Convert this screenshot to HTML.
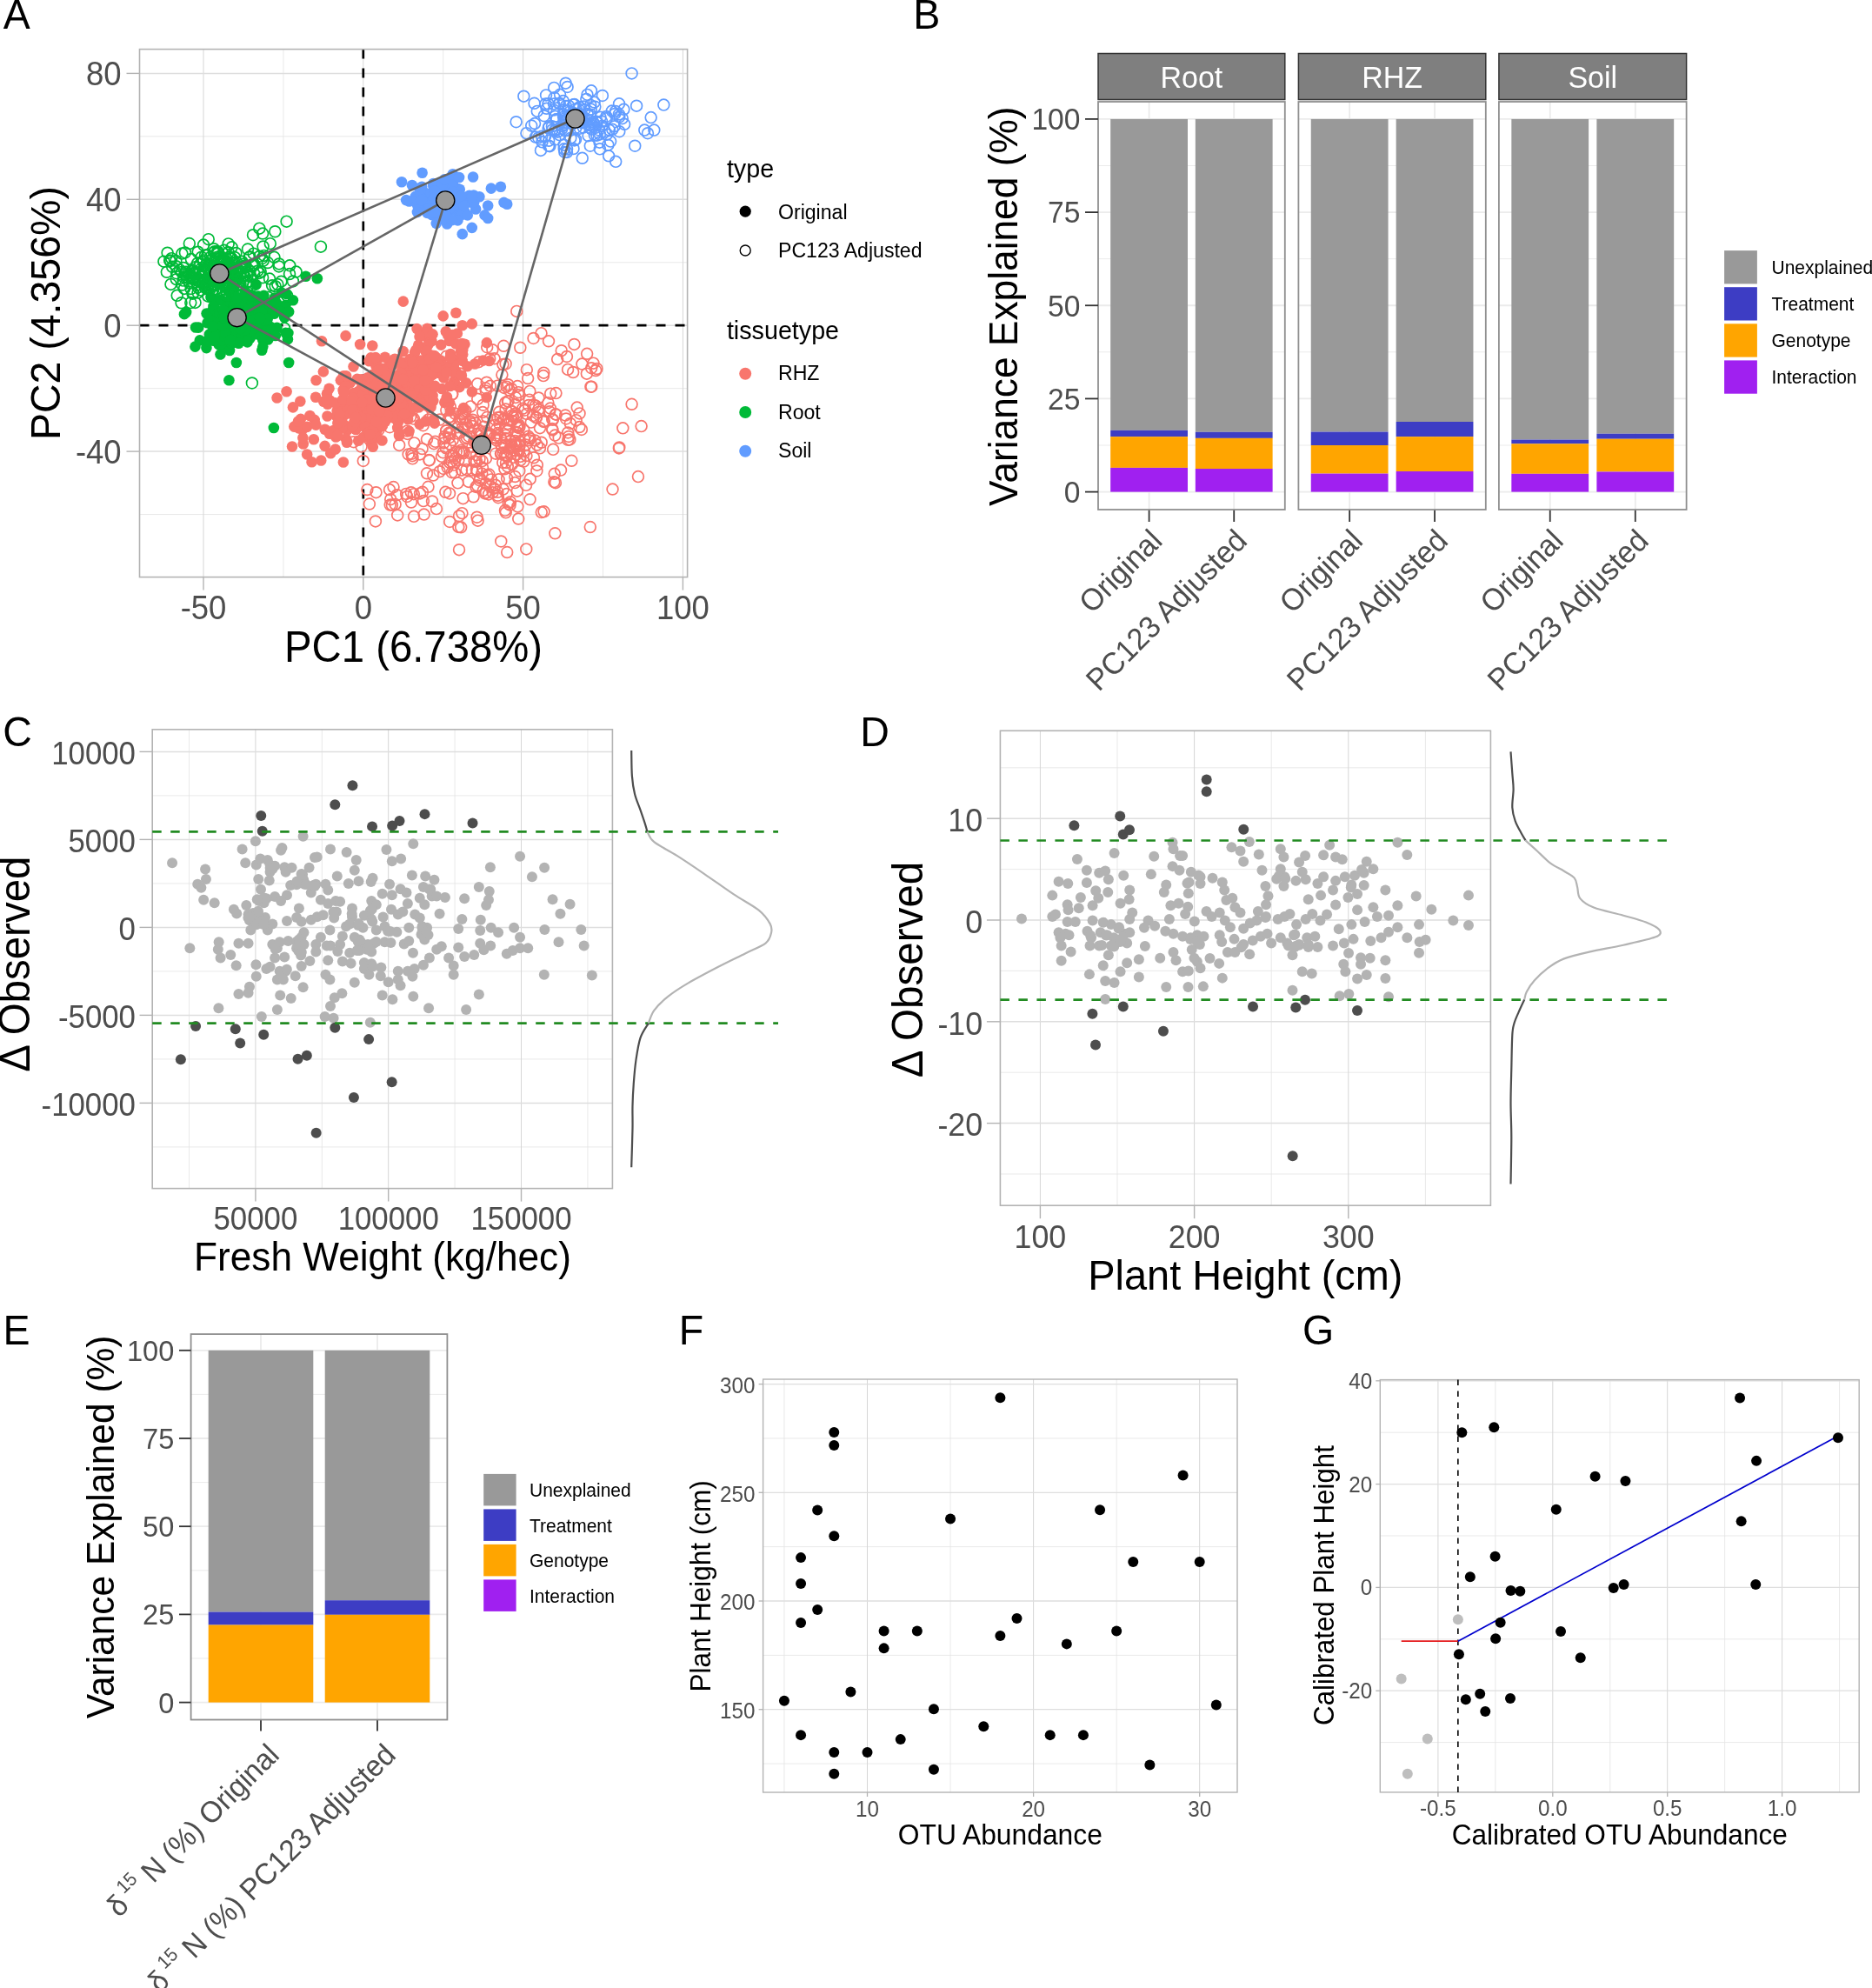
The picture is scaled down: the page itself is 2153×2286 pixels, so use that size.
<!DOCTYPE html>
<html><head><meta charset="utf-8"><style>
html,body{margin:0;padding:0;background:#fff;}
svg{display:block;will-change:transform;}
text{font-family:"Liberation Sans", sans-serif;-webkit-font-smoothing:antialiased;}
</style></head><body>
<svg width="2153" height="2286" viewBox="0 0 2153 2286">
<rect width="2153" height="2286" fill="#fff"/>
<text transform="translate(3.8 32.9) scale(1 1.03)" font-size="46.5" fill="#000" text-anchor="start">A</text>
<text transform="translate(1050.2 32.9) scale(1 1.03)" font-size="46.5" fill="#000" text-anchor="start">B</text>
<text transform="translate(3.3 857.8) scale(1 1.03)" font-size="46.5" fill="#000" text-anchor="start">C</text>
<text transform="translate(989.2 858) scale(1 1.03)" font-size="46.5" fill="#000" text-anchor="start">D</text>
<text transform="translate(3.5 1545.7) scale(1 1.03)" font-size="46.5" fill="#000" text-anchor="start">E</text>
<text transform="translate(780.8 1545.8) scale(1 1.03)" font-size="46.5" fill="#000" text-anchor="start">F</text>
<text transform="translate(1498.1 1545.7) scale(1 1.03)" font-size="46.5" fill="#000" text-anchor="start">G</text>
<clipPath id="clipA"><rect x="160.5" y="56.6" width="630.1" height="607"/></clipPath>
<line x1="325.9" y1="56.6" x2="325.9" y2="663.6" stroke="#E3E3E3" stroke-width="0.8"/>
<line x1="509.7" y1="56.6" x2="509.7" y2="663.6" stroke="#E3E3E3" stroke-width="0.8"/>
<line x1="693.5" y1="56.6" x2="693.5" y2="663.6" stroke="#E3E3E3" stroke-width="0.8"/>
<line x1="160.5" y1="591.55" x2="790.6" y2="591.55" stroke="#E3E3E3" stroke-width="0.8"/>
<line x1="160.5" y1="446.65" x2="790.6" y2="446.65" stroke="#E3E3E3" stroke-width="0.8"/>
<line x1="160.5" y1="301.75" x2="790.6" y2="301.75" stroke="#E3E3E3" stroke-width="0.8"/>
<line x1="160.5" y1="156.85" x2="790.6" y2="156.85" stroke="#E3E3E3" stroke-width="0.8"/>
<line x1="234" y1="56.6" x2="234" y2="663.6" stroke="#D6D6D6" stroke-width="1.0"/>
<line x1="417.8" y1="56.6" x2="417.8" y2="663.6" stroke="#D6D6D6" stroke-width="1.0"/>
<line x1="601.6" y1="56.6" x2="601.6" y2="663.6" stroke="#D6D6D6" stroke-width="1.0"/>
<line x1="785.4" y1="56.6" x2="785.4" y2="663.6" stroke="#D6D6D6" stroke-width="1.0"/>
<line x1="160.5" y1="519.1" x2="790.6" y2="519.1" stroke="#DEDEDE" stroke-width="1.5"/>
<line x1="160.5" y1="374.2" x2="790.6" y2="374.2" stroke="#DEDEDE" stroke-width="1.5"/>
<line x1="160.5" y1="229.3" x2="790.6" y2="229.3" stroke="#DEDEDE" stroke-width="1.5"/>
<line x1="160.5" y1="84.4" x2="790.6" y2="84.4" stroke="#DEDEDE" stroke-width="1.5"/>
<line x1="417.8" y1="56.6" x2="417.8" y2="663.6" stroke="#000" stroke-width="2.7" stroke-dasharray="11 11"/>
<line x1="160.5" y1="374.2" x2="790.6" y2="374.2" stroke="#000" stroke-width="2.7" stroke-dasharray="11 11"/>
<g clip-path="url(#clipA)">
<circle cx="267.85" cy="363.62" r="6.3" fill="#00BA38"/><circle cx="268.57" cy="314.25" r="6.4" fill="none" stroke="#00BA38" stroke-width="1.7"/><circle cx="548.76" cy="541.79" r="6.4" fill="none" stroke="#F8766D" stroke-width="1.7"/><circle cx="503.97" cy="414.18" r="6.3" fill="#F8766D"/><circle cx="467.08" cy="567.9" r="6.4" fill="none" stroke="#F8766D" stroke-width="1.7"/><circle cx="653.3" cy="505.85" r="6.4" fill="none" stroke="#F8766D" stroke-width="1.7"/><circle cx="505.47" cy="418.41" r="6.3" fill="#F8766D"/><circle cx="402.47" cy="470.11" r="6.3" fill="#F8766D"/><circle cx="587.51" cy="506.55" r="6.4" fill="none" stroke="#F8766D" stroke-width="1.7"/><circle cx="461.86" cy="453.52" r="6.3" fill="#F8766D"/><circle cx="262.12" cy="331.8" r="6.4" fill="none" stroke="#00BA38" stroke-width="1.7"/><circle cx="580.44" cy="539.34" r="6.4" fill="none" stroke="#F8766D" stroke-width="1.7"/><circle cx="658.21" cy="142.55" r="6.4" fill="none" stroke="#619CFF" stroke-width="1.7"/><circle cx="700.85" cy="149.6" r="6.4" fill="none" stroke="#619CFF" stroke-width="1.7"/><circle cx="290.33" cy="364.33" r="6.3" fill="#00BA38"/><circle cx="679.42" cy="444.74" r="6.4" fill="none" stroke="#F8766D" stroke-width="1.7"/><circle cx="557.49" cy="247.41" r="6.3" fill="#619CFF"/><circle cx="301.29" cy="368.25" r="6.3" fill="#00BA38"/><circle cx="265.77" cy="348.46" r="6.3" fill="#00BA38"/><circle cx="635.26" cy="482.41" r="6.4" fill="none" stroke="#F8766D" stroke-width="1.7"/><circle cx="276.52" cy="360.13" r="6.3" fill="#00BA38"/><circle cx="546.44" cy="486.33" r="6.4" fill="none" stroke="#F8766D" stroke-width="1.7"/><circle cx="257.78" cy="312.65" r="6.4" fill="none" stroke="#00BA38" stroke-width="1.7"/><circle cx="707.96" cy="127.89" r="6.4" fill="none" stroke="#619CFF" stroke-width="1.7"/><circle cx="274.03" cy="370.88" r="6.3" fill="#00BA38"/><circle cx="619.23" cy="471.05" r="6.4" fill="none" stroke="#F8766D" stroke-width="1.7"/><circle cx="315.78" cy="342.49" r="6.3" fill="#00BA38"/><circle cx="316.62" cy="329.2" r="6.4" fill="none" stroke="#00BA38" stroke-width="1.7"/><circle cx="402.6" cy="440.38" r="6.3" fill="#F8766D"/><circle cx="455.84" cy="459.89" r="6.3" fill="#F8766D"/><circle cx="251.74" cy="396.27" r="6.3" fill="#00BA38"/><circle cx="707.13" cy="130.97" r="6.4" fill="none" stroke="#619CFF" stroke-width="1.7"/><circle cx="441.8" cy="455.15" r="6.3" fill="#F8766D"/><circle cx="280.53" cy="355.51" r="6.3" fill="#00BA38"/><circle cx="498.05" cy="446.47" r="6.3" fill="#F8766D"/><circle cx="581.03" cy="523.17" r="6.4" fill="none" stroke="#F8766D" stroke-width="1.7"/><circle cx="415.85" cy="477.93" r="6.3" fill="#F8766D"/><circle cx="483.91" cy="414.52" r="6.3" fill="#F8766D"/><circle cx="460.31" cy="474.52" r="6.3" fill="#F8766D"/><circle cx="571.43" cy="500.81" r="6.4" fill="none" stroke="#F8766D" stroke-width="1.7"/><circle cx="498.19" cy="213.6" r="6.3" fill="#619CFF"/><circle cx="260" cy="353.13" r="6.3" fill="#00BA38"/><circle cx="266.83" cy="356.34" r="6.3" fill="#00BA38"/><circle cx="527.39" cy="529.01" r="6.4" fill="none" stroke="#F8766D" stroke-width="1.7"/><circle cx="453.91" cy="413.63" r="6.3" fill="#F8766D"/><circle cx="588.52" cy="483.85" r="6.4" fill="none" stroke="#F8766D" stroke-width="1.7"/><circle cx="419.71" cy="491.24" r="6.3" fill="#F8766D"/><circle cx="539.34" cy="501.73" r="6.4" fill="none" stroke="#F8766D" stroke-width="1.7"/><circle cx="246.98" cy="289.19" r="6.4" fill="none" stroke="#00BA38" stroke-width="1.7"/><circle cx="508.16" cy="235.08" r="6.3" fill="#619CFF"/><circle cx="214.73" cy="318.58" r="6.4" fill="none" stroke="#00BA38" stroke-width="1.7"/><circle cx="267.44" cy="327.39" r="6.4" fill="none" stroke="#00BA38" stroke-width="1.7"/><circle cx="622.68" cy="508.75" r="6.4" fill="none" stroke="#F8766D" stroke-width="1.7"/><circle cx="227.51" cy="336.59" r="6.4" fill="none" stroke="#00BA38" stroke-width="1.7"/><circle cx="547.11" cy="240.53" r="6.3" fill="#619CFF"/><circle cx="266.05" cy="360.88" r="6.3" fill="#00BA38"/><circle cx="472.09" cy="431.06" r="6.4" fill="none" stroke="#F8766D" stroke-width="1.7"/><circle cx="447.73" cy="421.3" r="6.3" fill="#F8766D"/><circle cx="598.55" cy="524.94" r="6.4" fill="none" stroke="#F8766D" stroke-width="1.7"/><circle cx="467.33" cy="421.85" r="6.3" fill="#F8766D"/><circle cx="550.97" cy="494.73" r="6.4" fill="none" stroke="#F8766D" stroke-width="1.7"/><circle cx="282.34" cy="364.79" r="6.3" fill="#00BA38"/><circle cx="559.68" cy="439.74" r="6.4" fill="none" stroke="#F8766D" stroke-width="1.7"/><circle cx="231.16" cy="333.68" r="6.4" fill="none" stroke="#00BA38" stroke-width="1.7"/><circle cx="345.81" cy="481.89" r="6.3" fill="#F8766D"/><circle cx="524.91" cy="239.53" r="6.3" fill="#619CFF"/><circle cx="269.77" cy="377.09" r="6.3" fill="#00BA38"/><circle cx="631.01" cy="392.31" r="6.4" fill="none" stroke="#F8766D" stroke-width="1.7"/><circle cx="617.77" cy="127.88" r="6.4" fill="none" stroke="#619CFF" stroke-width="1.7"/><circle cx="256.56" cy="298.7" r="6.4" fill="none" stroke="#00BA38" stroke-width="1.7"/><circle cx="505.21" cy="415.08" r="6.3" fill="#F8766D"/><circle cx="480.97" cy="238.74" r="6.3" fill="#619CFF"/><circle cx="549.55" cy="598.64" r="6.4" fill="none" stroke="#F8766D" stroke-width="1.7"/><circle cx="264.59" cy="315.87" r="6.4" fill="none" stroke="#00BA38" stroke-width="1.7"/><circle cx="329.58" cy="254.66" r="6.4" fill="none" stroke="#00BA38" stroke-width="1.7"/><circle cx="436.69" cy="425.26" r="6.3" fill="#F8766D"/><circle cx="274.91" cy="327.04" r="6.4" fill="none" stroke="#00BA38" stroke-width="1.7"/><circle cx="276.88" cy="343.84" r="6.3" fill="#00BA38"/><circle cx="266.62" cy="307.48" r="6.4" fill="none" stroke="#00BA38" stroke-width="1.7"/><circle cx="486.99" cy="241.31" r="6.3" fill="#619CFF"/><circle cx="270.87" cy="369.69" r="6.3" fill="#00BA38"/><circle cx="563.32" cy="499" r="6.4" fill="none" stroke="#F8766D" stroke-width="1.7"/><circle cx="211.02" cy="308.08" r="6.4" fill="none" stroke="#00BA38" stroke-width="1.7"/><circle cx="333.25" cy="305.37" r="6.4" fill="none" stroke="#00BA38" stroke-width="1.7"/><circle cx="299.65" cy="312.24" r="6.4" fill="none" stroke="#00BA38" stroke-width="1.7"/><circle cx="448.12" cy="417.96" r="6.3" fill="#F8766D"/><circle cx="472.02" cy="430.93" r="6.3" fill="#F8766D"/><circle cx="302.57" cy="283.5" r="6.4" fill="none" stroke="#00BA38" stroke-width="1.7"/><circle cx="651.92" cy="409.97" r="6.4" fill="none" stroke="#F8766D" stroke-width="1.7"/><circle cx="212.92" cy="290.44" r="6.4" fill="none" stroke="#00BA38" stroke-width="1.7"/><circle cx="583.22" cy="635.02" r="6.4" fill="none" stroke="#F8766D" stroke-width="1.7"/><circle cx="262.67" cy="280.38" r="6.4" fill="none" stroke="#00BA38" stroke-width="1.7"/><circle cx="501.86" cy="219.37" r="6.3" fill="#619CFF"/><circle cx="239.41" cy="327.73" r="6.4" fill="none" stroke="#00BA38" stroke-width="1.7"/><circle cx="689.49" cy="163.68" r="6.4" fill="none" stroke="#619CFF" stroke-width="1.7"/><circle cx="241.8" cy="295.88" r="6.4" fill="none" stroke="#00BA38" stroke-width="1.7"/><circle cx="406.77" cy="508.23" r="6.4" fill="none" stroke="#F8766D" stroke-width="1.7"/><circle cx="203.7" cy="339.83" r="6.4" fill="none" stroke="#00BA38" stroke-width="1.7"/><circle cx="678.8" cy="606.04" r="6.4" fill="none" stroke="#F8766D" stroke-width="1.7"/><circle cx="513.72" cy="457.55" r="6.3" fill="#F8766D"/><circle cx="531.15" cy="519.86" r="6.4" fill="none" stroke="#F8766D" stroke-width="1.7"/><circle cx="650.23" cy="477.53" r="6.4" fill="none" stroke="#F8766D" stroke-width="1.7"/><circle cx="507.8" cy="227.03" r="6.3" fill="#619CFF"/><circle cx="620.97" cy="515.34" r="6.4" fill="none" stroke="#F8766D" stroke-width="1.7"/><circle cx="706.81" cy="145.18" r="6.4" fill="none" stroke="#619CFF" stroke-width="1.7"/><circle cx="284.4" cy="379.54" r="6.3" fill="#00BA38"/><circle cx="266.43" cy="364.03" r="6.3" fill="#00BA38"/><circle cx="288.65" cy="356.71" r="6.3" fill="#00BA38"/><circle cx="188.42" cy="300.66" r="6.4" fill="none" stroke="#00BA38" stroke-width="1.7"/><circle cx="524.51" cy="242.37" r="6.3" fill="#619CFF"/><circle cx="579.8" cy="445.94" r="6.4" fill="none" stroke="#F8766D" stroke-width="1.7"/><circle cx="560.09" cy="497.86" r="6.4" fill="none" stroke="#F8766D" stroke-width="1.7"/><circle cx="253.75" cy="371.81" r="6.3" fill="#00BA38"/><circle cx="256" cy="303.96" r="6.4" fill="none" stroke="#00BA38" stroke-width="1.7"/><circle cx="497.02" cy="576.5" r="6.4" fill="none" stroke="#F8766D" stroke-width="1.7"/><circle cx="609.66" cy="504.2" r="6.4" fill="none" stroke="#F8766D" stroke-width="1.7"/><circle cx="257.49" cy="388.58" r="6.3" fill="#00BA38"/><circle cx="588.11" cy="446.95" r="6.4" fill="none" stroke="#F8766D" stroke-width="1.7"/><circle cx="496.47" cy="392.28" r="6.3" fill="#F8766D"/><circle cx="213.51" cy="312.9" r="6.4" fill="none" stroke="#00BA38" stroke-width="1.7"/><circle cx="291.47" cy="377.28" r="6.3" fill="#00BA38"/><circle cx="197.21" cy="297.13" r="6.4" fill="none" stroke="#00BA38" stroke-width="1.7"/><circle cx="520.73" cy="385.07" r="6.3" fill="#F8766D"/><circle cx="480.27" cy="435.84" r="6.3" fill="#F8766D"/><circle cx="704.53" cy="562.57" r="6.4" fill="none" stroke="#F8766D" stroke-width="1.7"/><circle cx="263.11" cy="304.89" r="6.4" fill="none" stroke="#00BA38" stroke-width="1.7"/><circle cx="575.52" cy="479.6" r="6.4" fill="none" stroke="#F8766D" stroke-width="1.7"/><circle cx="462.75" cy="440.13" r="6.3" fill="#F8766D"/><circle cx="548" cy="523.17" r="6.4" fill="none" stroke="#F8766D" stroke-width="1.7"/><circle cx="257.48" cy="370.01" r="6.3" fill="#00BA38"/><circle cx="528.97" cy="482.29" r="6.4" fill="none" stroke="#F8766D" stroke-width="1.7"/><circle cx="741.29" cy="149.6" r="6.4" fill="none" stroke="#619CFF" stroke-width="1.7"/><circle cx="368.91" cy="283.64" r="6.4" fill="none" stroke="#00BA38" stroke-width="1.7"/><circle cx="531.44" cy="238.12" r="6.3" fill="#619CFF"/><circle cx="489.86" cy="404.75" r="6.3" fill="#F8766D"/><circle cx="560.19" cy="399.21" r="6.4" fill="none" stroke="#F8766D" stroke-width="1.7"/><circle cx="234.03" cy="314.21" r="6.4" fill="none" stroke="#00BA38" stroke-width="1.7"/><circle cx="522.21" cy="413.09" r="6.3" fill="#F8766D"/><circle cx="670.85" cy="146.58" r="6.4" fill="none" stroke="#619CFF" stroke-width="1.7"/><circle cx="261.92" cy="312.57" r="6.4" fill="none" stroke="#00BA38" stroke-width="1.7"/><circle cx="241.15" cy="330.87" r="6.4" fill="none" stroke="#00BA38" stroke-width="1.7"/><circle cx="267.43" cy="366.02" r="6.3" fill="#00BA38"/><circle cx="510.53" cy="423.8" r="6.3" fill="#F8766D"/><circle cx="583.22" cy="234.73" r="6.3" fill="#619CFF"/><circle cx="653.19" cy="497.46" r="6.4" fill="none" stroke="#F8766D" stroke-width="1.7"/><circle cx="292.17" cy="384.37" r="6.3" fill="#00BA38"/><circle cx="669.4" cy="418.59" r="6.4" fill="none" stroke="#F8766D" stroke-width="1.7"/><circle cx="262.53" cy="378.35" r="6.3" fill="#00BA38"/><circle cx="462.28" cy="436.26" r="6.3" fill="#F8766D"/><circle cx="637.2" cy="100.9" r="6.4" fill="none" stroke="#619CFF" stroke-width="1.7"/><circle cx="267.3" cy="386.39" r="6.3" fill="#00BA38"/><circle cx="429.45" cy="494.55" r="6.3" fill="#F8766D"/><circle cx="264.52" cy="387.59" r="6.3" fill="#00BA38"/><circle cx="310.79" cy="280.16" r="6.4" fill="none" stroke="#00BA38" stroke-width="1.7"/><circle cx="470.62" cy="231.48" r="6.3" fill="#619CFF"/><circle cx="254.35" cy="344.87" r="6.3" fill="#00BA38"/><circle cx="257.46" cy="396.81" r="6.3" fill="#00BA38"/><circle cx="516.14" cy="480.2" r="6.4" fill="none" stroke="#F8766D" stroke-width="1.7"/><circle cx="269.98" cy="295.95" r="6.4" fill="none" stroke="#00BA38" stroke-width="1.7"/><circle cx="438.6" cy="460.76" r="6.3" fill="#F8766D"/><circle cx="395.23" cy="432.21" r="6.3" fill="#F8766D"/><circle cx="398.21" cy="490.03" r="6.3" fill="#F8766D"/><circle cx="316.73" cy="359.05" r="6.3" fill="#00BA38"/><circle cx="483.14" cy="240.23" r="6.3" fill="#619CFF"/><circle cx="528.91" cy="226.75" r="6.3" fill="#619CFF"/><circle cx="266.03" cy="371.67" r="6.3" fill="#00BA38"/><circle cx="291.57" cy="354.4" r="6.3" fill="#00BA38"/><circle cx="271.33" cy="313.32" r="6.4" fill="none" stroke="#00BA38" stroke-width="1.7"/><circle cx="277.84" cy="368.11" r="6.3" fill="#00BA38"/><circle cx="297.02" cy="374.6" r="6.3" fill="#00BA38"/><circle cx="276.29" cy="353.28" r="6.3" fill="#00BA38"/><circle cx="475.88" cy="481.62" r="6.4" fill="none" stroke="#F8766D" stroke-width="1.7"/><circle cx="533.24" cy="468.94" r="6.3" fill="#F8766D"/><circle cx="428.86" cy="513.76" r="6.3" fill="#F8766D"/><circle cx="320.84" cy="357.07" r="6.3" fill="#00BA38"/><circle cx="625.74" cy="133.24" r="6.4" fill="none" stroke="#619CFF" stroke-width="1.7"/><circle cx="289.58" cy="341.49" r="6.4" fill="none" stroke="#00BA38" stroke-width="1.7"/><circle cx="492.84" cy="482.46" r="6.4" fill="none" stroke="#F8766D" stroke-width="1.7"/><circle cx="320.95" cy="303.44" r="6.4" fill="none" stroke="#00BA38" stroke-width="1.7"/><circle cx="486.65" cy="489.24" r="6.4" fill="none" stroke="#F8766D" stroke-width="1.7"/><circle cx="251.68" cy="368.13" r="6.3" fill="#00BA38"/><circle cx="447.35" cy="470.03" r="6.3" fill="#F8766D"/><circle cx="292.18" cy="314.73" r="6.4" fill="none" stroke="#00BA38" stroke-width="1.7"/><circle cx="211.94" cy="361.16" r="6.3" fill="#00BA38"/><circle cx="530.47" cy="517.83" r="6.4" fill="none" stroke="#F8766D" stroke-width="1.7"/><circle cx="494.34" cy="433.02" r="6.3" fill="#F8766D"/><circle cx="286.28" cy="353.02" r="6.3" fill="#00BA38"/><circle cx="509.29" cy="210.11" r="6.3" fill="#619CFF"/><circle cx="531.73" cy="414.92" r="6.3" fill="#F8766D"/><circle cx="234.73" cy="312.59" r="6.4" fill="none" stroke="#00BA38" stroke-width="1.7"/><circle cx="265.78" cy="357.15" r="6.3" fill="#00BA38"/><circle cx="524.4" cy="359.71" r="6.3" fill="#F8766D"/><circle cx="482.82" cy="522.39" r="6.4" fill="none" stroke="#F8766D" stroke-width="1.7"/><circle cx="733.94" cy="548.08" r="6.4" fill="none" stroke="#F8766D" stroke-width="1.7"/><circle cx="512.84" cy="381.26" r="6.3" fill="#F8766D"/><circle cx="554.6" cy="530.08" r="6.4" fill="none" stroke="#F8766D" stroke-width="1.7"/><circle cx="540.51" cy="485.92" r="6.4" fill="none" stroke="#F8766D" stroke-width="1.7"/><circle cx="517.11" cy="531.91" r="6.4" fill="none" stroke="#F8766D" stroke-width="1.7"/><circle cx="630.64" cy="147.25" r="6.4" fill="none" stroke="#619CFF" stroke-width="1.7"/><circle cx="656.34" cy="158.63" r="6.4" fill="none" stroke="#619CFF" stroke-width="1.7"/><circle cx="518.42" cy="228.87" r="6.3" fill="#619CFF"/><circle cx="263.34" cy="326.14" r="6.4" fill="none" stroke="#00BA38" stroke-width="1.7"/><circle cx="264.89" cy="382.1" r="6.3" fill="#00BA38"/><circle cx="574.42" cy="487.6" r="6.4" fill="none" stroke="#F8766D" stroke-width="1.7"/><circle cx="244.61" cy="320.51" r="6.4" fill="none" stroke="#00BA38" stroke-width="1.7"/><circle cx="467.08" cy="230.11" r="6.3" fill="#619CFF"/><circle cx="635.11" cy="493.05" r="6.4" fill="none" stroke="#F8766D" stroke-width="1.7"/><circle cx="447.52" cy="464.18" r="6.3" fill="#F8766D"/><circle cx="695.59" cy="151.22" r="6.4" fill="none" stroke="#619CFF" stroke-width="1.7"/><circle cx="485.2" cy="214.72" r="6.3" fill="#619CFF"/><circle cx="258.45" cy="308.08" r="6.4" fill="none" stroke="#00BA38" stroke-width="1.7"/><circle cx="417.68" cy="454.39" r="6.3" fill="#F8766D"/><circle cx="643.4" cy="155.13" r="6.4" fill="none" stroke="#619CFF" stroke-width="1.7"/><circle cx="665.15" cy="125.29" r="6.4" fill="none" stroke="#619CFF" stroke-width="1.7"/><circle cx="432.37" cy="468.65" r="6.3" fill="#F8766D"/><circle cx="711.88" cy="131.49" r="6.4" fill="none" stroke="#619CFF" stroke-width="1.7"/><circle cx="488.59" cy="444.88" r="6.3" fill="#F8766D"/><circle cx="448.1" cy="464.56" r="6.3" fill="#F8766D"/><circle cx="534.03" cy="473.89" r="6.4" fill="none" stroke="#F8766D" stroke-width="1.7"/><circle cx="649.54" cy="136.17" r="6.4" fill="none" stroke="#619CFF" stroke-width="1.7"/><circle cx="499.61" cy="409.36" r="6.3" fill="#F8766D"/><circle cx="485.42" cy="449.02" r="6.3" fill="#F8766D"/><circle cx="230.29" cy="303.62" r="6.4" fill="none" stroke="#00BA38" stroke-width="1.7"/><circle cx="302.49" cy="377.28" r="6.3" fill="#00BA38"/><circle cx="538.87" cy="553.93" r="6.4" fill="none" stroke="#F8766D" stroke-width="1.7"/><circle cx="270.52" cy="379.81" r="6.3" fill="#00BA38"/><circle cx="678.8" cy="167.72" r="6.4" fill="none" stroke="#619CFF" stroke-width="1.7"/><circle cx="483.1" cy="220.18" r="6.3" fill="#619CFF"/><circle cx="588.4" cy="473.35" r="6.4" fill="none" stroke="#F8766D" stroke-width="1.7"/><circle cx="234.75" cy="310.19" r="6.4" fill="none" stroke="#00BA38" stroke-width="1.7"/><circle cx="399.4" cy="494.61" r="6.3" fill="#F8766D"/><circle cx="448.11" cy="429.75" r="6.3" fill="#F8766D"/><circle cx="267.82" cy="337.48" r="6.3" fill="#00BA38"/><circle cx="683.37" cy="142.73" r="6.4" fill="none" stroke="#619CFF" stroke-width="1.7"/><circle cx="464.73" cy="419.97" r="6.3" fill="#F8766D"/><circle cx="468.61" cy="498.9" r="6.4" fill="none" stroke="#F8766D" stroke-width="1.7"/><circle cx="298.34" cy="384.95" r="6.3" fill="#00BA38"/><circle cx="286.69" cy="356.91" r="6.3" fill="#00BA38"/><circle cx="666.59" cy="123.01" r="6.4" fill="none" stroke="#619CFF" stroke-width="1.7"/><circle cx="294.92" cy="356.1" r="6.3" fill="#00BA38"/><circle cx="203.05" cy="314.24" r="6.4" fill="none" stroke="#00BA38" stroke-width="1.7"/><circle cx="437.07" cy="452.17" r="6.3" fill="#F8766D"/><circle cx="257.82" cy="287.85" r="6.4" fill="none" stroke="#00BA38" stroke-width="1.7"/><circle cx="485.96" cy="565.85" r="6.4" fill="none" stroke="#F8766D" stroke-width="1.7"/><circle cx="428.58" cy="430.86" r="6.3" fill="#F8766D"/><circle cx="274.29" cy="371.69" r="6.3" fill="#00BA38"/><circle cx="481.21" cy="458.2" r="6.3" fill="#F8766D"/><circle cx="263.49" cy="360.06" r="6.3" fill="#00BA38"/><circle cx="268.49" cy="328.12" r="6.4" fill="none" stroke="#00BA38" stroke-width="1.7"/><circle cx="442.48" cy="470.07" r="6.3" fill="#F8766D"/><circle cx="497.58" cy="454.94" r="6.3" fill="#F8766D"/><circle cx="457.16" cy="455.37" r="6.3" fill="#F8766D"/><circle cx="271.48" cy="323.24" r="6.4" fill="none" stroke="#00BA38" stroke-width="1.7"/><circle cx="466.92" cy="435" r="6.3" fill="#F8766D"/><circle cx="478.88" cy="447.82" r="6.3" fill="#F8766D"/><circle cx="480" cy="235.28" r="6.3" fill="#619CFF"/><circle cx="222.54" cy="313.95" r="6.4" fill="none" stroke="#00BA38" stroke-width="1.7"/><circle cx="250.94" cy="311.38" r="6.4" fill="none" stroke="#00BA38" stroke-width="1.7"/><circle cx="239.75" cy="275.13" r="6.4" fill="none" stroke="#00BA38" stroke-width="1.7"/><circle cx="278.22" cy="372.61" r="6.3" fill="#00BA38"/><circle cx="555.7" cy="505.15" r="6.4" fill="none" stroke="#F8766D" stroke-width="1.7"/><circle cx="266" cy="310.88" r="6.4" fill="none" stroke="#00BA38" stroke-width="1.7"/><circle cx="530.84" cy="475.99" r="6.4" fill="none" stroke="#F8766D" stroke-width="1.7"/><circle cx="573.6" cy="551.33" r="6.4" fill="none" stroke="#F8766D" stroke-width="1.7"/><circle cx="554.27" cy="544.54" r="6.4" fill="none" stroke="#F8766D" stroke-width="1.7"/><circle cx="505.8" cy="482.46" r="6.4" fill="none" stroke="#F8766D" stroke-width="1.7"/><circle cx="509.63" cy="520.35" r="6.4" fill="none" stroke="#F8766D" stroke-width="1.7"/><circle cx="470.59" cy="495.84" r="6.3" fill="#F8766D"/><circle cx="452.81" cy="439.86" r="6.3" fill="#F8766D"/><circle cx="515.84" cy="216.44" r="6.3" fill="#619CFF"/><circle cx="453.09" cy="432.46" r="6.3" fill="#F8766D"/><circle cx="252.22" cy="303.2" r="6.4" fill="none" stroke="#00BA38" stroke-width="1.7"/><circle cx="504.9" cy="220.28" r="6.3" fill="#619CFF"/><circle cx="501.06" cy="242.28" r="6.3" fill="#619CFF"/><circle cx="238.52" cy="308.13" r="6.4" fill="none" stroke="#00BA38" stroke-width="1.7"/><circle cx="466.78" cy="442.07" r="6.3" fill="#F8766D"/><circle cx="250.09" cy="289.19" r="6.4" fill="none" stroke="#00BA38" stroke-width="1.7"/><circle cx="507.09" cy="225.36" r="6.3" fill="#619CFF"/><circle cx="263.34" cy="331.92" r="6.4" fill="none" stroke="#00BA38" stroke-width="1.7"/><circle cx="279.56" cy="324.3" r="6.4" fill="none" stroke="#00BA38" stroke-width="1.7"/><circle cx="594.48" cy="477.93" r="6.4" fill="none" stroke="#F8766D" stroke-width="1.7"/><circle cx="325.9" cy="359.71" r="6.3" fill="#00BA38"/><circle cx="490.67" cy="229.35" r="6.3" fill="#619CFF"/><circle cx="431.12" cy="489.79" r="6.3" fill="#F8766D"/><circle cx="488.46" cy="221.96" r="6.3" fill="#619CFF"/><circle cx="542.84" cy="450.48" r="6.3" fill="#F8766D"/><circle cx="219.3" cy="348.12" r="6.4" fill="none" stroke="#00BA38" stroke-width="1.7"/><circle cx="258.48" cy="312.02" r="6.4" fill="none" stroke="#00BA38" stroke-width="1.7"/><circle cx="311.43" cy="376.15" r="6.3" fill="#00BA38"/><circle cx="669.44" cy="141.14" r="6.4" fill="none" stroke="#619CFF" stroke-width="1.7"/><circle cx="523.52" cy="224.08" r="6.3" fill="#619CFF"/><circle cx="283.32" cy="382.53" r="6.3" fill="#00BA38"/><circle cx="530.15" cy="606.36" r="6.4" fill="none" stroke="#F8766D" stroke-width="1.7"/><circle cx="242.51" cy="342.05" r="6.3" fill="#00BA38"/><circle cx="295.94" cy="383.9" r="6.3" fill="#00BA38"/><circle cx="647.78" cy="116.1" r="6.4" fill="none" stroke="#619CFF" stroke-width="1.7"/><circle cx="292.03" cy="305.09" r="6.4" fill="none" stroke="#00BA38" stroke-width="1.7"/><circle cx="491.8" cy="444.24" r="6.3" fill="#F8766D"/><circle cx="391.85" cy="437.35" r="6.3" fill="#F8766D"/><circle cx="631.18" cy="161.77" r="6.4" fill="none" stroke="#619CFF" stroke-width="1.7"/><circle cx="495.58" cy="237.42" r="6.3" fill="#619CFF"/><circle cx="267.46" cy="336.12" r="6.3" fill="#00BA38"/><circle cx="511.34" cy="462.82" r="6.3" fill="#F8766D"/><circle cx="614.53" cy="118.78" r="6.4" fill="none" stroke="#619CFF" stroke-width="1.7"/><circle cx="542.62" cy="232.91" r="6.3" fill="#619CFF"/><circle cx="683.58" cy="117.51" r="6.4" fill="none" stroke="#619CFF" stroke-width="1.7"/><circle cx="498.26" cy="546.5" r="6.4" fill="none" stroke="#F8766D" stroke-width="1.7"/><circle cx="253.76" cy="369.61" r="6.3" fill="#00BA38"/><circle cx="548.99" cy="499.18" r="6.4" fill="none" stroke="#F8766D" stroke-width="1.7"/><circle cx="425.2" cy="450.83" r="6.3" fill="#F8766D"/><circle cx="648.36" cy="143.35" r="6.4" fill="none" stroke="#619CFF" stroke-width="1.7"/><circle cx="517.43" cy="510.56" r="6.4" fill="none" stroke="#F8766D" stroke-width="1.7"/><circle cx="638.21" cy="150.65" r="6.4" fill="none" stroke="#619CFF" stroke-width="1.7"/><circle cx="298.32" cy="313.94" r="6.4" fill="none" stroke="#00BA38" stroke-width="1.7"/><circle cx="594.25" cy="357.9" r="6.4" fill="none" stroke="#F8766D" stroke-width="1.7"/><circle cx="636.95" cy="126.54" r="6.4" fill="none" stroke="#619CFF" stroke-width="1.7"/><circle cx="276.22" cy="376.8" r="6.3" fill="#00BA38"/><circle cx="290.21" cy="361.99" r="6.3" fill="#00BA38"/><circle cx="499" cy="221.77" r="6.3" fill="#619CFF"/><circle cx="495.86" cy="411.64" r="6.3" fill="#F8766D"/><circle cx="396.39" cy="466.67" r="6.3" fill="#F8766D"/><circle cx="272.82" cy="367.43" r="6.3" fill="#00BA38"/><circle cx="309.4" cy="355.09" r="6.3" fill="#00BA38"/><circle cx="327" cy="377.46" r="6.4" fill="none" stroke="#00BA38" stroke-width="1.7"/><circle cx="242.49" cy="299.28" r="6.4" fill="none" stroke="#00BA38" stroke-width="1.7"/><circle cx="607.73" cy="501.76" r="6.4" fill="none" stroke="#F8766D" stroke-width="1.7"/><circle cx="472.15" cy="428.21" r="6.3" fill="#F8766D"/><circle cx="431.15" cy="483.31" r="6.3" fill="#F8766D"/><circle cx="474.24" cy="419.39" r="6.3" fill="#F8766D"/><circle cx="263.06" cy="349.8" r="6.3" fill="#00BA38"/><circle cx="287.63" cy="388.82" r="6.3" fill="#00BA38"/><circle cx="283.23" cy="356.75" r="6.3" fill="#00BA38"/><circle cx="432.42" cy="421.01" r="6.3" fill="#F8766D"/><circle cx="459.67" cy="450.69" r="6.3" fill="#F8766D"/><circle cx="271.98" cy="319.75" r="6.4" fill="none" stroke="#00BA38" stroke-width="1.7"/><circle cx="469.39" cy="449.77" r="6.3" fill="#F8766D"/><circle cx="669.71" cy="181.8" r="6.4" fill="none" stroke="#619CFF" stroke-width="1.7"/><circle cx="586.92" cy="577.14" r="6.4" fill="none" stroke="#F8766D" stroke-width="1.7"/><circle cx="271.68" cy="391.83" r="6.3" fill="#00BA38"/><circle cx="437.42" cy="472.3" r="6.3" fill="#F8766D"/><circle cx="260.29" cy="366.47" r="6.3" fill="#00BA38"/><circle cx="433.31" cy="437.37" r="6.3" fill="#F8766D"/><circle cx="272.68" cy="342.79" r="6.3" fill="#00BA38"/><circle cx="485.69" cy="426.17" r="6.3" fill="#F8766D"/><circle cx="677.21" cy="144.05" r="6.4" fill="none" stroke="#619CFF" stroke-width="1.7"/><circle cx="630.53" cy="119.31" r="6.4" fill="none" stroke="#619CFF" stroke-width="1.7"/><circle cx="265.64" cy="380.78" r="6.3" fill="#00BA38"/><circle cx="542.89" cy="540.58" r="6.4" fill="none" stroke="#F8766D" stroke-width="1.7"/><circle cx="595.35" cy="582.45" r="6.4" fill="none" stroke="#F8766D" stroke-width="1.7"/><circle cx="260.59" cy="373.99" r="6.3" fill="#00BA38"/><circle cx="445.61" cy="462.56" r="6.3" fill="#F8766D"/><circle cx="301.42" cy="366.87" r="6.3" fill="#00BA38"/><circle cx="471.96" cy="431.31" r="6.3" fill="#F8766D"/><circle cx="574.09" cy="473.8" r="6.4" fill="none" stroke="#F8766D" stroke-width="1.7"/><circle cx="266.34" cy="366.64" r="6.3" fill="#00BA38"/><circle cx="268.62" cy="369.99" r="6.3" fill="#00BA38"/><circle cx="433.07" cy="460.7" r="6.3" fill="#F8766D"/><circle cx="270.01" cy="319.76" r="6.4" fill="none" stroke="#00BA38" stroke-width="1.7"/><circle cx="242.79" cy="312.06" r="6.4" fill="none" stroke="#00BA38" stroke-width="1.7"/><circle cx="579.54" cy="232.92" r="6.3" fill="#619CFF"/><circle cx="281.62" cy="374.09" r="6.3" fill="#00BA38"/><circle cx="592.35" cy="548.04" r="6.4" fill="none" stroke="#F8766D" stroke-width="1.7"/><circle cx="434.2" cy="447.18" r="6.3" fill="#F8766D"/><circle cx="283.37" cy="357.64" r="6.3" fill="#00BA38"/><circle cx="596.91" cy="492.07" r="6.4" fill="none" stroke="#F8766D" stroke-width="1.7"/><circle cx="514.17" cy="257.56" r="6.3" fill="#619CFF"/><circle cx="498.36" cy="211.06" r="6.3" fill="#619CFF"/><circle cx="412.2" cy="506.8" r="6.3" fill="#F8766D"/><circle cx="278.07" cy="308.08" r="6.4" fill="none" stroke="#00BA38" stroke-width="1.7"/><circle cx="251.02" cy="301.34" r="6.4" fill="none" stroke="#00BA38" stroke-width="1.7"/><circle cx="544.82" cy="224.53" r="6.3" fill="#619CFF"/><circle cx="331.39" cy="383.01" r="6.3" fill="#00BA38"/><circle cx="596.23" cy="596.56" r="6.4" fill="none" stroke="#F8766D" stroke-width="1.7"/><circle cx="305.25" cy="346.62" r="6.3" fill="#00BA38"/><circle cx="491.94" cy="230.52" r="6.3" fill="#619CFF"/><circle cx="649.39" cy="174.96" r="6.4" fill="none" stroke="#619CFF" stroke-width="1.7"/><circle cx="227.63" cy="330.38" r="6.4" fill="none" stroke="#00BA38" stroke-width="1.7"/><circle cx="363.1" cy="456.81" r="6.3" fill="#F8766D"/><circle cx="540.42" cy="521.08" r="6.4" fill="none" stroke="#F8766D" stroke-width="1.7"/><circle cx="464.26" cy="463.67" r="6.3" fill="#F8766D"/><circle cx="685.78" cy="139.65" r="6.4" fill="none" stroke="#619CFF" stroke-width="1.7"/><circle cx="441.27" cy="469.19" r="6.3" fill="#F8766D"/><circle cx="329.58" cy="450.27" r="6.3" fill="#F8766D"/><circle cx="392.9" cy="468.02" r="6.3" fill="#F8766D"/><circle cx="572.46" cy="480.34" r="6.4" fill="none" stroke="#F8766D" stroke-width="1.7"/><circle cx="360.82" cy="505.29" r="6.3" fill="#F8766D"/><circle cx="468.16" cy="570.97" r="6.4" fill="none" stroke="#F8766D" stroke-width="1.7"/><circle cx="285.78" cy="351.45" r="6.3" fill="#00BA38"/><circle cx="473.8" cy="440.35" r="6.3" fill="#F8766D"/><circle cx="268.35" cy="379.39" r="6.3" fill="#00BA38"/><circle cx="277.58" cy="391.67" r="6.3" fill="#00BA38"/><circle cx="631.01" cy="167.72" r="6.4" fill="none" stroke="#619CFF" stroke-width="1.7"/><circle cx="261.29" cy="350.88" r="6.3" fill="#00BA38"/><circle cx="288.53" cy="343.66" r="6.3" fill="#00BA38"/><circle cx="412.8" cy="485.91" r="6.3" fill="#F8766D"/><circle cx="593.06" cy="509.91" r="6.4" fill="none" stroke="#F8766D" stroke-width="1.7"/><circle cx="573.05" cy="572.23" r="6.4" fill="none" stroke="#F8766D" stroke-width="1.7"/><circle cx="291.54" cy="342.83" r="6.3" fill="#00BA38"/><circle cx="249.75" cy="295.86" r="6.4" fill="none" stroke="#00BA38" stroke-width="1.7"/><circle cx="372.26" cy="461.68" r="6.3" fill="#F8766D"/><circle cx="259.58" cy="316.81" r="6.4" fill="none" stroke="#00BA38" stroke-width="1.7"/><circle cx="526.77" cy="228.69" r="6.3" fill="#619CFF"/><circle cx="491.45" cy="244.84" r="6.3" fill="#619CFF"/><circle cx="644.05" cy="108.83" r="6.4" fill="none" stroke="#619CFF" stroke-width="1.7"/><circle cx="633.2" cy="452.67" r="6.4" fill="none" stroke="#F8766D" stroke-width="1.7"/><circle cx="320.77" cy="306.39" r="6.4" fill="none" stroke="#00BA38" stroke-width="1.7"/><circle cx="469" cy="481.98" r="6.3" fill="#F8766D"/><circle cx="210.57" cy="322.58" r="6.4" fill="none" stroke="#00BA38" stroke-width="1.7"/><circle cx="253.14" cy="320.87" r="6.4" fill="none" stroke="#00BA38" stroke-width="1.7"/><circle cx="273.93" cy="311.51" r="6.4" fill="none" stroke="#00BA38" stroke-width="1.7"/><circle cx="252.6" cy="371.48" r="6.3" fill="#00BA38"/><circle cx="636.97" cy="119.51" r="6.4" fill="none" stroke="#619CFF" stroke-width="1.7"/><circle cx="570.9" cy="493.76" r="6.4" fill="none" stroke="#F8766D" stroke-width="1.7"/><circle cx="457.56" cy="450.25" r="6.3" fill="#F8766D"/><circle cx="499.81" cy="486.58" r="6.3" fill="#F8766D"/><circle cx="237.43" cy="400.12" r="6.3" fill="#00BA38"/><circle cx="510.99" cy="431.38" r="6.3" fill="#F8766D"/><circle cx="499.04" cy="231.03" r="6.3" fill="#619CFF"/><circle cx="583.82" cy="536.43" r="6.4" fill="none" stroke="#F8766D" stroke-width="1.7"/><circle cx="592.97" cy="457.04" r="6.4" fill="none" stroke="#F8766D" stroke-width="1.7"/><circle cx="474.72" cy="426.29" r="6.3" fill="#F8766D"/><circle cx="429.68" cy="496.08" r="6.3" fill="#F8766D"/><circle cx="478.96" cy="442.29" r="6.3" fill="#F8766D"/><circle cx="274" cy="377.14" r="6.3" fill="#00BA38"/><circle cx="196.14" cy="299.94" r="6.4" fill="none" stroke="#00BA38" stroke-width="1.7"/><circle cx="242.13" cy="320.22" r="6.4" fill="none" stroke="#00BA38" stroke-width="1.7"/><circle cx="485.55" cy="444.69" r="6.3" fill="#F8766D"/><circle cx="534.28" cy="243.49" r="6.3" fill="#619CFF"/><circle cx="407.36" cy="491.75" r="6.3" fill="#F8766D"/><circle cx="236.07" cy="293.55" r="6.4" fill="none" stroke="#00BA38" stroke-width="1.7"/><circle cx="505.4" cy="227.23" r="6.3" fill="#619CFF"/><circle cx="255.23" cy="391.13" r="6.3" fill="#00BA38"/><circle cx="535" cy="529.78" r="6.4" fill="none" stroke="#F8766D" stroke-width="1.7"/><circle cx="686.5" cy="155.68" r="6.4" fill="none" stroke="#619CFF" stroke-width="1.7"/><circle cx="258.37" cy="316.51" r="6.4" fill="none" stroke="#00BA38" stroke-width="1.7"/><circle cx="480.2" cy="439.01" r="6.3" fill="#F8766D"/><circle cx="268.69" cy="351.42" r="6.3" fill="#00BA38"/><circle cx="531.44" cy="590.15" r="6.4" fill="none" stroke="#F8766D" stroke-width="1.7"/><circle cx="595.27" cy="497.65" r="6.4" fill="none" stroke="#F8766D" stroke-width="1.7"/><circle cx="262.74" cy="290.3" r="6.4" fill="none" stroke="#00BA38" stroke-width="1.7"/><circle cx="471.97" cy="479.41" r="6.4" fill="none" stroke="#F8766D" stroke-width="1.7"/><circle cx="481.22" cy="396.62" r="6.3" fill="#F8766D"/><circle cx="525.85" cy="383.49" r="6.3" fill="#F8766D"/><circle cx="514.62" cy="537.58" r="6.4" fill="none" stroke="#F8766D" stroke-width="1.7"/><circle cx="517.97" cy="479.18" r="6.4" fill="none" stroke="#F8766D" stroke-width="1.7"/><circle cx="282.96" cy="340.79" r="6.3" fill="#00BA38"/><circle cx="660.61" cy="120.1" r="6.4" fill="none" stroke="#619CFF" stroke-width="1.7"/><circle cx="726.58" cy="84.4" r="6.4" fill="none" stroke="#619CFF" stroke-width="1.7"/><circle cx="590.67" cy="525.94" r="6.4" fill="none" stroke="#F8766D" stroke-width="1.7"/><circle cx="422.85" cy="464.44" r="6.3" fill="#F8766D"/><circle cx="478.19" cy="447.66" r="6.3" fill="#F8766D"/><circle cx="378.52" cy="446.78" r="6.3" fill="#F8766D"/><circle cx="473.54" cy="413.38" r="6.3" fill="#F8766D"/><circle cx="289.88" cy="440.49" r="6.4" fill="none" stroke="#00BA38" stroke-width="1.7"/><circle cx="594.72" cy="522.27" r="6.4" fill="none" stroke="#F8766D" stroke-width="1.7"/><circle cx="491.65" cy="239.66" r="6.3" fill="#619CFF"/><circle cx="393.47" cy="435.33" r="6.3" fill="#F8766D"/><circle cx="267.46" cy="342.89" r="6.3" fill="#00BA38"/><circle cx="504.38" cy="428.85" r="6.3" fill="#F8766D"/><circle cx="536.47" cy="540.07" r="6.4" fill="none" stroke="#F8766D" stroke-width="1.7"/><circle cx="648.58" cy="166.68" r="6.4" fill="none" stroke="#619CFF" stroke-width="1.7"/><circle cx="255.01" cy="371.86" r="6.3" fill="#00BA38"/><circle cx="662.66" cy="483.14" r="6.4" fill="none" stroke="#F8766D" stroke-width="1.7"/><circle cx="500.19" cy="246.46" r="6.3" fill="#619CFF"/><circle cx="532.84" cy="521.36" r="6.4" fill="none" stroke="#F8766D" stroke-width="1.7"/><circle cx="557.87" cy="567.45" r="6.4" fill="none" stroke="#F8766D" stroke-width="1.7"/><circle cx="468.84" cy="425.93" r="6.3" fill="#F8766D"/><circle cx="209.37" cy="291.61" r="6.4" fill="none" stroke="#00BA38" stroke-width="1.7"/><circle cx="295.71" cy="366.74" r="6.3" fill="#00BA38"/><circle cx="613.94" cy="526.25" r="6.4" fill="none" stroke="#F8766D" stroke-width="1.7"/><circle cx="493.41" cy="420.16" r="6.3" fill="#F8766D"/><circle cx="427.19" cy="473.98" r="6.3" fill="#F8766D"/><circle cx="308.2" cy="357.5" r="6.3" fill="#00BA38"/><circle cx="243.16" cy="368.5" r="6.3" fill="#00BA38"/><circle cx="267.01" cy="324.35" r="6.4" fill="none" stroke="#00BA38" stroke-width="1.7"/><circle cx="476.19" cy="468.43" r="6.3" fill="#F8766D"/><circle cx="513.7" cy="241.29" r="6.3" fill="#619CFF"/><circle cx="712.03" cy="119.36" r="6.4" fill="none" stroke="#619CFF" stroke-width="1.7"/><circle cx="253.48" cy="407.53" r="6.3" fill="#00BA38"/><circle cx="244.47" cy="356.87" r="6.3" fill="#00BA38"/><circle cx="655.42" cy="128.41" r="6.4" fill="none" stroke="#619CFF" stroke-width="1.7"/><circle cx="521.72" cy="524.34" r="6.4" fill="none" stroke="#F8766D" stroke-width="1.7"/><circle cx="394.88" cy="531.46" r="6.3" fill="#F8766D"/><circle cx="456.58" cy="569.23" r="6.4" fill="none" stroke="#F8766D" stroke-width="1.7"/><circle cx="474.45" cy="527.37" r="6.4" fill="none" stroke="#F8766D" stroke-width="1.7"/><circle cx="395.88" cy="477.41" r="6.3" fill="#F8766D"/><circle cx="263.52" cy="361.48" r="6.3" fill="#00BA38"/><circle cx="686.75" cy="140.84" r="6.4" fill="none" stroke="#619CFF" stroke-width="1.7"/><circle cx="457.19" cy="592.44" r="6.4" fill="none" stroke="#F8766D" stroke-width="1.7"/><circle cx="393.44" cy="492.37" r="6.3" fill="#F8766D"/><circle cx="650.87" cy="121.95" r="6.4" fill="none" stroke="#619CFF" stroke-width="1.7"/><circle cx="475.93" cy="440.09" r="6.3" fill="#F8766D"/><circle cx="448.3" cy="472.43" r="6.3" fill="#F8766D"/><circle cx="667.94" cy="137.65" r="6.4" fill="none" stroke="#619CFF" stroke-width="1.7"/><circle cx="292.49" cy="304.24" r="6.4" fill="none" stroke="#00BA38" stroke-width="1.7"/><circle cx="268.11" cy="302.89" r="6.4" fill="none" stroke="#00BA38" stroke-width="1.7"/><circle cx="253.19" cy="367.6" r="6.3" fill="#00BA38"/><circle cx="328.55" cy="350.91" r="6.3" fill="#00BA38"/><circle cx="613.38" cy="465.48" r="6.4" fill="none" stroke="#F8766D" stroke-width="1.7"/><circle cx="278.13" cy="306.47" r="6.4" fill="none" stroke="#00BA38" stroke-width="1.7"/><circle cx="259.44" cy="310.81" r="6.4" fill="none" stroke="#00BA38" stroke-width="1.7"/><circle cx="666.51" cy="475.38" r="6.4" fill="none" stroke="#F8766D" stroke-width="1.7"/><circle cx="257.61" cy="344.7" r="6.4" fill="none" stroke="#00BA38" stroke-width="1.7"/><circle cx="409.28" cy="494" r="6.3" fill="#F8766D"/><circle cx="424.65" cy="415.26" r="6.3" fill="#F8766D"/><circle cx="457.16" cy="491.9" r="6.3" fill="#F8766D"/><circle cx="456.12" cy="432.59" r="6.3" fill="#F8766D"/><circle cx="460.53" cy="464.51" r="6.3" fill="#F8766D"/><circle cx="473.04" cy="420.24" r="6.3" fill="#F8766D"/><circle cx="678.74" cy="143.26" r="6.4" fill="none" stroke="#619CFF" stroke-width="1.7"/><circle cx="588.18" cy="511.23" r="6.4" fill="none" stroke="#F8766D" stroke-width="1.7"/><circle cx="262.87" cy="311.6" r="6.4" fill="none" stroke="#00BA38" stroke-width="1.7"/><circle cx="518.26" cy="406.94" r="6.3" fill="#F8766D"/><circle cx="202.39" cy="299.94" r="6.4" fill="none" stroke="#00BA38" stroke-width="1.7"/><circle cx="538.27" cy="491.44" r="6.4" fill="none" stroke="#F8766D" stroke-width="1.7"/><circle cx="520.65" cy="506.06" r="6.4" fill="none" stroke="#F8766D" stroke-width="1.7"/><circle cx="356.42" cy="477.99" r="6.3" fill="#F8766D"/><circle cx="622.77" cy="589.11" r="6.4" fill="none" stroke="#F8766D" stroke-width="1.7"/><circle cx="206.84" cy="310.34" r="6.4" fill="none" stroke="#00BA38" stroke-width="1.7"/><circle cx="463.32" cy="424.81" r="6.3" fill="#F8766D"/><circle cx="718.12" cy="142.82" r="6.4" fill="none" stroke="#619CFF" stroke-width="1.7"/><circle cx="493.47" cy="529.1" r="6.4" fill="none" stroke="#F8766D" stroke-width="1.7"/><circle cx="662.33" cy="146.72" r="6.4" fill="none" stroke="#619CFF" stroke-width="1.7"/><circle cx="576.26" cy="622.47" r="6.4" fill="none" stroke="#F8766D" stroke-width="1.7"/><circle cx="428.99" cy="488.58" r="6.3" fill="#F8766D"/><circle cx="262.64" cy="335.08" r="6.3" fill="#00BA38"/><circle cx="625.38" cy="428.66" r="6.4" fill="none" stroke="#F8766D" stroke-width="1.7"/><circle cx="451.01" cy="460.74" r="6.3" fill="#F8766D"/><circle cx="279.58" cy="373.16" r="6.3" fill="#00BA38"/><circle cx="682.1" cy="140.52" r="6.4" fill="none" stroke="#619CFF" stroke-width="1.7"/><circle cx="458.89" cy="416.55" r="6.3" fill="#F8766D"/><circle cx="513.03" cy="245.05" r="6.3" fill="#619CFF"/><circle cx="219.9" cy="298.02" r="6.4" fill="none" stroke="#00BA38" stroke-width="1.7"/><circle cx="302.15" cy="319.16" r="6.4" fill="none" stroke="#00BA38" stroke-width="1.7"/><circle cx="520.09" cy="453.31" r="6.4" fill="none" stroke="#F8766D" stroke-width="1.7"/><circle cx="517.28" cy="422.3" r="6.4" fill="none" stroke="#F8766D" stroke-width="1.7"/><circle cx="500.24" cy="220.95" r="6.3" fill="#619CFF"/><circle cx="702.12" cy="162.59" r="6.4" fill="none" stroke="#619CFF" stroke-width="1.7"/><circle cx="343.57" cy="492.36" r="6.3" fill="#F8766D"/><circle cx="648.75" cy="141.4" r="6.4" fill="none" stroke="#619CFF" stroke-width="1.7"/><circle cx="394.62" cy="448.45" r="6.3" fill="#F8766D"/><circle cx="294.36" cy="368.89" r="6.3" fill="#00BA38"/><circle cx="615.94" cy="466.5" r="6.4" fill="none" stroke="#F8766D" stroke-width="1.7"/><circle cx="287.41" cy="363.42" r="6.3" fill="#00BA38"/><circle cx="379.48" cy="460.52" r="6.3" fill="#F8766D"/><circle cx="613.53" cy="388.97" r="6.4" fill="none" stroke="#F8766D" stroke-width="1.7"/><circle cx="453.88" cy="446.95" r="6.3" fill="#F8766D"/><circle cx="253.83" cy="299.16" r="6.4" fill="none" stroke="#00BA38" stroke-width="1.7"/><circle cx="301.38" cy="297.23" r="6.4" fill="none" stroke="#00BA38" stroke-width="1.7"/><circle cx="519.45" cy="530.7" r="6.4" fill="none" stroke="#F8766D" stroke-width="1.7"/><circle cx="528.43" cy="445.14" r="6.3" fill="#F8766D"/><circle cx="405.25" cy="475.8" r="6.3" fill="#F8766D"/><circle cx="442.29" cy="428.16" r="6.3" fill="#F8766D"/><circle cx="516.66" cy="503.4" r="6.4" fill="none" stroke="#F8766D" stroke-width="1.7"/><circle cx="697.35" cy="133.96" r="6.4" fill="none" stroke="#619CFF" stroke-width="1.7"/><circle cx="376.44" cy="478.44" r="6.3" fill="#F8766D"/><circle cx="269.93" cy="352.43" r="6.3" fill="#00BA38"/><circle cx="292.54" cy="350.85" r="6.3" fill="#00BA38"/><circle cx="262.57" cy="301.89" r="6.4" fill="none" stroke="#00BA38" stroke-width="1.7"/><circle cx="446.35" cy="463.81" r="6.3" fill="#F8766D"/><circle cx="493.42" cy="237.51" r="6.3" fill="#619CFF"/><circle cx="496.75" cy="247.13" r="6.3" fill="#619CFF"/><circle cx="676.55" cy="156.13" r="6.4" fill="none" stroke="#619CFF" stroke-width="1.7"/><circle cx="246.72" cy="328.01" r="6.4" fill="none" stroke="#00BA38" stroke-width="1.7"/><circle cx="521.24" cy="238.19" r="6.3" fill="#619CFF"/><circle cx="669.92" cy="140.15" r="6.4" fill="none" stroke="#619CFF" stroke-width="1.7"/><circle cx="619.81" cy="473.84" r="6.4" fill="none" stroke="#F8766D" stroke-width="1.7"/><circle cx="511.42" cy="501.98" r="6.4" fill="none" stroke="#F8766D" stroke-width="1.7"/><circle cx="236.82" cy="304.31" r="6.4" fill="none" stroke="#00BA38" stroke-width="1.7"/><circle cx="302.23" cy="390.94" r="6.3" fill="#00BA38"/><circle cx="487.23" cy="444.88" r="6.3" fill="#F8766D"/><circle cx="277.47" cy="365.43" r="6.3" fill="#00BA38"/><circle cx="264.75" cy="306.34" r="6.4" fill="none" stroke="#00BA38" stroke-width="1.7"/><circle cx="262.54" cy="346.26" r="6.3" fill="#00BA38"/><circle cx="297.09" cy="357.62" r="6.3" fill="#00BA38"/><circle cx="496.14" cy="408.64" r="6.3" fill="#F8766D"/><circle cx="427.3" cy="509.21" r="6.3" fill="#F8766D"/><circle cx="257.76" cy="382.92" r="6.3" fill="#00BA38"/><circle cx="482.59" cy="440.74" r="6.3" fill="#F8766D"/><circle cx="607.13" cy="435.05" r="6.4" fill="none" stroke="#F8766D" stroke-width="1.7"/><circle cx="284.13" cy="384.62" r="6.3" fill="#00BA38"/><circle cx="268.26" cy="356.62" r="6.3" fill="#00BA38"/><circle cx="272.39" cy="369.06" r="6.3" fill="#00BA38"/><circle cx="668.98" cy="137.85" r="6.4" fill="none" stroke="#619CFF" stroke-width="1.7"/><circle cx="597.54" cy="490.32" r="6.4" fill="none" stroke="#F8766D" stroke-width="1.7"/><circle cx="537.42" cy="230.24" r="6.3" fill="#619CFF"/><circle cx="510.35" cy="424.12" r="6.3" fill="#F8766D"/><circle cx="430.17" cy="447.21" r="6.3" fill="#F8766D"/><circle cx="647.96" cy="131.48" r="6.4" fill="none" stroke="#619CFF" stroke-width="1.7"/><circle cx="607.98" cy="466.02" r="6.4" fill="none" stroke="#F8766D" stroke-width="1.7"/><circle cx="489.26" cy="427.7" r="6.3" fill="#F8766D"/><circle cx="386.88" cy="478.51" r="6.3" fill="#F8766D"/><circle cx="549.96" cy="514.59" r="6.4" fill="none" stroke="#F8766D" stroke-width="1.7"/><circle cx="662" cy="160.4" r="6.4" fill="none" stroke="#619CFF" stroke-width="1.7"/><circle cx="376.8" cy="464.7" r="6.3" fill="#F8766D"/><circle cx="586.65" cy="519.53" r="6.4" fill="none" stroke="#F8766D" stroke-width="1.7"/><circle cx="432.4" cy="484.42" r="6.3" fill="#F8766D"/><circle cx="312.11" cy="347.99" r="6.3" fill="#00BA38"/><circle cx="708.2" cy="185.83" r="6.4" fill="none" stroke="#619CFF" stroke-width="1.7"/><circle cx="671.29" cy="122.61" r="6.4" fill="none" stroke="#619CFF" stroke-width="1.7"/><circle cx="250.69" cy="345.47" r="6.3" fill="#00BA38"/><circle cx="353.16" cy="522.54" r="6.3" fill="#F8766D"/><circle cx="517.98" cy="498.5" r="6.4" fill="none" stroke="#F8766D" stroke-width="1.7"/><circle cx="493.17" cy="456.08" r="6.3" fill="#F8766D"/><circle cx="262.22" cy="368.01" r="6.3" fill="#00BA38"/><circle cx="512.33" cy="565.85" r="6.4" fill="none" stroke="#F8766D" stroke-width="1.7"/><circle cx="431.28" cy="479.02" r="6.3" fill="#F8766D"/><circle cx="415.67" cy="436.25" r="6.3" fill="#F8766D"/><circle cx="602.54" cy="518.27" r="6.4" fill="none" stroke="#F8766D" stroke-width="1.7"/><circle cx="688.83" cy="149.46" r="6.4" fill="none" stroke="#619CFF" stroke-width="1.7"/><circle cx="496.73" cy="455.57" r="6.3" fill="#F8766D"/><circle cx="528.98" cy="429.45" r="6.4" fill="none" stroke="#F8766D" stroke-width="1.7"/><circle cx="645.03" cy="540.59" r="6.4" fill="none" stroke="#F8766D" stroke-width="1.7"/><circle cx="527.71" cy="222.21" r="6.3" fill="#619CFF"/><circle cx="666.42" cy="491.04" r="6.4" fill="none" stroke="#F8766D" stroke-width="1.7"/><circle cx="233.72" cy="324.92" r="6.4" fill="none" stroke="#00BA38" stroke-width="1.7"/><circle cx="579.27" cy="397.77" r="6.4" fill="none" stroke="#F8766D" stroke-width="1.7"/><circle cx="444.86" cy="456.13" r="6.3" fill="#F8766D"/><circle cx="255.25" cy="319.46" r="6.4" fill="none" stroke="#00BA38" stroke-width="1.7"/><circle cx="510.2" cy="252.27" r="6.3" fill="#619CFF"/><circle cx="551.44" cy="552.24" r="6.4" fill="none" stroke="#F8766D" stroke-width="1.7"/><circle cx="535.34" cy="472.43" r="6.4" fill="none" stroke="#F8766D" stroke-width="1.7"/><circle cx="615.94" cy="157.62" r="6.4" fill="none" stroke="#619CFF" stroke-width="1.7"/><circle cx="675.47" cy="108.88" r="6.4" fill="none" stroke="#619CFF" stroke-width="1.7"/><circle cx="249.72" cy="370.42" r="6.3" fill="#00BA38"/><circle cx="466.9" cy="440.57" r="6.3" fill="#F8766D"/><circle cx="404.31" cy="464.88" r="6.3" fill="#F8766D"/><circle cx="248.54" cy="321.14" r="6.4" fill="none" stroke="#00BA38" stroke-width="1.7"/><circle cx="225.66" cy="321.9" r="6.4" fill="none" stroke="#00BA38" stroke-width="1.7"/><circle cx="441.37" cy="482.97" r="6.3" fill="#F8766D"/><circle cx="497.26" cy="443.77" r="6.3" fill="#F8766D"/><circle cx="336.93" cy="323.49" r="6.4" fill="none" stroke="#00BA38" stroke-width="1.7"/><circle cx="472.79" cy="566.2" r="6.4" fill="none" stroke="#F8766D" stroke-width="1.7"/><circle cx="277.11" cy="366.61" r="6.3" fill="#00BA38"/><circle cx="260.81" cy="363.27" r="6.3" fill="#00BA38"/><circle cx="491.4" cy="438.98" r="6.3" fill="#F8766D"/><circle cx="697.82" cy="154.64" r="6.4" fill="none" stroke="#619CFF" stroke-width="1.7"/><circle cx="391.2" cy="484.74" r="6.3" fill="#F8766D"/><circle cx="436.11" cy="425.93" r="6.3" fill="#F8766D"/><circle cx="432.73" cy="466.36" r="6.3" fill="#F8766D"/><circle cx="418.19" cy="481.18" r="6.3" fill="#F8766D"/><circle cx="484.16" cy="461.28" r="6.4" fill="none" stroke="#F8766D" stroke-width="1.7"/><circle cx="238.58" cy="371.32" r="6.3" fill="#00BA38"/><circle cx="442.6" cy="479.26" r="6.3" fill="#F8766D"/><circle cx="231.76" cy="295.75" r="6.4" fill="none" stroke="#00BA38" stroke-width="1.7"/><circle cx="697.9" cy="135.95" r="6.4" fill="none" stroke="#619CFF" stroke-width="1.7"/><circle cx="233.23" cy="317.41" r="6.4" fill="none" stroke="#00BA38" stroke-width="1.7"/><circle cx="449.18" cy="439.95" r="6.3" fill="#F8766D"/><circle cx="414.12" cy="395.94" r="6.3" fill="#F8766D"/><circle cx="248.18" cy="324.09" r="6.4" fill="none" stroke="#00BA38" stroke-width="1.7"/><circle cx="530.02" cy="404.18" r="6.3" fill="#F8766D"/><circle cx="553.87" cy="515.39" r="6.4" fill="none" stroke="#F8766D" stroke-width="1.7"/><circle cx="265.3" cy="373.57" r="6.3" fill="#00BA38"/><circle cx="414.02" cy="436.79" r="6.3" fill="#F8766D"/><circle cx="536.66" cy="503.07" r="6.4" fill="none" stroke="#F8766D" stroke-width="1.7"/><circle cx="235.95" cy="327.58" r="6.4" fill="none" stroke="#00BA38" stroke-width="1.7"/><circle cx="522" cy="534.59" r="6.4" fill="none" stroke="#F8766D" stroke-width="1.7"/><circle cx="250.83" cy="392.06" r="6.3" fill="#00BA38"/><circle cx="471.31" cy="449.38" r="6.3" fill="#F8766D"/><circle cx="261.63" cy="389.99" r="6.3" fill="#00BA38"/><circle cx="371.87" cy="427.41" r="6.3" fill="#F8766D"/><circle cx="446.66" cy="434.03" r="6.3" fill="#F8766D"/><circle cx="568.6" cy="502.82" r="6.4" fill="none" stroke="#F8766D" stroke-width="1.7"/><circle cx="278.97" cy="314.55" r="6.4" fill="none" stroke="#00BA38" stroke-width="1.7"/><circle cx="590.77" cy="517.51" r="6.4" fill="none" stroke="#F8766D" stroke-width="1.7"/><circle cx="609.51" cy="574.28" r="6.4" fill="none" stroke="#F8766D" stroke-width="1.7"/><circle cx="221.52" cy="337.64" r="6.4" fill="none" stroke="#00BA38" stroke-width="1.7"/><circle cx="579.76" cy="481.7" r="6.4" fill="none" stroke="#F8766D" stroke-width="1.7"/><circle cx="452.34" cy="419.41" r="6.3" fill="#F8766D"/><circle cx="605.67" cy="475.9" r="6.4" fill="none" stroke="#F8766D" stroke-width="1.7"/><circle cx="274.92" cy="310.86" r="6.4" fill="none" stroke="#00BA38" stroke-width="1.7"/><circle cx="269.71" cy="302.04" r="6.4" fill="none" stroke="#00BA38" stroke-width="1.7"/><circle cx="216.43" cy="314.45" r="6.4" fill="none" stroke="#00BA38" stroke-width="1.7"/><circle cx="471.5" cy="425.9" r="6.4" fill="none" stroke="#F8766D" stroke-width="1.7"/><circle cx="533.66" cy="493.3" r="6.4" fill="none" stroke="#F8766D" stroke-width="1.7"/><circle cx="448.02" cy="563.06" r="6.4" fill="none" stroke="#F8766D" stroke-width="1.7"/><circle cx="572.45" cy="569.8" r="6.4" fill="none" stroke="#F8766D" stroke-width="1.7"/><circle cx="726.58" cy="464.76" r="6.4" fill="none" stroke="#F8766D" stroke-width="1.7"/><circle cx="650.06" cy="150.36" r="6.4" fill="none" stroke="#619CFF" stroke-width="1.7"/><circle cx="304.49" cy="359.81" r="6.3" fill="#00BA38"/><circle cx="508.63" cy="242.99" r="6.3" fill="#619CFF"/><circle cx="512.88" cy="515.02" r="6.4" fill="none" stroke="#F8766D" stroke-width="1.7"/><circle cx="273.2" cy="385.3" r="6.3" fill="#00BA38"/><circle cx="547.46" cy="509.92" r="6.4" fill="none" stroke="#F8766D" stroke-width="1.7"/><circle cx="433.72" cy="414.19" r="6.3" fill="#F8766D"/><circle cx="451.68" cy="439.65" r="6.3" fill="#F8766D"/><circle cx="483.74" cy="430.86" r="6.3" fill="#F8766D"/><circle cx="461.2" cy="437.51" r="6.3" fill="#F8766D"/><circle cx="489.64" cy="460.25" r="6.3" fill="#F8766D"/><circle cx="672.26" cy="126.46" r="6.4" fill="none" stroke="#619CFF" stroke-width="1.7"/><circle cx="639.03" cy="476.33" r="6.4" fill="none" stroke="#F8766D" stroke-width="1.7"/><circle cx="375.96" cy="452.81" r="6.3" fill="#F8766D"/><circle cx="515.19" cy="225.36" r="6.3" fill="#619CFF"/><circle cx="472.94" cy="577.55" r="6.4" fill="none" stroke="#F8766D" stroke-width="1.7"/><circle cx="424.87" cy="579.53" r="6.4" fill="none" stroke="#F8766D" stroke-width="1.7"/><circle cx="330.29" cy="340.13" r="6.4" fill="none" stroke="#00BA38" stroke-width="1.7"/><circle cx="411.82" cy="453.24" r="6.3" fill="#F8766D"/><circle cx="296.24" cy="356.01" r="6.3" fill="#00BA38"/><circle cx="209.75" cy="327.55" r="6.4" fill="none" stroke="#00BA38" stroke-width="1.7"/><circle cx="486.95" cy="576.08" r="6.4" fill="none" stroke="#F8766D" stroke-width="1.7"/><circle cx="516.37" cy="225.63" r="6.3" fill="#619CFF"/><circle cx="592.59" cy="465.05" r="6.4" fill="none" stroke="#F8766D" stroke-width="1.7"/><circle cx="463.7" cy="403.99" r="6.3" fill="#F8766D"/><circle cx="543.52" cy="489.97" r="6.4" fill="none" stroke="#F8766D" stroke-width="1.7"/><circle cx="434.1" cy="444.53" r="6.3" fill="#F8766D"/><circle cx="594.51" cy="491.09" r="6.4" fill="none" stroke="#F8766D" stroke-width="1.7"/><circle cx="515.24" cy="385.23" r="6.3" fill="#F8766D"/><circle cx="191.8" cy="312.82" r="6.4" fill="none" stroke="#00BA38" stroke-width="1.7"/><circle cx="605.48" cy="524.06" r="6.4" fill="none" stroke="#F8766D" stroke-width="1.7"/><circle cx="625.05" cy="484.96" r="6.4" fill="none" stroke="#F8766D" stroke-width="1.7"/><circle cx="270.56" cy="384.43" r="6.3" fill="#00BA38"/><circle cx="496.38" cy="243.68" r="6.3" fill="#619CFF"/><circle cx="517.06" cy="463.11" r="6.3" fill="#F8766D"/><circle cx="551.36" cy="226.21" r="6.3" fill="#619CFF"/><circle cx="280.26" cy="376.7" r="6.3" fill="#00BA38"/><circle cx="240.51" cy="314.54" r="6.4" fill="none" stroke="#00BA38" stroke-width="1.7"/><circle cx="548.56" cy="594.73" r="6.4" fill="none" stroke="#F8766D" stroke-width="1.7"/><circle cx="524.4" cy="427.11" r="6.3" fill="#F8766D"/><circle cx="263.41" cy="437.23" r="6.3" fill="#00BA38"/><circle cx="333.03" cy="315" r="6.4" fill="none" stroke="#00BA38" stroke-width="1.7"/><circle cx="452.72" cy="450.81" r="6.3" fill="#F8766D"/><circle cx="569.91" cy="482.7" r="6.4" fill="none" stroke="#F8766D" stroke-width="1.7"/><circle cx="563.82" cy="443.79" r="6.4" fill="none" stroke="#F8766D" stroke-width="1.7"/><circle cx="748.64" cy="135.11" r="6.4" fill="none" stroke="#619CFF" stroke-width="1.7"/><circle cx="433.85" cy="495.09" r="6.3" fill="#F8766D"/><circle cx="602.27" cy="530.61" r="6.4" fill="none" stroke="#F8766D" stroke-width="1.7"/><circle cx="276.85" cy="355.22" r="6.3" fill="#00BA38"/><circle cx="268.38" cy="332.18" r="6.4" fill="none" stroke="#00BA38" stroke-width="1.7"/><circle cx="302.62" cy="299.95" r="6.4" fill="none" stroke="#00BA38" stroke-width="1.7"/><circle cx="448.08" cy="478.96" r="6.3" fill="#F8766D"/><circle cx="383.47" cy="495.06" r="6.3" fill="#F8766D"/><circle cx="266.15" cy="356.27" r="6.3" fill="#00BA38"/><circle cx="254.07" cy="296.32" r="6.4" fill="none" stroke="#00BA38" stroke-width="1.7"/><circle cx="269.18" cy="393.63" r="6.3" fill="#00BA38"/><circle cx="468.37" cy="495.57" r="6.4" fill="none" stroke="#F8766D" stroke-width="1.7"/><circle cx="485.61" cy="477" r="6.4" fill="none" stroke="#F8766D" stroke-width="1.7"/><circle cx="490.98" cy="544.26" r="6.4" fill="none" stroke="#F8766D" stroke-width="1.7"/><circle cx="532.57" cy="573.16" r="6.4" fill="none" stroke="#F8766D" stroke-width="1.7"/><circle cx="412.14" cy="464.49" r="6.3" fill="#F8766D"/><circle cx="393.45" cy="484.54" r="6.3" fill="#F8766D"/><circle cx="217.83" cy="280.01" r="6.4" fill="none" stroke="#00BA38" stroke-width="1.7"/><circle cx="246.13" cy="323.8" r="6.4" fill="none" stroke="#00BA38" stroke-width="1.7"/><circle cx="680.44" cy="148.73" r="6.4" fill="none" stroke="#619CFF" stroke-width="1.7"/><circle cx="413.17" cy="453.6" r="6.3" fill="#F8766D"/><circle cx="287.46" cy="295.21" r="6.4" fill="none" stroke="#00BA38" stroke-width="1.7"/><circle cx="347.96" cy="493.74" r="6.3" fill="#F8766D"/><circle cx="439.57" cy="465.79" r="6.3" fill="#F8766D"/><circle cx="263.96" cy="390.42" r="6.3" fill="#00BA38"/><circle cx="301.27" cy="402.82" r="6.3" fill="#00BA38"/><circle cx="763.34" cy="120.62" r="6.4" fill="none" stroke="#619CFF" stroke-width="1.7"/><circle cx="285.03" cy="324.07" r="6.4" fill="none" stroke="#00BA38" stroke-width="1.7"/><circle cx="336.93" cy="345.22" r="6.3" fill="#00BA38"/><circle cx="485.65" cy="198.73" r="6.3" fill="#619CFF"/><circle cx="632.3" cy="168.15" r="6.4" fill="none" stroke="#619CFF" stroke-width="1.7"/><circle cx="459.04" cy="500.99" r="6.3" fill="#F8766D"/><circle cx="248.11" cy="319.58" r="6.4" fill="none" stroke="#00BA38" stroke-width="1.7"/><circle cx="247.32" cy="317.71" r="6.4" fill="none" stroke="#00BA38" stroke-width="1.7"/><circle cx="473.94" cy="213.04" r="6.3" fill="#619CFF"/><circle cx="712.29" cy="514.46" r="6.4" fill="none" stroke="#F8766D" stroke-width="1.7"/><circle cx="684.33" cy="122.78" r="6.4" fill="none" stroke="#619CFF" stroke-width="1.7"/><circle cx="419.61" cy="478.95" r="6.3" fill="#F8766D"/><circle cx="253.28" cy="294.47" r="6.4" fill="none" stroke="#00BA38" stroke-width="1.7"/><circle cx="284.55" cy="377.16" r="6.3" fill="#00BA38"/><circle cx="505.51" cy="218.52" r="6.3" fill="#619CFF"/><circle cx="274.65" cy="382.52" r="6.3" fill="#00BA38"/><circle cx="583.98" cy="495.5" r="6.4" fill="none" stroke="#F8766D" stroke-width="1.7"/><circle cx="399.44" cy="508.07" r="6.3" fill="#F8766D"/><circle cx="433.84" cy="470.95" r="6.3" fill="#F8766D"/><circle cx="294.71" cy="341.36" r="6.3" fill="#00BA38"/><circle cx="412.91" cy="488.09" r="6.3" fill="#F8766D"/><circle cx="630.39" cy="463.14" r="6.4" fill="none" stroke="#F8766D" stroke-width="1.7"/><circle cx="280.77" cy="376.71" r="6.3" fill="#00BA38"/><circle cx="261.88" cy="306.88" r="6.4" fill="none" stroke="#00BA38" stroke-width="1.7"/><circle cx="588.2" cy="472.66" r="6.4" fill="none" stroke="#F8766D" stroke-width="1.7"/><circle cx="296.67" cy="377.66" r="6.3" fill="#00BA38"/><circle cx="459.3" cy="498.41" r="6.3" fill="#F8766D"/><circle cx="421.42" cy="447.95" r="6.3" fill="#F8766D"/><circle cx="234.17" cy="299.41" r="6.4" fill="none" stroke="#00BA38" stroke-width="1.7"/><circle cx="564.84" cy="551.4" r="6.4" fill="none" stroke="#F8766D" stroke-width="1.7"/><circle cx="582.87" cy="523.65" r="6.4" fill="none" stroke="#F8766D" stroke-width="1.7"/><circle cx="502.03" cy="411.39" r="6.3" fill="#F8766D"/><circle cx="412.03" cy="450.16" r="6.3" fill="#F8766D"/><circle cx="559.1" cy="566.38" r="6.4" fill="none" stroke="#F8766D" stroke-width="1.7"/><circle cx="597.76" cy="511.77" r="6.4" fill="none" stroke="#F8766D" stroke-width="1.7"/><circle cx="293.74" cy="349.45" r="6.3" fill="#00BA38"/><circle cx="332.15" cy="416.95" r="6.3" fill="#00BA38"/><circle cx="482.35" cy="416.81" r="6.3" fill="#F8766D"/><circle cx="426.51" cy="441.4" r="6.3" fill="#F8766D"/><circle cx="316.34" cy="266.25" r="6.4" fill="none" stroke="#00BA38" stroke-width="1.7"/><circle cx="477.82" cy="225.89" r="6.3" fill="#619CFF"/><circle cx="293.47" cy="366.9" r="6.3" fill="#00BA38"/><circle cx="264.42" cy="317.35" r="6.4" fill="none" stroke="#00BA38" stroke-width="1.7"/><circle cx="439.91" cy="472.74" r="6.3" fill="#F8766D"/><circle cx="542.78" cy="261.9" r="6.3" fill="#619CFF"/><circle cx="582.65" cy="444.65" r="6.4" fill="none" stroke="#F8766D" stroke-width="1.7"/><circle cx="272.36" cy="314.56" r="6.4" fill="none" stroke="#00BA38" stroke-width="1.7"/><circle cx="704.27" cy="148.87" r="6.4" fill="none" stroke="#619CFF" stroke-width="1.7"/><circle cx="319.33" cy="327.02" r="6.4" fill="none" stroke="#00BA38" stroke-width="1.7"/><circle cx="252.36" cy="368.29" r="6.3" fill="#00BA38"/><circle cx="534.51" cy="395.7" r="6.3" fill="#F8766D"/><circle cx="466.66" cy="439.1" r="6.3" fill="#F8766D"/><circle cx="446.11" cy="435.85" r="6.3" fill="#F8766D"/><circle cx="419.67" cy="471.43" r="6.3" fill="#F8766D"/><circle cx="665.52" cy="136.18" r="6.4" fill="none" stroke="#619CFF" stroke-width="1.7"/><circle cx="581.75" cy="589.34" r="6.4" fill="none" stroke="#F8766D" stroke-width="1.7"/><circle cx="498.48" cy="482.41" r="6.3" fill="#F8766D"/><circle cx="246" cy="290.27" r="6.4" fill="none" stroke="#00BA38" stroke-width="1.7"/><circle cx="566.63" cy="566.33" r="6.4" fill="none" stroke="#F8766D" stroke-width="1.7"/><circle cx="418.49" cy="466.37" r="6.3" fill="#F8766D"/><circle cx="420.27" cy="453.58" r="6.3" fill="#F8766D"/><circle cx="563.18" cy="412.61" r="6.4" fill="none" stroke="#F8766D" stroke-width="1.7"/><circle cx="281.75" cy="366.87" r="6.3" fill="#00BA38"/><circle cx="436.42" cy="442.43" r="6.3" fill="#F8766D"/><circle cx="532.22" cy="407.59" r="6.3" fill="#F8766D"/><circle cx="648.08" cy="134.55" r="6.4" fill="none" stroke="#619CFF" stroke-width="1.7"/><circle cx="578.45" cy="419.07" r="6.4" fill="none" stroke="#F8766D" stroke-width="1.7"/><circle cx="444.23" cy="453.94" r="6.3" fill="#F8766D"/><circle cx="679.97" cy="104.34" r="6.4" fill="none" stroke="#619CFF" stroke-width="1.7"/><circle cx="268.43" cy="334.63" r="6.3" fill="#00BA38"/><circle cx="550.69" cy="416.19" r="6.4" fill="none" stroke="#F8766D" stroke-width="1.7"/><circle cx="657.5" cy="132.63" r="6.4" fill="none" stroke="#619CFF" stroke-width="1.7"/><circle cx="212.57" cy="315.26" r="6.4" fill="none" stroke="#00BA38" stroke-width="1.7"/><circle cx="544.07" cy="203.56" r="6.3" fill="#619CFF"/><circle cx="240.89" cy="384.38" r="6.3" fill="#00BA38"/><circle cx="450.68" cy="479.75" r="6.3" fill="#F8766D"/><circle cx="564.84" cy="216.62" r="6.3" fill="#619CFF"/><circle cx="651.31" cy="137.65" r="6.4" fill="none" stroke="#619CFF" stroke-width="1.7"/><circle cx="256.09" cy="296.41" r="6.4" fill="none" stroke="#00BA38" stroke-width="1.7"/><circle cx="313.08" cy="328.3" r="6.4" fill="none" stroke="#00BA38" stroke-width="1.7"/><circle cx="638.64" cy="133.75" r="6.4" fill="none" stroke="#619CFF" stroke-width="1.7"/><circle cx="255.45" cy="375.04" r="6.3" fill="#00BA38"/><circle cx="534.45" cy="480.28" r="6.4" fill="none" stroke="#F8766D" stroke-width="1.7"/><circle cx="448.71" cy="580.52" r="6.4" fill="none" stroke="#F8766D" stroke-width="1.7"/><circle cx="475.88" cy="568.17" r="6.4" fill="none" stroke="#F8766D" stroke-width="1.7"/><circle cx="488.57" cy="427.75" r="6.3" fill="#F8766D"/><circle cx="635.36" cy="149.2" r="6.4" fill="none" stroke="#619CFF" stroke-width="1.7"/><circle cx="518.01" cy="221.78" r="6.3" fill="#619CFF"/><circle cx="539.56" cy="230.67" r="6.3" fill="#619CFF"/><circle cx="653.96" cy="121.67" r="6.4" fill="none" stroke="#619CFF" stroke-width="1.7"/><circle cx="269.13" cy="387.42" r="6.3" fill="#00BA38"/><circle cx="520.84" cy="211.49" r="6.3" fill="#619CFF"/><circle cx="523.31" cy="475.5" r="6.4" fill="none" stroke="#F8766D" stroke-width="1.7"/><circle cx="545.24" cy="232.45" r="6.3" fill="#619CFF"/><circle cx="579.32" cy="509.63" r="6.4" fill="none" stroke="#F8766D" stroke-width="1.7"/><circle cx="415.61" cy="513.58" r="6.4" fill="none" stroke="#F8766D" stroke-width="1.7"/><circle cx="243.15" cy="318.23" r="6.4" fill="none" stroke="#00BA38" stroke-width="1.7"/><circle cx="470.05" cy="420.94" r="6.3" fill="#F8766D"/><circle cx="263.57" cy="295.62" r="6.4" fill="none" stroke="#00BA38" stroke-width="1.7"/><circle cx="217.15" cy="323.56" r="6.4" fill="none" stroke="#00BA38" stroke-width="1.7"/><circle cx="594.08" cy="512.51" r="6.4" fill="none" stroke="#F8766D" stroke-width="1.7"/><circle cx="558.9" cy="507.41" r="6.4" fill="none" stroke="#F8766D" stroke-width="1.7"/><circle cx="594.67" cy="489.66" r="6.4" fill="none" stroke="#F8766D" stroke-width="1.7"/><circle cx="387.9" cy="476.88" r="6.3" fill="#F8766D"/><circle cx="422.41" cy="440.84" r="6.3" fill="#F8766D"/><circle cx="227.46" cy="322.65" r="6.4" fill="none" stroke="#00BA38" stroke-width="1.7"/><circle cx="497.51" cy="430.79" r="6.3" fill="#F8766D"/><circle cx="239.62" cy="309.53" r="6.4" fill="none" stroke="#00BA38" stroke-width="1.7"/><circle cx="262.41" cy="359.51" r="6.3" fill="#00BA38"/><circle cx="296.33" cy="345.6" r="6.4" fill="none" stroke="#00BA38" stroke-width="1.7"/><circle cx="692.04" cy="139.52" r="6.4" fill="none" stroke="#619CFF" stroke-width="1.7"/><circle cx="571.41" cy="506.57" r="6.4" fill="none" stroke="#F8766D" stroke-width="1.7"/><circle cx="262.62" cy="352.21" r="6.3" fill="#00BA38"/><circle cx="323.42" cy="323.69" r="6.4" fill="none" stroke="#00BA38" stroke-width="1.7"/><circle cx="540.59" cy="484.17" r="6.4" fill="none" stroke="#F8766D" stroke-width="1.7"/><circle cx="471.96" cy="473.96" r="6.3" fill="#F8766D"/><circle cx="680.18" cy="423.24" r="6.4" fill="none" stroke="#F8766D" stroke-width="1.7"/><circle cx="239.4" cy="340.63" r="6.4" fill="none" stroke="#00BA38" stroke-width="1.7"/><circle cx="498.83" cy="238.43" r="6.3" fill="#619CFF"/><circle cx="303.06" cy="348.09" r="6.3" fill="#00BA38"/><circle cx="259.24" cy="357.99" r="6.3" fill="#00BA38"/><circle cx="501.96" cy="585.1" r="6.4" fill="none" stroke="#F8766D" stroke-width="1.7"/><circle cx="569.98" cy="557.8" r="6.4" fill="none" stroke="#F8766D" stroke-width="1.7"/><circle cx="289.21" cy="361.85" r="6.3" fill="#00BA38"/><circle cx="289.12" cy="369.81" r="6.3" fill="#00BA38"/><circle cx="229.23" cy="314.63" r="6.4" fill="none" stroke="#00BA38" stroke-width="1.7"/><circle cx="463.75" cy="346.67" r="6.3" fill="#F8766D"/><circle cx="583.94" cy="487.11" r="6.4" fill="none" stroke="#F8766D" stroke-width="1.7"/><circle cx="653.06" cy="424.91" r="6.4" fill="none" stroke="#F8766D" stroke-width="1.7"/><circle cx="234.07" cy="281.61" r="6.4" fill="none" stroke="#00BA38" stroke-width="1.7"/><circle cx="397.95" cy="504.5" r="6.3" fill="#F8766D"/><circle cx="648.75" cy="171.35" r="6.4" fill="none" stroke="#619CFF" stroke-width="1.7"/><circle cx="294.57" cy="327.29" r="6.3" fill="#00BA38"/><circle cx="532.01" cy="491.48" r="6.4" fill="none" stroke="#F8766D" stroke-width="1.7"/><circle cx="518.65" cy="234.73" r="6.3" fill="#619CFF"/><circle cx="443.64" cy="464.71" r="6.3" fill="#F8766D"/><circle cx="441.07" cy="463.37" r="6.3" fill="#F8766D"/><circle cx="208.92" cy="312.91" r="6.4" fill="none" stroke="#00BA38" stroke-width="1.7"/><circle cx="373.69" cy="493.74" r="6.3" fill="#F8766D"/><circle cx="419.22" cy="460.62" r="6.3" fill="#F8766D"/><circle cx="570.13" cy="521.65" r="6.4" fill="none" stroke="#F8766D" stroke-width="1.7"/><circle cx="457.87" cy="485.45" r="6.3" fill="#F8766D"/><circle cx="477.04" cy="447.88" r="6.3" fill="#F8766D"/><circle cx="242.25" cy="315.89" r="6.4" fill="none" stroke="#00BA38" stroke-width="1.7"/><circle cx="717.4" cy="125.82" r="6.4" fill="none" stroke="#619CFF" stroke-width="1.7"/><circle cx="541.23" cy="467.42" r="6.4" fill="none" stroke="#F8766D" stroke-width="1.7"/><circle cx="439.14" cy="428.69" r="6.3" fill="#F8766D"/><circle cx="583.81" cy="461.41" r="6.4" fill="none" stroke="#F8766D" stroke-width="1.7"/><circle cx="516.98" cy="392.04" r="6.3" fill="#F8766D"/><circle cx="239.36" cy="332.69" r="6.4" fill="none" stroke="#00BA38" stroke-width="1.7"/><circle cx="250.82" cy="289.69" r="6.4" fill="none" stroke="#00BA38" stroke-width="1.7"/><circle cx="302.12" cy="268.55" r="6.4" fill="none" stroke="#00BA38" stroke-width="1.7"/><circle cx="235.7" cy="328.12" r="6.4" fill="none" stroke="#00BA38" stroke-width="1.7"/><circle cx="660.42" cy="395.94" r="6.4" fill="none" stroke="#F8766D" stroke-width="1.7"/><circle cx="407.12" cy="471.88" r="6.3" fill="#F8766D"/><circle cx="481.64" cy="443.91" r="6.3" fill="#F8766D"/><circle cx="269.89" cy="317.58" r="6.4" fill="none" stroke="#00BA38" stroke-width="1.7"/><circle cx="615.04" cy="142.05" r="6.4" fill="none" stroke="#619CFF" stroke-width="1.7"/><circle cx="256.68" cy="337.49" r="6.4" fill="none" stroke="#00BA38" stroke-width="1.7"/><circle cx="259.48" cy="329.56" r="6.4" fill="none" stroke="#00BA38" stroke-width="1.7"/><circle cx="424.52" cy="490.86" r="6.3" fill="#F8766D"/><circle cx="300.77" cy="361.48" r="6.3" fill="#00BA38"/><circle cx="500.61" cy="507.85" r="6.4" fill="none" stroke="#F8766D" stroke-width="1.7"/><circle cx="637.73" cy="544.82" r="6.4" fill="none" stroke="#F8766D" stroke-width="1.7"/><circle cx="455.75" cy="474.8" r="6.3" fill="#F8766D"/><circle cx="463.97" cy="477.95" r="6.3" fill="#F8766D"/><circle cx="467.65" cy="439.51" r="6.3" fill="#F8766D"/><circle cx="351.63" cy="317.69" r="6.3" fill="#00BA38"/><circle cx="379.01" cy="498.75" r="6.3" fill="#F8766D"/><circle cx="418.65" cy="487.74" r="6.3" fill="#F8766D"/><circle cx="291.56" cy="345.3" r="6.3" fill="#00BA38"/><circle cx="496.18" cy="423.98" r="6.3" fill="#F8766D"/><circle cx="682.47" cy="417.67" r="6.4" fill="none" stroke="#F8766D" stroke-width="1.7"/><circle cx="520.21" cy="241.4" r="6.3" fill="#619CFF"/><circle cx="407.39" cy="485.29" r="6.3" fill="#F8766D"/><circle cx="314.87" cy="491.93" r="6.3" fill="#00BA38"/><circle cx="336.01" cy="513.55" r="6.3" fill="#F8766D"/><circle cx="358.56" cy="531.18" r="6.3" fill="#F8766D"/><circle cx="716.36" cy="492.36" r="6.4" fill="none" stroke="#F8766D" stroke-width="1.7"/><circle cx="659.62" cy="120.34" r="6.4" fill="none" stroke="#619CFF" stroke-width="1.7"/><circle cx="487.35" cy="220.99" r="6.3" fill="#619CFF"/><circle cx="482.17" cy="227.75" r="6.3" fill="#619CFF"/><circle cx="609.34" cy="449.92" r="6.4" fill="none" stroke="#F8766D" stroke-width="1.7"/><circle cx="310.83" cy="350.04" r="6.3" fill="#00BA38"/><circle cx="536.05" cy="440.19" r="6.3" fill="#F8766D"/><circle cx="437.56" cy="468.87" r="6.3" fill="#F8766D"/><circle cx="668.88" cy="493.99" r="6.4" fill="none" stroke="#F8766D" stroke-width="1.7"/><circle cx="659.51" cy="171" r="6.4" fill="none" stroke="#619CFF" stroke-width="1.7"/><circle cx="235.66" cy="330.62" r="6.4" fill="none" stroke="#00BA38" stroke-width="1.7"/><circle cx="459.47" cy="476.6" r="6.3" fill="#F8766D"/><circle cx="276.55" cy="326.77" r="6.4" fill="none" stroke="#00BA38" stroke-width="1.7"/><circle cx="508.19" cy="447.02" r="6.3" fill="#F8766D"/><circle cx="247.69" cy="371.31" r="6.3" fill="#00BA38"/><circle cx="272.25" cy="364.93" r="6.3" fill="#00BA38"/><circle cx="503.06" cy="223.89" r="6.3" fill="#619CFF"/><circle cx="417.82" cy="502.92" r="6.3" fill="#F8766D"/><circle cx="580.89" cy="512.12" r="6.4" fill="none" stroke="#F8766D" stroke-width="1.7"/><circle cx="483.95" cy="427.39" r="6.3" fill="#F8766D"/><circle cx="515.65" cy="422.23" r="6.3" fill="#F8766D"/><circle cx="651.07" cy="481.49" r="6.4" fill="none" stroke="#F8766D" stroke-width="1.7"/><circle cx="514.42" cy="217.33" r="6.3" fill="#619CFF"/><circle cx="581.57" cy="492.5" r="6.4" fill="none" stroke="#F8766D" stroke-width="1.7"/><circle cx="290.53" cy="370.67" r="6.3" fill="#00BA38"/><circle cx="442.78" cy="410.77" r="6.3" fill="#F8766D"/><circle cx="545.25" cy="507.62" r="6.4" fill="none" stroke="#F8766D" stroke-width="1.7"/><circle cx="380.25" cy="521.19" r="6.3" fill="#F8766D"/><circle cx="291.05" cy="377.32" r="6.3" fill="#00BA38"/><circle cx="238.22" cy="331.3" r="6.4" fill="none" stroke="#00BA38" stroke-width="1.7"/><circle cx="296.9" cy="354.72" r="6.3" fill="#00BA38"/><circle cx="281.26" cy="305.91" r="6.4" fill="none" stroke="#00BA38" stroke-width="1.7"/><circle cx="438.29" cy="427.28" r="6.3" fill="#F8766D"/><circle cx="282.83" cy="365.11" r="6.3" fill="#00BA38"/><circle cx="274.49" cy="324.12" r="6.4" fill="none" stroke="#00BA38" stroke-width="1.7"/><circle cx="650.61" cy="95.69" r="6.4" fill="none" stroke="#619CFF" stroke-width="1.7"/><circle cx="318.55" cy="457.52" r="6.3" fill="#F8766D"/><circle cx="528.76" cy="217.81" r="6.3" fill="#619CFF"/><circle cx="632.12" cy="473.27" r="6.4" fill="none" stroke="#F8766D" stroke-width="1.7"/><circle cx="495.6" cy="228.18" r="6.3" fill="#619CFF"/><circle cx="232.54" cy="317.47" r="6.4" fill="none" stroke="#00BA38" stroke-width="1.7"/><circle cx="273.09" cy="328.57" r="6.4" fill="none" stroke="#00BA38" stroke-width="1.7"/><circle cx="373.62" cy="512.88" r="6.3" fill="#F8766D"/><circle cx="548.75" cy="511.66" r="6.4" fill="none" stroke="#F8766D" stroke-width="1.7"/><circle cx="463.99" cy="420.6" r="6.3" fill="#F8766D"/><circle cx="524.96" cy="224.39" r="6.3" fill="#619CFF"/><circle cx="404.74" cy="474.39" r="6.3" fill="#F8766D"/><circle cx="258.58" cy="374.34" r="6.3" fill="#00BA38"/><circle cx="637.35" cy="554.18" r="6.4" fill="none" stroke="#F8766D" stroke-width="1.7"/><circle cx="299.49" cy="363.41" r="6.3" fill="#00BA38"/><circle cx="522.18" cy="419.33" r="6.3" fill="#F8766D"/><circle cx="546.1" cy="418.49" r="6.3" fill="#F8766D"/><circle cx="255.32" cy="391.65" r="6.3" fill="#00BA38"/><circle cx="493.8" cy="529.45" r="6.4" fill="none" stroke="#F8766D" stroke-width="1.7"/><circle cx="491.5" cy="387.97" r="6.3" fill="#F8766D"/><circle cx="509.97" cy="538.99" r="6.4" fill="none" stroke="#F8766D" stroke-width="1.7"/><circle cx="228.25" cy="376.58" r="6.3" fill="#00BA38"/><circle cx="289.89" cy="304.87" r="6.4" fill="none" stroke="#00BA38" stroke-width="1.7"/><circle cx="584.79" cy="579.4" r="6.4" fill="none" stroke="#F8766D" stroke-width="1.7"/><circle cx="675.65" cy="130.96" r="6.4" fill="none" stroke="#619CFF" stroke-width="1.7"/><circle cx="523.75" cy="526.98" r="6.4" fill="none" stroke="#F8766D" stroke-width="1.7"/><circle cx="396.48" cy="437.01" r="6.3" fill="#F8766D"/><circle cx="528.03" cy="593.23" r="6.4" fill="none" stroke="#F8766D" stroke-width="1.7"/><circle cx="268.05" cy="325.77" r="6.4" fill="none" stroke="#00BA38" stroke-width="1.7"/><circle cx="645.71" cy="403.18" r="6.4" fill="none" stroke="#F8766D" stroke-width="1.7"/><circle cx="643.68" cy="118.82" r="6.4" fill="none" stroke="#619CFF" stroke-width="1.7"/><circle cx="508" cy="524.83" r="6.4" fill="none" stroke="#F8766D" stroke-width="1.7"/><circle cx="662.13" cy="134.97" r="6.4" fill="none" stroke="#619CFF" stroke-width="1.7"/><circle cx="635.41" cy="494.46" r="6.4" fill="none" stroke="#F8766D" stroke-width="1.7"/><circle cx="552.18" cy="550.17" r="6.4" fill="none" stroke="#F8766D" stroke-width="1.7"/><circle cx="423.8" cy="481.48" r="6.3" fill="#F8766D"/><circle cx="685.15" cy="426.04" r="6.4" fill="none" stroke="#F8766D" stroke-width="1.7"/><circle cx="361.7" cy="482.9" r="6.3" fill="#F8766D"/><circle cx="363.58" cy="437.29" r="6.3" fill="#F8766D"/><circle cx="248.75" cy="332.65" r="6.4" fill="none" stroke="#00BA38" stroke-width="1.7"/><circle cx="254.35" cy="303.07" r="6.4" fill="none" stroke="#00BA38" stroke-width="1.7"/><circle cx="386.29" cy="502.56" r="6.3" fill="#F8766D"/><circle cx="308.37" cy="341.83" r="6.4" fill="none" stroke="#00BA38" stroke-width="1.7"/><circle cx="528.53" cy="233.77" r="6.3" fill="#619CFF"/><circle cx="491.32" cy="377.82" r="6.3" fill="#F8766D"/><circle cx="251.12" cy="313.68" r="6.4" fill="none" stroke="#00BA38" stroke-width="1.7"/><circle cx="469.65" cy="522.45" r="6.4" fill="none" stroke="#F8766D" stroke-width="1.7"/><circle cx="602.22" cy="494.05" r="6.4" fill="none" stroke="#F8766D" stroke-width="1.7"/><circle cx="619.5" cy="457.44" r="6.4" fill="none" stroke="#F8766D" stroke-width="1.7"/><circle cx="555.55" cy="414.6" r="6.3" fill="#F8766D"/><circle cx="592.47" cy="507.06" r="6.4" fill="none" stroke="#F8766D" stroke-width="1.7"/><circle cx="524.32" cy="395.42" r="6.3" fill="#F8766D"/><circle cx="476.02" cy="593.85" r="6.4" fill="none" stroke="#F8766D" stroke-width="1.7"/><circle cx="245.36" cy="391.74" r="6.3" fill="#00BA38"/><circle cx="526.6" cy="217.17" r="6.3" fill="#619CFF"/><circle cx="230.29" cy="310.12" r="6.4" fill="none" stroke="#00BA38" stroke-width="1.7"/><circle cx="578.83" cy="520.44" r="6.4" fill="none" stroke="#F8766D" stroke-width="1.7"/><circle cx="285.03" cy="372.62" r="6.3" fill="#00BA38"/><circle cx="412.03" cy="477.12" r="6.3" fill="#F8766D"/><circle cx="578.94" cy="482.49" r="6.4" fill="none" stroke="#F8766D" stroke-width="1.7"/><circle cx="684.78" cy="146.99" r="6.4" fill="none" stroke="#619CFF" stroke-width="1.7"/><circle cx="274.61" cy="384.59" r="6.3" fill="#00BA38"/><circle cx="395.33" cy="474.95" r="6.3" fill="#F8766D"/><circle cx="513.92" cy="422.76" r="6.3" fill="#F8766D"/><circle cx="417.8" cy="529.97" r="6.4" fill="none" stroke="#F8766D" stroke-width="1.7"/><circle cx="273.7" cy="335.47" r="6.4" fill="none" stroke="#00BA38" stroke-width="1.7"/><circle cx="453.98" cy="412.78" r="6.3" fill="#F8766D"/><circle cx="692.75" cy="144.87" r="6.4" fill="none" stroke="#619CFF" stroke-width="1.7"/><circle cx="460.93" cy="435.31" r="6.3" fill="#F8766D"/><circle cx="683.9" cy="155.42" r="6.4" fill="none" stroke="#619CFF" stroke-width="1.7"/><circle cx="561.99" cy="568.42" r="6.4" fill="none" stroke="#F8766D" stroke-width="1.7"/><circle cx="690.47" cy="134.81" r="6.4" fill="none" stroke="#619CFF" stroke-width="1.7"/><circle cx="275.95" cy="371.04" r="6.3" fill="#00BA38"/><circle cx="585.94" cy="448.75" r="6.4" fill="none" stroke="#F8766D" stroke-width="1.7"/><circle cx="611.22" cy="144.53" r="6.4" fill="none" stroke="#619CFF" stroke-width="1.7"/><circle cx="484.27" cy="462.39" r="6.3" fill="#F8766D"/><circle cx="274.72" cy="361.75" r="6.3" fill="#00BA38"/><circle cx="252.91" cy="370.87" r="6.3" fill="#00BA38"/><circle cx="254.12" cy="383.59" r="6.3" fill="#00BA38"/><circle cx="284.5" cy="364.58" r="6.3" fill="#00BA38"/><circle cx="581.25" cy="504.01" r="6.4" fill="none" stroke="#F8766D" stroke-width="1.7"/><circle cx="470.62" cy="432.47" r="6.3" fill="#F8766D"/><circle cx="507.25" cy="396.65" r="6.3" fill="#F8766D"/><circle cx="271.02" cy="341.54" r="6.3" fill="#00BA38"/><circle cx="245.26" cy="332.78" r="6.4" fill="none" stroke="#00BA38" stroke-width="1.7"/><circle cx="214.46" cy="312.69" r="6.4" fill="none" stroke="#00BA38" stroke-width="1.7"/><circle cx="493.45" cy="412.66" r="6.3" fill="#F8766D"/><circle cx="243.86" cy="317.3" r="6.4" fill="none" stroke="#00BA38" stroke-width="1.7"/><circle cx="518.03" cy="206.79" r="6.3" fill="#619CFF"/><circle cx="575.72" cy="503.1" r="6.4" fill="none" stroke="#F8766D" stroke-width="1.7"/><circle cx="448.22" cy="491.23" r="6.4" fill="none" stroke="#F8766D" stroke-width="1.7"/><circle cx="598.06" cy="507.45" r="6.4" fill="none" stroke="#F8766D" stroke-width="1.7"/><circle cx="261.57" cy="304.33" r="6.4" fill="none" stroke="#00BA38" stroke-width="1.7"/><circle cx="549.25" cy="458.78" r="6.4" fill="none" stroke="#F8766D" stroke-width="1.7"/><circle cx="416.87" cy="452.39" r="6.3" fill="#F8766D"/><circle cx="248.26" cy="383.49" r="6.3" fill="#00BA38"/><circle cx="234.24" cy="310.54" r="6.4" fill="none" stroke="#00BA38" stroke-width="1.7"/><circle cx="543.64" cy="482.71" r="6.4" fill="none" stroke="#F8766D" stroke-width="1.7"/><circle cx="291.67" cy="291.67" r="6.4" fill="none" stroke="#00BA38" stroke-width="1.7"/><circle cx="262.96" cy="305.44" r="6.4" fill="none" stroke="#00BA38" stroke-width="1.7"/><circle cx="280.01" cy="369.62" r="6.3" fill="#00BA38"/><circle cx="276.37" cy="372.38" r="6.3" fill="#00BA38"/><circle cx="395.71" cy="451.1" r="6.3" fill="#F8766D"/><circle cx="280.3" cy="367.47" r="6.3" fill="#00BA38"/><circle cx="593.04" cy="475.51" r="6.4" fill="none" stroke="#F8766D" stroke-width="1.7"/><circle cx="575.87" cy="214.81" r="6.3" fill="#619CFF"/><circle cx="598.32" cy="399.75" r="6.4" fill="none" stroke="#F8766D" stroke-width="1.7"/><circle cx="507.22" cy="223.74" r="6.3" fill="#619CFF"/><circle cx="231.66" cy="316.73" r="6.4" fill="none" stroke="#00BA38" stroke-width="1.7"/><circle cx="248.48" cy="323.07" r="6.4" fill="none" stroke="#00BA38" stroke-width="1.7"/><circle cx="603.11" cy="505.47" r="6.4" fill="none" stroke="#F8766D" stroke-width="1.7"/><circle cx="686.41" cy="424" r="6.4" fill="none" stroke="#F8766D" stroke-width="1.7"/><circle cx="518.67" cy="385.2" r="6.3" fill="#F8766D"/><circle cx="266.71" cy="297.39" r="6.4" fill="none" stroke="#00BA38" stroke-width="1.7"/><circle cx="584.4" cy="483.2" r="6.4" fill="none" stroke="#F8766D" stroke-width="1.7"/><circle cx="528.03" cy="632.18" r="6.4" fill="none" stroke="#F8766D" stroke-width="1.7"/><circle cx="648.5" cy="126.36" r="6.4" fill="none" stroke="#619CFF" stroke-width="1.7"/><circle cx="250.19" cy="290.8" r="6.4" fill="none" stroke="#00BA38" stroke-width="1.7"/><circle cx="532.23" cy="481.84" r="6.4" fill="none" stroke="#F8766D" stroke-width="1.7"/><circle cx="220.6" cy="311.95" r="6.4" fill="none" stroke="#00BA38" stroke-width="1.7"/><circle cx="278.26" cy="300.73" r="6.4" fill="none" stroke="#00BA38" stroke-width="1.7"/><circle cx="397.29" cy="443.91" r="6.3" fill="#F8766D"/><circle cx="464.43" cy="457.47" r="6.3" fill="#F8766D"/><circle cx="526.45" cy="555.36" r="6.4" fill="none" stroke="#F8766D" stroke-width="1.7"/><circle cx="217.9" cy="325.57" r="6.4" fill="none" stroke="#00BA38" stroke-width="1.7"/><circle cx="399.71" cy="475.08" r="6.3" fill="#F8766D"/><circle cx="555.64" cy="465.74" r="6.4" fill="none" stroke="#F8766D" stroke-width="1.7"/><circle cx="237.57" cy="360.46" r="6.3" fill="#00BA38"/><circle cx="608.91" cy="459.67" r="6.4" fill="none" stroke="#F8766D" stroke-width="1.7"/><circle cx="507.07" cy="414.66" r="6.3" fill="#F8766D"/><circle cx="588.66" cy="477.97" r="6.4" fill="none" stroke="#F8766D" stroke-width="1.7"/><circle cx="286.55" cy="295.8" r="6.4" fill="none" stroke="#00BA38" stroke-width="1.7"/><circle cx="308.26" cy="390.5" r="6.3" fill="#00BA38"/><circle cx="391.91" cy="462.89" r="6.3" fill="#F8766D"/><circle cx="283.06" cy="325.34" r="6.4" fill="none" stroke="#00BA38" stroke-width="1.7"/><circle cx="456.58" cy="482.39" r="6.3" fill="#F8766D"/><circle cx="269.68" cy="369.15" r="6.3" fill="#00BA38"/><circle cx="256.24" cy="297.83" r="6.4" fill="none" stroke="#00BA38" stroke-width="1.7"/><circle cx="224.44" cy="307.36" r="6.4" fill="none" stroke="#00BA38" stroke-width="1.7"/><circle cx="502.88" cy="241.69" r="6.3" fill="#619CFF"/><circle cx="576.52" cy="512.09" r="6.4" fill="none" stroke="#F8766D" stroke-width="1.7"/><circle cx="405.7" cy="490.18" r="6.3" fill="#F8766D"/><circle cx="501.11" cy="219.86" r="6.3" fill="#619CFF"/><circle cx="430.25" cy="466.22" r="6.3" fill="#F8766D"/><circle cx="285.18" cy="379.06" r="6.3" fill="#00BA38"/><circle cx="487.38" cy="463.25" r="6.3" fill="#F8766D"/><circle cx="296.08" cy="311.69" r="6.4" fill="none" stroke="#00BA38" stroke-width="1.7"/><circle cx="568.23" cy="561.68" r="6.4" fill="none" stroke="#F8766D" stroke-width="1.7"/><circle cx="302.38" cy="349.49" r="6.3" fill="#00BA38"/><circle cx="443.19" cy="453.95" r="6.3" fill="#F8766D"/><circle cx="312.74" cy="359.93" r="6.3" fill="#00BA38"/><circle cx="264.43" cy="317.74" r="6.4" fill="none" stroke="#00BA38" stroke-width="1.7"/><circle cx="468.37" cy="453.93" r="6.3" fill="#F8766D"/><circle cx="253.13" cy="369.71" r="6.3" fill="#00BA38"/><circle cx="291.89" cy="372.54" r="6.3" fill="#00BA38"/><circle cx="646.25" cy="148.11" r="6.4" fill="none" stroke="#619CFF" stroke-width="1.7"/><circle cx="516.31" cy="497.85" r="6.4" fill="none" stroke="#F8766D" stroke-width="1.7"/><circle cx="254.83" cy="319.56" r="6.4" fill="none" stroke="#00BA38" stroke-width="1.7"/><circle cx="391.78" cy="467.37" r="6.3" fill="#F8766D"/><circle cx="435.4" cy="494.47" r="6.4" fill="none" stroke="#F8766D" stroke-width="1.7"/><circle cx="522.46" cy="437.96" r="6.3" fill="#F8766D"/><circle cx="652.03" cy="171.5" r="6.4" fill="none" stroke="#619CFF" stroke-width="1.7"/><circle cx="264.05" cy="402.98" r="6.3" fill="#00BA38"/><circle cx="543.37" cy="513.77" r="6.4" fill="none" stroke="#F8766D" stroke-width="1.7"/><circle cx="192.58" cy="290.73" r="6.4" fill="none" stroke="#00BA38" stroke-width="1.7"/><circle cx="245.2" cy="320.23" r="6.4" fill="none" stroke="#00BA38" stroke-width="1.7"/><circle cx="294.27" cy="368.32" r="6.3" fill="#00BA38"/><circle cx="609.72" cy="550.85" r="6.4" fill="none" stroke="#F8766D" stroke-width="1.7"/><circle cx="499.38" cy="239.07" r="6.3" fill="#619CFF"/><circle cx="245.63" cy="318.74" r="6.4" fill="none" stroke="#00BA38" stroke-width="1.7"/><circle cx="401.84" cy="466.83" r="6.3" fill="#F8766D"/><circle cx="577.4" cy="431.01" r="6.4" fill="none" stroke="#F8766D" stroke-width="1.7"/><circle cx="615.21" cy="506.43" r="6.4" fill="none" stroke="#F8766D" stroke-width="1.7"/><circle cx="452.51" cy="560.04" r="6.4" fill="none" stroke="#F8766D" stroke-width="1.7"/><circle cx="247.53" cy="305.99" r="6.4" fill="none" stroke="#00BA38" stroke-width="1.7"/><circle cx="449.97" cy="447.6" r="6.3" fill="#F8766D"/><circle cx="527.35" cy="605.89" r="6.4" fill="none" stroke="#F8766D" stroke-width="1.7"/><circle cx="422.94" cy="434.23" r="6.3" fill="#F8766D"/><circle cx="430.76" cy="472.88" r="6.3" fill="#F8766D"/><circle cx="531.31" cy="229.59" r="6.3" fill="#619CFF"/><circle cx="513.88" cy="230.16" r="6.3" fill="#619CFF"/><circle cx="495.25" cy="424.84" r="6.3" fill="#F8766D"/><circle cx="568.58" cy="412.35" r="6.4" fill="none" stroke="#F8766D" stroke-width="1.7"/><circle cx="520.88" cy="239.13" r="6.3" fill="#619CFF"/><circle cx="605.28" cy="631.4" r="6.4" fill="none" stroke="#F8766D" stroke-width="1.7"/><circle cx="431.91" cy="599.43" r="6.4" fill="none" stroke="#F8766D" stroke-width="1.7"/><circle cx="525.05" cy="228.31" r="6.3" fill="#619CFF"/><circle cx="202.58" cy="306.23" r="6.4" fill="none" stroke="#00BA38" stroke-width="1.7"/><circle cx="244.79" cy="365.92" r="6.3" fill="#00BA38"/><circle cx="428.07" cy="431.35" r="6.3" fill="#F8766D"/><circle cx="523.1" cy="543.47" r="6.4" fill="none" stroke="#F8766D" stroke-width="1.7"/><circle cx="392.02" cy="462.68" r="6.3" fill="#F8766D"/><circle cx="554.99" cy="537.82" r="6.4" fill="none" stroke="#F8766D" stroke-width="1.7"/><circle cx="268.47" cy="352.45" r="6.3" fill="#00BA38"/><circle cx="572.14" cy="443.67" r="6.4" fill="none" stroke="#F8766D" stroke-width="1.7"/><circle cx="654.06" cy="501.97" r="6.4" fill="none" stroke="#F8766D" stroke-width="1.7"/><circle cx="595.15" cy="444.11" r="6.4" fill="none" stroke="#F8766D" stroke-width="1.7"/><circle cx="269.1" cy="383.92" r="6.3" fill="#00BA38"/><circle cx="247.99" cy="303.91" r="6.4" fill="none" stroke="#00BA38" stroke-width="1.7"/><circle cx="605.82" cy="425.13" r="6.4" fill="none" stroke="#F8766D" stroke-width="1.7"/><circle cx="520.67" cy="427.84" r="6.3" fill="#F8766D"/><circle cx="280.85" cy="316.98" r="6.4" fill="none" stroke="#00BA38" stroke-width="1.7"/><circle cx="291.42" cy="341.37" r="6.3" fill="#00BA38"/><circle cx="531.48" cy="246.76" r="6.3" fill="#619CFF"/><circle cx="245.45" cy="352.08" r="6.3" fill="#00BA38"/><circle cx="493.88" cy="236.24" r="6.3" fill="#619CFF"/><circle cx="476.49" cy="509.42" r="6.4" fill="none" stroke="#F8766D" stroke-width="1.7"/><circle cx="636.16" cy="516.86" r="6.4" fill="none" stroke="#F8766D" stroke-width="1.7"/><circle cx="291.13" cy="328.02" r="6.4" fill="none" stroke="#00BA38" stroke-width="1.7"/><circle cx="443.91" cy="447.95" r="6.3" fill="#F8766D"/><circle cx="556.91" cy="506.78" r="6.4" fill="none" stroke="#F8766D" stroke-width="1.7"/><circle cx="566.43" cy="402.28" r="6.4" fill="none" stroke="#F8766D" stroke-width="1.7"/><circle cx="453.34" cy="463.28" r="6.3" fill="#F8766D"/><circle cx="353.16" cy="490.83" r="6.3" fill="#F8766D"/><circle cx="254.22" cy="323.01" r="6.4" fill="none" stroke="#00BA38" stroke-width="1.7"/><circle cx="502.49" cy="220.87" r="6.3" fill="#619CFF"/><circle cx="227" cy="319.75" r="6.4" fill="none" stroke="#00BA38" stroke-width="1.7"/><circle cx="635.96" cy="482.56" r="6.4" fill="none" stroke="#F8766D" stroke-width="1.7"/><circle cx="652.6" cy="99.98" r="6.4" fill="none" stroke="#619CFF" stroke-width="1.7"/><circle cx="284.3" cy="357.87" r="6.3" fill="#00BA38"/><circle cx="715.75" cy="136.15" r="6.4" fill="none" stroke="#619CFF" stroke-width="1.7"/><circle cx="515.2" cy="240.21" r="6.3" fill="#619CFF"/><circle cx="547.8" cy="539.81" r="6.4" fill="none" stroke="#F8766D" stroke-width="1.7"/><circle cx="511.35" cy="217.15" r="6.3" fill="#619CFF"/><circle cx="617.37" cy="541.46" r="6.4" fill="none" stroke="#F8766D" stroke-width="1.7"/><circle cx="532.46" cy="475.55" r="6.4" fill="none" stroke="#F8766D" stroke-width="1.7"/><circle cx="638.38" cy="149.47" r="6.4" fill="none" stroke="#619CFF" stroke-width="1.7"/><circle cx="699.33" cy="166.69" r="6.4" fill="none" stroke="#619CFF" stroke-width="1.7"/><circle cx="639.65" cy="476.72" r="6.4" fill="none" stroke="#F8766D" stroke-width="1.7"/><circle cx="513.42" cy="409.77" r="6.4" fill="none" stroke="#F8766D" stroke-width="1.7"/><circle cx="318.54" cy="376.92" r="6.3" fill="#00BA38"/><circle cx="249.86" cy="324.43" r="6.4" fill="none" stroke="#00BA38" stroke-width="1.7"/><circle cx="419.97" cy="490.37" r="6.3" fill="#F8766D"/><circle cx="415.39" cy="460.7" r="6.3" fill="#F8766D"/><circle cx="260.01" cy="325.18" r="6.4" fill="none" stroke="#00BA38" stroke-width="1.7"/><circle cx="425.27" cy="496.94" r="6.3" fill="#F8766D"/><circle cx="568.79" cy="488.96" r="6.4" fill="none" stroke="#F8766D" stroke-width="1.7"/><circle cx="211.99" cy="331.91" r="6.4" fill="none" stroke="#00BA38" stroke-width="1.7"/><circle cx="292.67" cy="352.28" r="6.3" fill="#00BA38"/><circle cx="298.27" cy="370.15" r="6.3" fill="#00BA38"/><circle cx="285.57" cy="379.21" r="6.3" fill="#00BA38"/><circle cx="558.64" cy="555.97" r="6.4" fill="none" stroke="#F8766D" stroke-width="1.7"/><circle cx="253.05" cy="323.24" r="6.4" fill="none" stroke="#00BA38" stroke-width="1.7"/><circle cx="509.7" cy="363.33" r="6.3" fill="#F8766D"/><circle cx="509.78" cy="219.53" r="6.3" fill="#619CFF"/><circle cx="266.48" cy="385.81" r="6.3" fill="#00BA38"/><circle cx="513.28" cy="495.39" r="6.4" fill="none" stroke="#F8766D" stroke-width="1.7"/><circle cx="229.79" cy="391.38" r="6.3" fill="#00BA38"/><circle cx="275.62" cy="371.63" r="6.3" fill="#00BA38"/><circle cx="302.61" cy="359.52" r="6.3" fill="#00BA38"/><circle cx="489.44" cy="382.87" r="6.3" fill="#F8766D"/><circle cx="593.2" cy="479.96" r="6.4" fill="none" stroke="#F8766D" stroke-width="1.7"/><circle cx="596.76" cy="512.45" r="6.4" fill="none" stroke="#F8766D" stroke-width="1.7"/><circle cx="622.5" cy="383.14" r="6.4" fill="none" stroke="#F8766D" stroke-width="1.7"/><circle cx="532.24" cy="402.34" r="6.3" fill="#F8766D"/><circle cx="675.12" cy="406.8" r="6.4" fill="none" stroke="#F8766D" stroke-width="1.7"/><circle cx="233.74" cy="326.13" r="6.4" fill="none" stroke="#00BA38" stroke-width="1.7"/><circle cx="404.75" cy="464.21" r="6.3" fill="#F8766D"/><circle cx="470.74" cy="469.83" r="6.3" fill="#F8766D"/><circle cx="262.69" cy="318.41" r="6.4" fill="none" stroke="#00BA38" stroke-width="1.7"/><circle cx="531.76" cy="269.15" r="6.3" fill="#619CFF"/><circle cx="526.42" cy="253.42" r="6.3" fill="#619CFF"/><circle cx="519.71" cy="543.24" r="6.4" fill="none" stroke="#F8766D" stroke-width="1.7"/><circle cx="440.35" cy="439.1" r="6.3" fill="#F8766D"/><circle cx="555.49" cy="484.15" r="6.4" fill="none" stroke="#F8766D" stroke-width="1.7"/><circle cx="581.63" cy="470.57" r="6.4" fill="none" stroke="#F8766D" stroke-width="1.7"/><circle cx="583.02" cy="525.2" r="6.4" fill="none" stroke="#F8766D" stroke-width="1.7"/><circle cx="529.4" cy="497.29" r="6.4" fill="none" stroke="#F8766D" stroke-width="1.7"/><circle cx="596.37" cy="451.15" r="6.4" fill="none" stroke="#F8766D" stroke-width="1.7"/><circle cx="280.55" cy="316.44" r="6.4" fill="none" stroke="#00BA38" stroke-width="1.7"/><circle cx="414.85" cy="458.98" r="6.3" fill="#F8766D"/><circle cx="479.38" cy="425.13" r="6.3" fill="#F8766D"/><circle cx="240.87" cy="309.08" r="6.4" fill="none" stroke="#00BA38" stroke-width="1.7"/><circle cx="274.69" cy="353.11" r="6.3" fill="#00BA38"/><circle cx="223.79" cy="314.4" r="6.4" fill="none" stroke="#00BA38" stroke-width="1.7"/><circle cx="262.32" cy="369.55" r="6.3" fill="#00BA38"/><circle cx="583.09" cy="549.95" r="6.4" fill="none" stroke="#F8766D" stroke-width="1.7"/><circle cx="280.02" cy="303.64" r="6.4" fill="none" stroke="#00BA38" stroke-width="1.7"/><circle cx="272.03" cy="341.88" r="6.3" fill="#00BA38"/><circle cx="473.99" cy="468.83" r="6.3" fill="#F8766D"/><circle cx="619.29" cy="158.47" r="6.4" fill="none" stroke="#619CFF" stroke-width="1.7"/><circle cx="482.61" cy="487.76" r="6.3" fill="#F8766D"/><circle cx="255.17" cy="372.56" r="6.3" fill="#00BA38"/><circle cx="235" cy="311.53" r="6.4" fill="none" stroke="#00BA38" stroke-width="1.7"/><circle cx="517.87" cy="411.01" r="6.3" fill="#F8766D"/><circle cx="522.25" cy="441.73" r="6.4" fill="none" stroke="#F8766D" stroke-width="1.7"/><circle cx="517.62" cy="443.94" r="6.3" fill="#F8766D"/><circle cx="689.82" cy="171.34" r="6.4" fill="none" stroke="#619CFF" stroke-width="1.7"/><circle cx="388.59" cy="486.72" r="6.3" fill="#F8766D"/><circle cx="712.31" cy="134.37" r="6.4" fill="none" stroke="#619CFF" stroke-width="1.7"/><circle cx="501.77" cy="256.87" r="6.3" fill="#619CFF"/><circle cx="397.58" cy="386.15" r="6.3" fill="#F8766D"/><circle cx="417.69" cy="461.35" r="6.3" fill="#F8766D"/><circle cx="267.37" cy="322.83" r="6.4" fill="none" stroke="#00BA38" stroke-width="1.7"/><circle cx="534.83" cy="504.26" r="6.4" fill="none" stroke="#F8766D" stroke-width="1.7"/><circle cx="287.11" cy="311.59" r="6.4" fill="none" stroke="#00BA38" stroke-width="1.7"/><circle cx="305.59" cy="359.02" r="6.3" fill="#00BA38"/><circle cx="240.96" cy="367.79" r="6.3" fill="#00BA38"/><circle cx="308.64" cy="382.32" r="6.3" fill="#00BA38"/><circle cx="641.14" cy="413.12" r="6.4" fill="none" stroke="#F8766D" stroke-width="1.7"/><circle cx="514.97" cy="230.21" r="6.3" fill="#619CFF"/><circle cx="222.43" cy="337.04" r="6.4" fill="none" stroke="#00BA38" stroke-width="1.7"/><circle cx="510.46" cy="434.53" r="6.3" fill="#F8766D"/><circle cx="668.82" cy="134.68" r="6.4" fill="none" stroke="#619CFF" stroke-width="1.7"/><circle cx="561.16" cy="251.03" r="6.3" fill="#619CFF"/><circle cx="517.63" cy="239.57" r="6.3" fill="#619CFF"/><circle cx="287.38" cy="311.61" r="6.4" fill="none" stroke="#00BA38" stroke-width="1.7"/><circle cx="208.54" cy="348.25" r="6.4" fill="none" stroke="#00BA38" stroke-width="1.7"/><circle cx="589.32" cy="514.16" r="6.4" fill="none" stroke="#F8766D" stroke-width="1.7"/><circle cx="385.72" cy="516.67" r="6.3" fill="#F8766D"/><circle cx="267.85" cy="361.13" r="6.3" fill="#00BA38"/><circle cx="499.87" cy="214.37" r="6.3" fill="#619CFF"/><circle cx="311.22" cy="354.14" r="6.3" fill="#00BA38"/><circle cx="553.76" cy="500.66" r="6.4" fill="none" stroke="#F8766D" stroke-width="1.7"/><circle cx="388.39" cy="500.99" r="6.3" fill="#F8766D"/><circle cx="576.67" cy="521.07" r="6.4" fill="none" stroke="#F8766D" stroke-width="1.7"/><circle cx="457.85" cy="414.25" r="6.3" fill="#F8766D"/><circle cx="426.62" cy="453.19" r="6.3" fill="#F8766D"/><circle cx="490.96" cy="505.08" r="6.4" fill="none" stroke="#F8766D" stroke-width="1.7"/><circle cx="483.02" cy="567.38" r="6.4" fill="none" stroke="#F8766D" stroke-width="1.7"/><circle cx="561.16" cy="236.54" r="6.3" fill="#619CFF"/><circle cx="548.13" cy="530.9" r="6.4" fill="none" stroke="#F8766D" stroke-width="1.7"/><circle cx="530.99" cy="540.68" r="6.4" fill="none" stroke="#F8766D" stroke-width="1.7"/><circle cx="227.25" cy="327.6" r="6.4" fill="none" stroke="#00BA38" stroke-width="1.7"/><circle cx="276.35" cy="315.16" r="6.4" fill="none" stroke="#00BA38" stroke-width="1.7"/><circle cx="247.31" cy="376.53" r="6.3" fill="#00BA38"/><circle cx="403.07" cy="471.04" r="6.3" fill="#F8766D"/><circle cx="634.89" cy="145.22" r="6.4" fill="none" stroke="#619CFF" stroke-width="1.7"/><circle cx="406.79" cy="452.04" r="6.3" fill="#F8766D"/><circle cx="267.79" cy="356.69" r="6.3" fill="#00BA38"/><circle cx="638.36" cy="160.47" r="6.4" fill="none" stroke="#619CFF" stroke-width="1.7"/><circle cx="375.74" cy="459.18" r="6.3" fill="#F8766D"/><circle cx="446.24" cy="455.64" r="6.3" fill="#F8766D"/><circle cx="593.14" cy="496.65" r="6.4" fill="none" stroke="#F8766D" stroke-width="1.7"/><circle cx="260.55" cy="339.86" r="6.4" fill="none" stroke="#00BA38" stroke-width="1.7"/><circle cx="437.24" cy="466.78" r="6.3" fill="#F8766D"/><circle cx="666.87" cy="147.72" r="6.4" fill="none" stroke="#619CFF" stroke-width="1.7"/><circle cx="679.13" cy="131.78" r="6.4" fill="none" stroke="#619CFF" stroke-width="1.7"/><circle cx="245.56" cy="319.61" r="6.4" fill="none" stroke="#00BA38" stroke-width="1.7"/><circle cx="430.35" cy="455.52" r="6.3" fill="#F8766D"/><circle cx="290.6" cy="377.81" r="6.3" fill="#00BA38"/><circle cx="616.99" cy="480.09" r="6.4" fill="none" stroke="#F8766D" stroke-width="1.7"/><circle cx="559.72" cy="457.01" r="6.3" fill="#F8766D"/><circle cx="517.03" cy="567.4" r="6.4" fill="none" stroke="#F8766D" stroke-width="1.7"/><circle cx="489.38" cy="484.41" r="6.3" fill="#F8766D"/><circle cx="575.96" cy="521.77" r="6.4" fill="none" stroke="#F8766D" stroke-width="1.7"/><circle cx="345.32" cy="461.54" r="6.3" fill="#F8766D"/><circle cx="292.78" cy="354.52" r="6.3" fill="#00BA38"/><circle cx="651.98" cy="175.08" r="6.4" fill="none" stroke="#619CFF" stroke-width="1.7"/><circle cx="504.3" cy="211.41" r="6.3" fill="#619CFF"/><circle cx="581.61" cy="418.49" r="6.4" fill="none" stroke="#F8766D" stroke-width="1.7"/><circle cx="562.64" cy="415.03" r="6.3" fill="#F8766D"/><circle cx="603.35" cy="471.73" r="6.4" fill="none" stroke="#F8766D" stroke-width="1.7"/><circle cx="219.48" cy="317.88" r="6.4" fill="none" stroke="#00BA38" stroke-width="1.7"/><circle cx="397.6" cy="443.92" r="6.3" fill="#F8766D"/><circle cx="291.81" cy="358.53" r="6.3" fill="#00BA38"/><circle cx="427.42" cy="470.72" r="6.3" fill="#F8766D"/><circle cx="510.38" cy="509.45" r="6.4" fill="none" stroke="#F8766D" stroke-width="1.7"/><circle cx="570.63" cy="503.93" r="6.4" fill="none" stroke="#F8766D" stroke-width="1.7"/><circle cx="496.88" cy="429.14" r="6.3" fill="#F8766D"/><circle cx="527.99" cy="438.65" r="6.4" fill="none" stroke="#F8766D" stroke-width="1.7"/><circle cx="601.18" cy="469.81" r="6.4" fill="none" stroke="#F8766D" stroke-width="1.7"/><circle cx="481.82" cy="468.37" r="6.3" fill="#F8766D"/><circle cx="692.88" cy="109.97" r="6.4" fill="none" stroke="#619CFF" stroke-width="1.7"/><circle cx="518.59" cy="523.97" r="6.4" fill="none" stroke="#F8766D" stroke-width="1.7"/><circle cx="260.85" cy="373.66" r="6.3" fill="#00BA38"/><circle cx="456.81" cy="478.39" r="6.3" fill="#F8766D"/><circle cx="286" cy="352.1" r="6.4" fill="none" stroke="#00BA38" stroke-width="1.7"/><circle cx="487.66" cy="591.6" r="6.4" fill="none" stroke="#F8766D" stroke-width="1.7"/><circle cx="259.19" cy="328.62" r="6.4" fill="none" stroke="#00BA38" stroke-width="1.7"/><circle cx="250.51" cy="366.02" r="6.3" fill="#00BA38"/><circle cx="657.34" cy="529.79" r="6.4" fill="none" stroke="#F8766D" stroke-width="1.7"/><circle cx="468.3" cy="463.37" r="6.3" fill="#F8766D"/><circle cx="545.64" cy="530.44" r="6.4" fill="none" stroke="#F8766D" stroke-width="1.7"/><circle cx="411.35" cy="464.49" r="6.3" fill="#F8766D"/><circle cx="641.17" cy="151.64" r="6.4" fill="none" stroke="#619CFF" stroke-width="1.7"/><circle cx="440.05" cy="488.22" r="6.3" fill="#F8766D"/><circle cx="443.9" cy="456.15" r="6.3" fill="#F8766D"/><circle cx="547.45" cy="559.92" r="6.4" fill="none" stroke="#F8766D" stroke-width="1.7"/><circle cx="246.9" cy="378.27" r="6.3" fill="#00BA38"/><circle cx="265.26" cy="387.27" r="6.3" fill="#00BA38"/><circle cx="289.21" cy="371.58" r="6.3" fill="#00BA38"/><circle cx="495.29" cy="431.82" r="6.3" fill="#F8766D"/><circle cx="280.01" cy="380.66" r="6.3" fill="#00BA38"/><circle cx="405.76" cy="457.33" r="6.3" fill="#F8766D"/><circle cx="604.68" cy="511.45" r="6.4" fill="none" stroke="#F8766D" stroke-width="1.7"/><circle cx="396.37" cy="467.73" r="6.3" fill="#F8766D"/><circle cx="232.43" cy="318.92" r="6.4" fill="none" stroke="#00BA38" stroke-width="1.7"/><circle cx="247.63" cy="332.78" r="6.4" fill="none" stroke="#00BA38" stroke-width="1.7"/><circle cx="744.96" cy="153.23" r="6.4" fill="none" stroke="#619CFF" stroke-width="1.7"/><circle cx="268.39" cy="326.21" r="6.4" fill="none" stroke="#00BA38" stroke-width="1.7"/><circle cx="285.12" cy="358.63" r="6.3" fill="#00BA38"/><circle cx="505.53" cy="238.75" r="6.3" fill="#619CFF"/><circle cx="276.73" cy="309.23" r="6.4" fill="none" stroke="#00BA38" stroke-width="1.7"/><circle cx="287.03" cy="380.21" r="6.3" fill="#00BA38"/><circle cx="501.38" cy="237.12" r="6.3" fill="#619CFF"/><circle cx="624.95" cy="432.11" r="6.4" fill="none" stroke="#F8766D" stroke-width="1.7"/><circle cx="520.88" cy="229.95" r="6.3" fill="#619CFF"/><circle cx="542.78" cy="372.39" r="6.3" fill="#F8766D"/><circle cx="246.11" cy="326.76" r="6.4" fill="none" stroke="#00BA38" stroke-width="1.7"/><circle cx="492.17" cy="396.9" r="6.3" fill="#F8766D"/><circle cx="537.49" cy="421.26" r="6.3" fill="#F8766D"/><circle cx="678.18" cy="139.08" r="6.4" fill="none" stroke="#619CFF" stroke-width="1.7"/><circle cx="440.39" cy="423.77" r="6.3" fill="#F8766D"/><circle cx="262.11" cy="387.4" r="6.3" fill="#00BA38"/><circle cx="520.18" cy="212.7" r="6.3" fill="#619CFF"/><circle cx="558.54" cy="446.26" r="6.4" fill="none" stroke="#F8766D" stroke-width="1.7"/><circle cx="617.78" cy="534.68" r="6.4" fill="none" stroke="#F8766D" stroke-width="1.7"/><circle cx="327.19" cy="364.97" r="6.3" fill="#00BA38"/><circle cx="665.53" cy="130.46" r="6.4" fill="none" stroke="#619CFF" stroke-width="1.7"/><circle cx="556.6" cy="490.78" r="6.4" fill="none" stroke="#F8766D" stroke-width="1.7"/><circle cx="221.41" cy="320.92" r="6.4" fill="none" stroke="#00BA38" stroke-width="1.7"/><circle cx="627.01" cy="157.09" r="6.4" fill="none" stroke="#619CFF" stroke-width="1.7"/><circle cx="460.8" cy="428.41" r="6.3" fill="#F8766D"/><circle cx="387.64" cy="472.39" r="6.3" fill="#F8766D"/><circle cx="364.87" cy="320.22" r="6.3" fill="#00BA38"/><circle cx="426.25" cy="503.23" r="6.3" fill="#F8766D"/><circle cx="490.39" cy="403.52" r="6.3" fill="#F8766D"/><circle cx="587.38" cy="513.04" r="6.4" fill="none" stroke="#F8766D" stroke-width="1.7"/><circle cx="494.71" cy="467.74" r="6.4" fill="none" stroke="#F8766D" stroke-width="1.7"/><circle cx="267.72" cy="322.62" r="6.4" fill="none" stroke="#00BA38" stroke-width="1.7"/><circle cx="247.55" cy="355.46" r="6.3" fill="#00BA38"/><circle cx="597.27" cy="541.48" r="6.4" fill="none" stroke="#F8766D" stroke-width="1.7"/><circle cx="426.53" cy="411.35" r="6.3" fill="#F8766D"/><circle cx="561.66" cy="501.64" r="6.4" fill="none" stroke="#F8766D" stroke-width="1.7"/><circle cx="492.54" cy="466.05" r="6.4" fill="none" stroke="#F8766D" stroke-width="1.7"/><circle cx="504.06" cy="219.05" r="6.3" fill="#619CFF"/><circle cx="248.85" cy="384.05" r="6.3" fill="#00BA38"/><circle cx="468.35" cy="435.4" r="6.3" fill="#F8766D"/><circle cx="700.12" cy="179.32" r="6.4" fill="none" stroke="#619CFF" stroke-width="1.7"/><circle cx="500.32" cy="443.84" r="6.3" fill="#F8766D"/><circle cx="520.76" cy="220.44" r="6.3" fill="#619CFF"/><circle cx="263.35" cy="310.91" r="6.4" fill="none" stroke="#00BA38" stroke-width="1.7"/><circle cx="256.96" cy="309.17" r="6.4" fill="none" stroke="#00BA38" stroke-width="1.7"/><circle cx="268.26" cy="356.94" r="6.3" fill="#00BA38"/><circle cx="399.46" cy="467.19" r="6.3" fill="#F8766D"/><circle cx="646.59" cy="145.1" r="6.4" fill="none" stroke="#619CFF" stroke-width="1.7"/><circle cx="413.69" cy="466.72" r="6.3" fill="#F8766D"/><circle cx="537.75" cy="247.41" r="6.3" fill="#619CFF"/><circle cx="460.26" cy="468" r="6.3" fill="#F8766D"/><circle cx="229.77" cy="323.45" r="6.4" fill="none" stroke="#00BA38" stroke-width="1.7"/><circle cx="492.5" cy="413.47" r="6.3" fill="#F8766D"/><circle cx="531.48" cy="395.08" r="6.3" fill="#F8766D"/><circle cx="517.71" cy="467.59" r="6.4" fill="none" stroke="#F8766D" stroke-width="1.7"/><circle cx="511.87" cy="503.99" r="6.4" fill="none" stroke="#F8766D" stroke-width="1.7"/><circle cx="602.37" cy="110.69" r="6.4" fill="none" stroke="#619CFF" stroke-width="1.7"/><circle cx="639.44" cy="452.09" r="6.4" fill="none" stroke="#F8766D" stroke-width="1.7"/><circle cx="578.64" cy="562.58" r="6.4" fill="none" stroke="#F8766D" stroke-width="1.7"/><circle cx="227.03" cy="302.87" r="6.4" fill="none" stroke="#00BA38" stroke-width="1.7"/><circle cx="620.98" cy="492.19" r="6.4" fill="none" stroke="#F8766D" stroke-width="1.7"/><circle cx="605.09" cy="557.86" r="6.4" fill="none" stroke="#F8766D" stroke-width="1.7"/><circle cx="393.13" cy="461.44" r="6.3" fill="#F8766D"/><circle cx="417.18" cy="453.17" r="6.3" fill="#F8766D"/><circle cx="250.62" cy="360.5" r="6.3" fill="#00BA38"/><circle cx="730.26" cy="167.72" r="6.4" fill="none" stroke="#619CFF" stroke-width="1.7"/><circle cx="241.44" cy="305.48" r="6.4" fill="none" stroke="#00BA38" stroke-width="1.7"/><circle cx="238.34" cy="391.83" r="6.3" fill="#00BA38"/><circle cx="292.59" cy="358.45" r="6.3" fill="#00BA38"/><circle cx="240.4" cy="326.27" r="6.4" fill="none" stroke="#00BA38" stroke-width="1.7"/><circle cx="648.15" cy="140.24" r="6.4" fill="none" stroke="#619CFF" stroke-width="1.7"/><circle cx="679.74" cy="125.59" r="6.4" fill="none" stroke="#619CFF" stroke-width="1.7"/><circle cx="689.89" cy="154.4" r="6.4" fill="none" stroke="#619CFF" stroke-width="1.7"/><circle cx="432.5" cy="566.19" r="6.4" fill="none" stroke="#F8766D" stroke-width="1.7"/><circle cx="485.59" cy="516.07" r="6.4" fill="none" stroke="#F8766D" stroke-width="1.7"/><circle cx="338.29" cy="490.62" r="6.3" fill="#F8766D"/><circle cx="370.01" cy="392.31" r="6.3" fill="#F8766D"/><circle cx="655.84" cy="486.99" r="6.4" fill="none" stroke="#F8766D" stroke-width="1.7"/><circle cx="660.63" cy="161.41" r="6.4" fill="none" stroke="#619CFF" stroke-width="1.7"/><circle cx="403.56" cy="475.54" r="6.3" fill="#F8766D"/><circle cx="504.07" cy="236.3" r="6.3" fill="#619CFF"/><circle cx="577.55" cy="515.27" r="6.4" fill="none" stroke="#F8766D" stroke-width="1.7"/><circle cx="608.43" cy="506.24" r="6.4" fill="none" stroke="#F8766D" stroke-width="1.7"/><circle cx="260.96" cy="339.42" r="6.4" fill="none" stroke="#00BA38" stroke-width="1.7"/><circle cx="369.25" cy="529.53" r="6.3" fill="#F8766D"/><circle cx="592.21" cy="555.12" r="6.4" fill="none" stroke="#F8766D" stroke-width="1.7"/><circle cx="315.24" cy="360.72" r="6.3" fill="#00BA38"/><circle cx="329.58" cy="337.97" r="6.3" fill="#00BA38"/><circle cx="559.85" cy="394.11" r="6.3" fill="#F8766D"/><circle cx="442.22" cy="438.11" r="6.3" fill="#F8766D"/><circle cx="462.01" cy="209.26" r="6.3" fill="#619CFF"/><circle cx="280.06" cy="369.48" r="6.3" fill="#00BA38"/><circle cx="448.55" cy="443.72" r="6.3" fill="#F8766D"/><circle cx="254.51" cy="357.49" r="6.3" fill="#00BA38"/><circle cx="195.13" cy="299.56" r="6.4" fill="none" stroke="#00BA38" stroke-width="1.7"/><circle cx="282.64" cy="305.67" r="6.4" fill="none" stroke="#00BA38" stroke-width="1.7"/><circle cx="539.8" cy="224.78" r="6.3" fill="#619CFF"/><circle cx="551.49" cy="527.82" r="6.4" fill="none" stroke="#F8766D" stroke-width="1.7"/><circle cx="562.46" cy="545.55" r="6.4" fill="none" stroke="#F8766D" stroke-width="1.7"/><circle cx="655.31" cy="505.47" r="6.4" fill="none" stroke="#F8766D" stroke-width="1.7"/><circle cx="283.96" cy="312.34" r="6.4" fill="none" stroke="#00BA38" stroke-width="1.7"/><circle cx="653.12" cy="127.34" r="6.4" fill="none" stroke="#619CFF" stroke-width="1.7"/><circle cx="271.39" cy="290.99" r="6.4" fill="none" stroke="#00BA38" stroke-width="1.7"/><circle cx="642.66" cy="503.62" r="6.4" fill="none" stroke="#F8766D" stroke-width="1.7"/><circle cx="510.23" cy="244.11" r="6.3" fill="#619CFF"/><circle cx="424.23" cy="497" r="6.3" fill="#F8766D"/><circle cx="295.31" cy="350.73" r="6.3" fill="#00BA38"/><circle cx="225.01" cy="376.54" r="6.3" fill="#00BA38"/><circle cx="659.15" cy="428" r="6.4" fill="none" stroke="#F8766D" stroke-width="1.7"/><circle cx="238.33" cy="293.24" r="6.4" fill="none" stroke="#00BA38" stroke-width="1.7"/><circle cx="479.9" cy="243.92" r="6.3" fill="#619CFF"/><circle cx="526.59" cy="491.24" r="6.4" fill="none" stroke="#F8766D" stroke-width="1.7"/><circle cx="475.95" cy="422.22" r="6.3" fill="#F8766D"/><circle cx="272.11" cy="301.36" r="6.4" fill="none" stroke="#00BA38" stroke-width="1.7"/><circle cx="518.14" cy="482.35" r="6.4" fill="none" stroke="#F8766D" stroke-width="1.7"/><circle cx="732.09" cy="121.7" r="6.4" fill="none" stroke="#619CFF" stroke-width="1.7"/><circle cx="513.32" cy="471.76" r="6.4" fill="none" stroke="#F8766D" stroke-width="1.7"/><circle cx="202.74" cy="321.18" r="6.4" fill="none" stroke="#00BA38" stroke-width="1.7"/><circle cx="520.15" cy="453.45" r="6.4" fill="none" stroke="#F8766D" stroke-width="1.7"/><circle cx="737.61" cy="490.12" r="6.4" fill="none" stroke="#F8766D" stroke-width="1.7"/><circle cx="520.73" cy="200.32" r="6.3" fill="#619CFF"/><circle cx="250.55" cy="291.44" r="6.4" fill="none" stroke="#00BA38" stroke-width="1.7"/><circle cx="497.54" cy="384.37" r="6.3" fill="#F8766D"/><circle cx="385.62" cy="463.23" r="6.3" fill="#F8766D"/><circle cx="454.6" cy="579.92" r="6.4" fill="none" stroke="#F8766D" stroke-width="1.7"/><circle cx="266.56" cy="284.35" r="6.4" fill="none" stroke="#00BA38" stroke-width="1.7"/><circle cx="674.33" cy="113.95" r="6.4" fill="none" stroke="#619CFF" stroke-width="1.7"/><circle cx="227.69" cy="289.75" r="6.4" fill="none" stroke="#00BA38" stroke-width="1.7"/><circle cx="462.87" cy="461.85" r="6.3" fill="#F8766D"/><circle cx="252.8" cy="361.03" r="6.3" fill="#00BA38"/><circle cx="621.94" cy="172.92" r="6.4" fill="none" stroke="#619CFF" stroke-width="1.7"/><circle cx="451.89" cy="479.38" r="6.3" fill="#F8766D"/><circle cx="394.4" cy="459.2" r="6.3" fill="#F8766D"/><circle cx="330.94" cy="390.16" r="6.3" fill="#00BA38"/><circle cx="658.53" cy="129.48" r="6.4" fill="none" stroke="#619CFF" stroke-width="1.7"/><circle cx="247.29" cy="322.21" r="6.4" fill="none" stroke="#00BA38" stroke-width="1.7"/><circle cx="548.15" cy="506.79" r="6.4" fill="none" stroke="#F8766D" stroke-width="1.7"/><circle cx="672.67" cy="140.91" r="6.4" fill="none" stroke="#619CFF" stroke-width="1.7"/><circle cx="310.74" cy="352.83" r="6.3" fill="#00BA38"/><circle cx="416.46" cy="442.92" r="6.3" fill="#F8766D"/><circle cx="638.36" cy="613.28" r="6.4" fill="none" stroke="#F8766D" stroke-width="1.7"/><circle cx="472.89" cy="455.2" r="6.3" fill="#F8766D"/><circle cx="505.68" cy="542.18" r="6.4" fill="none" stroke="#F8766D" stroke-width="1.7"/><circle cx="299.72" cy="363.44" r="6.3" fill="#00BA38"/><circle cx="219.62" cy="332.03" r="6.4" fill="none" stroke="#00BA38" stroke-width="1.7"/><circle cx="463.96" cy="416.99" r="6.3" fill="#F8766D"/><circle cx="653.08" cy="149.84" r="6.4" fill="none" stroke="#619CFF" stroke-width="1.7"/><circle cx="623.07" cy="156.75" r="6.4" fill="none" stroke="#619CFF" stroke-width="1.7"/><circle cx="671.36" cy="136.33" r="6.4" fill="none" stroke="#619CFF" stroke-width="1.7"/><circle cx="284.52" cy="393.41" r="6.3" fill="#00BA38"/><circle cx="233.76" cy="301.26" r="6.4" fill="none" stroke="#00BA38" stroke-width="1.7"/><circle cx="304.12" cy="368.72" r="6.3" fill="#00BA38"/><circle cx="274.96" cy="327.78" r="6.4" fill="none" stroke="#00BA38" stroke-width="1.7"/><circle cx="493.78" cy="455.58" r="6.3" fill="#F8766D"/><circle cx="300.98" cy="358.88" r="6.3" fill="#00BA38"/><circle cx="605.44" cy="153.15" r="6.4" fill="none" stroke="#619CFF" stroke-width="1.7"/><circle cx="580.95" cy="586.86" r="6.4" fill="none" stroke="#F8766D" stroke-width="1.7"/><circle cx="465.95" cy="470.25" r="6.3" fill="#F8766D"/><circle cx="475.26" cy="437.82" r="6.3" fill="#F8766D"/><circle cx="528.08" cy="203.94" r="6.3" fill="#619CFF"/><circle cx="440.25" cy="453.36" r="6.3" fill="#F8766D"/><circle cx="390.66" cy="477.69" r="6.3" fill="#F8766D"/><circle cx="276.81" cy="357.62" r="6.3" fill="#00BA38"/><circle cx="560.36" cy="546.77" r="6.4" fill="none" stroke="#F8766D" stroke-width="1.7"/><circle cx="218.31" cy="315.92" r="6.4" fill="none" stroke="#00BA38" stroke-width="1.7"/><circle cx="519.87" cy="253.08" r="6.3" fill="#619CFF"/><circle cx="395.16" cy="450.39" r="6.3" fill="#F8766D"/><circle cx="485.24" cy="428.25" r="6.3" fill="#F8766D"/><circle cx="492.98" cy="228.76" r="6.3" fill="#619CFF"/><circle cx="404.33" cy="461.39" r="6.3" fill="#F8766D"/><circle cx="318.06" cy="348.52" r="6.3" fill="#00BA38"/><circle cx="255.71" cy="374.19" r="6.3" fill="#00BA38"/><circle cx="531.76" cy="374.2" r="6.3" fill="#F8766D"/><circle cx="581.17" cy="463.05" r="6.4" fill="none" stroke="#F8766D" stroke-width="1.7"/><circle cx="498.99" cy="510.13" r="6.4" fill="none" stroke="#F8766D" stroke-width="1.7"/><circle cx="555.58" cy="504.26" r="6.4" fill="none" stroke="#F8766D" stroke-width="1.7"/><circle cx="240.47" cy="303.62" r="6.4" fill="none" stroke="#00BA38" stroke-width="1.7"/><circle cx="245.96" cy="286.18" r="6.4" fill="none" stroke="#00BA38" stroke-width="1.7"/><circle cx="443.36" cy="453.17" r="6.3" fill="#F8766D"/><circle cx="478.3" cy="424.63" r="6.3" fill="#F8766D"/><circle cx="336.93" cy="468.38" r="6.3" fill="#F8766D"/><circle cx="306.07" cy="381.58" r="6.3" fill="#00BA38"/><circle cx="526.19" cy="498.38" r="6.4" fill="none" stroke="#F8766D" stroke-width="1.7"/><circle cx="311.78" cy="379.8" r="6.3" fill="#00BA38"/><circle cx="277.54" cy="374.15" r="6.3" fill="#00BA38"/><circle cx="513.98" cy="456.45" r="6.3" fill="#F8766D"/><circle cx="441.73" cy="431.43" r="6.3" fill="#F8766D"/><circle cx="572.49" cy="498.12" r="6.4" fill="none" stroke="#F8766D" stroke-width="1.7"/><circle cx="251.94" cy="320.89" r="6.4" fill="none" stroke="#00BA38" stroke-width="1.7"/><circle cx="256.47" cy="356.59" r="6.3" fill="#00BA38"/><circle cx="625.79" cy="484.2" r="6.4" fill="none" stroke="#F8766D" stroke-width="1.7"/><circle cx="498.26" cy="460.96" r="6.3" fill="#F8766D"/><circle cx="530.59" cy="225.35" r="6.3" fill="#619CFF"/><circle cx="388.64" cy="486.15" r="6.3" fill="#F8766D"/><circle cx="467.1" cy="466.11" r="6.3" fill="#F8766D"/><circle cx="638.33" cy="500.62" r="6.4" fill="none" stroke="#F8766D" stroke-width="1.7"/><circle cx="315.46" cy="295.86" r="6.4" fill="none" stroke="#00BA38" stroke-width="1.7"/><circle cx="524.7" cy="519.45" r="6.4" fill="none" stroke="#F8766D" stroke-width="1.7"/><circle cx="616.51" cy="480.23" r="6.4" fill="none" stroke="#F8766D" stroke-width="1.7"/><circle cx="463.29" cy="465.78" r="6.3" fill="#F8766D"/><circle cx="449.25" cy="574.2" r="6.4" fill="none" stroke="#F8766D" stroke-width="1.7"/><circle cx="253.45" cy="313.06" r="6.4" fill="none" stroke="#00BA38" stroke-width="1.7"/><circle cx="461.85" cy="463.74" r="6.3" fill="#F8766D"/><circle cx="512.28" cy="247.02" r="6.3" fill="#619CFF"/><circle cx="427.7" cy="446.39" r="6.3" fill="#F8766D"/><circle cx="287.99" cy="318.21" r="6.4" fill="none" stroke="#00BA38" stroke-width="1.7"/><circle cx="246.64" cy="306.32" r="6.4" fill="none" stroke="#00BA38" stroke-width="1.7"/><circle cx="284.47" cy="335.98" r="6.4" fill="none" stroke="#00BA38" stroke-width="1.7"/><circle cx="473.38" cy="521.79" r="6.4" fill="none" stroke="#F8766D" stroke-width="1.7"/><circle cx="303.67" cy="293.9" r="6.4" fill="none" stroke="#00BA38" stroke-width="1.7"/><circle cx="495.38" cy="222.41" r="6.3" fill="#619CFF"/><circle cx="298.62" cy="294.71" r="6.4" fill="none" stroke="#00BA38" stroke-width="1.7"/><circle cx="264.46" cy="297.16" r="6.4" fill="none" stroke="#00BA38" stroke-width="1.7"/><circle cx="340.6" cy="312.62" r="6.4" fill="none" stroke="#00BA38" stroke-width="1.7"/><circle cx="307.99" cy="302.04" r="6.4" fill="none" stroke="#00BA38" stroke-width="1.7"/><circle cx="703.78" cy="127.55" r="6.4" fill="none" stroke="#619CFF" stroke-width="1.7"/><circle cx="679.29" cy="120.89" r="6.4" fill="none" stroke="#619CFF" stroke-width="1.7"/><circle cx="640.27" cy="137.29" r="6.4" fill="none" stroke="#619CFF" stroke-width="1.7"/><circle cx="432.01" cy="411.08" r="6.3" fill="#F8766D"/><circle cx="668.67" cy="131.85" r="6.4" fill="none" stroke="#619CFF" stroke-width="1.7"/><circle cx="214.15" cy="358.99" r="6.3" fill="#00BA38"/><circle cx="434.11" cy="434.13" r="6.3" fill="#F8766D"/><circle cx="269.88" cy="322.92" r="6.4" fill="none" stroke="#00BA38" stroke-width="1.7"/><circle cx="288.44" cy="352.23" r="6.3" fill="#00BA38"/><circle cx="647.76" cy="131.9" r="6.4" fill="none" stroke="#619CFF" stroke-width="1.7"/><circle cx="323.82" cy="336.54" r="6.3" fill="#00BA38"/><circle cx="264.77" cy="295.41" r="6.4" fill="none" stroke="#00BA38" stroke-width="1.7"/><circle cx="407.51" cy="471.88" r="6.3" fill="#F8766D"/><circle cx="593.1" cy="512.32" r="6.4" fill="none" stroke="#F8766D" stroke-width="1.7"/><circle cx="663.72" cy="468.59" r="6.4" fill="none" stroke="#F8766D" stroke-width="1.7"/><circle cx="457.17" cy="433.77" r="6.3" fill="#F8766D"/><circle cx="544.54" cy="571.28" r="6.4" fill="none" stroke="#F8766D" stroke-width="1.7"/><circle cx="450.88" cy="580.68" r="6.4" fill="none" stroke="#F8766D" stroke-width="1.7"/><circle cx="342.99" cy="484.57" r="6.3" fill="#F8766D"/><circle cx="431.17" cy="434.6" r="6.3" fill="#F8766D"/><circle cx="222.01" cy="311.52" r="6.4" fill="none" stroke="#00BA38" stroke-width="1.7"/><circle cx="517.73" cy="472.69" r="6.3" fill="#F8766D"/><circle cx="316.81" cy="385.98" r="6.3" fill="#00BA38"/><circle cx="471.44" cy="413.12" r="6.3" fill="#F8766D"/><circle cx="421.83" cy="459.79" r="6.3" fill="#F8766D"/><circle cx="472.91" cy="439.26" r="6.3" fill="#F8766D"/><circle cx="244.65" cy="375.55" r="6.3" fill="#00BA38"/><circle cx="555.19" cy="474.06" r="6.4" fill="none" stroke="#F8766D" stroke-width="1.7"/><circle cx="649.94" cy="150.19" r="6.4" fill="none" stroke="#619CFF" stroke-width="1.7"/><circle cx="535.95" cy="487.55" r="6.4" fill="none" stroke="#F8766D" stroke-width="1.7"/><circle cx="227.99" cy="313.19" r="6.4" fill="none" stroke="#00BA38" stroke-width="1.7"/><circle cx="500.35" cy="213.35" r="6.3" fill="#619CFF"/><circle cx="477.01" cy="405.18" r="6.3" fill="#F8766D"/><circle cx="459.44" cy="456.95" r="6.3" fill="#F8766D"/><circle cx="257.97" cy="309.55" r="6.4" fill="none" stroke="#00BA38" stroke-width="1.7"/><circle cx="285.66" cy="354.56" r="6.3" fill="#00BA38"/><circle cx="517.19" cy="599.96" r="6.4" fill="none" stroke="#F8766D" stroke-width="1.7"/><circle cx="662.46" cy="125.49" r="6.4" fill="none" stroke="#619CFF" stroke-width="1.7"/><circle cx="492.49" cy="559.79" r="6.4" fill="none" stroke="#F8766D" stroke-width="1.7"/><circle cx="637.55" cy="112.27" r="6.4" fill="none" stroke="#619CFF" stroke-width="1.7"/><circle cx="410.76" cy="435.91" r="6.3" fill="#F8766D"/><circle cx="628.07" cy="109.39" r="6.4" fill="none" stroke="#619CFF" stroke-width="1.7"/><circle cx="434.49" cy="426.06" r="6.3" fill="#F8766D"/><circle cx="419.44" cy="444.57" r="6.3" fill="#F8766D"/><circle cx="625.56" cy="588.34" r="6.4" fill="none" stroke="#F8766D" stroke-width="1.7"/><circle cx="498.98" cy="244.47" r="6.3" fill="#619CFF"/><circle cx="508.87" cy="212.26" r="6.3" fill="#619CFF"/><circle cx="628.58" cy="124.82" r="6.4" fill="none" stroke="#619CFF" stroke-width="1.7"/><circle cx="504.88" cy="223.63" r="6.3" fill="#619CFF"/><circle cx="433.63" cy="502.74" r="6.3" fill="#F8766D"/><circle cx="549.18" cy="441.35" r="6.4" fill="none" stroke="#F8766D" stroke-width="1.7"/><circle cx="220.88" cy="320.38" r="6.4" fill="none" stroke="#00BA38" stroke-width="1.7"/><circle cx="348.76" cy="510.46" r="6.3" fill="#F8766D"/><circle cx="363.38" cy="488.62" r="6.3" fill="#F8766D"/><circle cx="231.3" cy="322.5" r="6.4" fill="none" stroke="#00BA38" stroke-width="1.7"/><circle cx="542.91" cy="226.79" r="6.3" fill="#619CFF"/><circle cx="302.31" cy="398.62" r="6.3" fill="#00BA38"/><circle cx="711.88" cy="515.48" r="6.4" fill="none" stroke="#F8766D" stroke-width="1.7"/><circle cx="562.79" cy="500.75" r="6.4" fill="none" stroke="#F8766D" stroke-width="1.7"/><circle cx="445.74" cy="478.42" r="6.3" fill="#F8766D"/><circle cx="463.29" cy="436.03" r="6.3" fill="#F8766D"/><circle cx="610.81" cy="485.62" r="6.4" fill="none" stroke="#F8766D" stroke-width="1.7"/><circle cx="533.78" cy="236.89" r="6.3" fill="#619CFF"/><circle cx="584.54" cy="461.58" r="6.4" fill="none" stroke="#F8766D" stroke-width="1.7"/><circle cx="642.97" cy="119.09" r="6.4" fill="none" stroke="#619CFF" stroke-width="1.7"/><circle cx="503.18" cy="227.55" r="6.3" fill="#619CFF"/><circle cx="465.01" cy="476.08" r="6.3" fill="#F8766D"/><circle cx="415.41" cy="480.07" r="6.3" fill="#F8766D"/><circle cx="281.42" cy="336.64" r="6.3" fill="#00BA38"/><circle cx="406.52" cy="421.54" r="6.3" fill="#F8766D"/><circle cx="502.54" cy="228.54" r="6.3" fill="#619CFF"/><circle cx="348.4" cy="503.41" r="6.3" fill="#F8766D"/><circle cx="639.62" cy="137.19" r="6.4" fill="none" stroke="#619CFF" stroke-width="1.7"/><circle cx="430.26" cy="492.89" r="6.3" fill="#F8766D"/><circle cx="527.87" cy="520.05" r="6.4" fill="none" stroke="#F8766D" stroke-width="1.7"/><circle cx="244.21" cy="328.92" r="6.4" fill="none" stroke="#00BA38" stroke-width="1.7"/><circle cx="322.46" cy="358.16" r="6.3" fill="#00BA38"/><circle cx="582.61" cy="568.05" r="6.4" fill="none" stroke="#F8766D" stroke-width="1.7"/><circle cx="558.9" cy="527.13" r="6.4" fill="none" stroke="#F8766D" stroke-width="1.7"/><circle cx="593.61" cy="140.24" r="6.4" fill="none" stroke="#619CFF" stroke-width="1.7"/><circle cx="486.49" cy="425.19" r="6.3" fill="#F8766D"/><circle cx="617.73" cy="511.57" r="6.4" fill="none" stroke="#F8766D" stroke-width="1.7"/><circle cx="307.67" cy="367.04" r="6.3" fill="#00BA38"/><circle cx="513.05" cy="495.22" r="6.4" fill="none" stroke="#F8766D" stroke-width="1.7"/><circle cx="211.59" cy="318.74" r="6.4" fill="none" stroke="#00BA38" stroke-width="1.7"/><circle cx="499.77" cy="228.32" r="6.3" fill="#619CFF"/><circle cx="552.81" cy="507.2" r="6.4" fill="none" stroke="#F8766D" stroke-width="1.7"/><circle cx="257.29" cy="386.38" r="6.3" fill="#00BA38"/><circle cx="572.43" cy="565.79" r="6.4" fill="none" stroke="#F8766D" stroke-width="1.7"/><circle cx="489.01" cy="448.55" r="6.3" fill="#F8766D"/><circle cx="328.52" cy="382.83" r="6.3" fill="#00BA38"/><circle cx="289.02" cy="340.24" r="6.3" fill="#00BA38"/><circle cx="259.39" cy="383.49" r="6.3" fill="#00BA38"/><circle cx="588.81" cy="534.05" r="6.4" fill="none" stroke="#F8766D" stroke-width="1.7"/><circle cx="297.01" cy="340.48" r="6.3" fill="#00BA38"/><circle cx="282.44" cy="379" r="6.3" fill="#00BA38"/><circle cx="255.89" cy="333.85" r="6.4" fill="none" stroke="#00BA38" stroke-width="1.7"/><circle cx="428.28" cy="397.44" r="6.3" fill="#F8766D"/><circle cx="259.69" cy="307.29" r="6.4" fill="none" stroke="#00BA38" stroke-width="1.7"/><circle cx="511.79" cy="230.31" r="6.3" fill="#619CFF"/><circle cx="598.33" cy="529.43" r="6.4" fill="none" stroke="#F8766D" stroke-width="1.7"/><circle cx="597.3" cy="518.26" r="6.4" fill="none" stroke="#F8766D" stroke-width="1.7"/><circle cx="613.11" cy="477.99" r="6.4" fill="none" stroke="#F8766D" stroke-width="1.7"/><circle cx="284.95" cy="286.53" r="6.4" fill="none" stroke="#00BA38" stroke-width="1.7"/><circle cx="416.62" cy="462.77" r="6.3" fill="#F8766D"/><circle cx="260.9" cy="367.52" r="6.3" fill="#00BA38"/><circle cx="439.87" cy="489.87" r="6.3" fill="#F8766D"/><circle cx="224.53" cy="347.91" r="6.4" fill="none" stroke="#00BA38" stroke-width="1.7"/><circle cx="499.96" cy="219.48" r="6.3" fill="#619CFF"/><circle cx="479.57" cy="378.12" r="6.3" fill="#F8766D"/><circle cx="680.24" cy="444.7" r="6.4" fill="none" stroke="#F8766D" stroke-width="1.7"/><circle cx="298.33" cy="262.63" r="6.4" fill="none" stroke="#00BA38" stroke-width="1.7"/><circle cx="433.92" cy="440.34" r="6.3" fill="#F8766D"/><circle cx="482.59" cy="387.17" r="6.3" fill="#F8766D"/><circle cx="451.11" cy="418.51" r="6.3" fill="#F8766D"/><circle cx="283.57" cy="358.87" r="6.3" fill="#00BA38"/><circle cx="266.42" cy="322.62" r="6.4" fill="none" stroke="#00BA38" stroke-width="1.7"/><circle cx="266.29" cy="394.9" r="6.3" fill="#00BA38"/><circle cx="408.77" cy="485.32" r="6.3" fill="#F8766D"/><circle cx="274.47" cy="394.76" r="6.3" fill="#00BA38"/><circle cx="284.49" cy="317.3" r="6.4" fill="none" stroke="#00BA38" stroke-width="1.7"/><circle cx="678.4" cy="146.75" r="6.4" fill="none" stroke="#619CFF" stroke-width="1.7"/><circle cx="596.56" cy="488.39" r="6.4" fill="none" stroke="#F8766D" stroke-width="1.7"/><circle cx="224.44" cy="398.63" r="6.3" fill="#00BA38"/><circle cx="241.93" cy="332.34" r="6.4" fill="none" stroke="#00BA38" stroke-width="1.7"/><circle cx="285.81" cy="328.36" r="6.4" fill="none" stroke="#00BA38" stroke-width="1.7"/><circle cx="264.69" cy="391.17" r="6.3" fill="#00BA38"/><circle cx="553.13" cy="498.26" r="6.4" fill="none" stroke="#F8766D" stroke-width="1.7"/><circle cx="289.01" cy="367.07" r="6.3" fill="#00BA38"/><circle cx="596.62" cy="454.26" r="6.4" fill="none" stroke="#F8766D" stroke-width="1.7"/><circle cx="196.48" cy="326.92" r="6.4" fill="none" stroke="#00BA38" stroke-width="1.7"/><circle cx="510.66" cy="238.11" r="6.3" fill="#619CFF"/><circle cx="491.1" cy="439.76" r="6.3" fill="#F8766D"/><circle cx="425.53" cy="499.43" r="6.3" fill="#F8766D"/><circle cx="533.66" cy="519.62" r="6.4" fill="none" stroke="#F8766D" stroke-width="1.7"/><circle cx="674.84" cy="429.63" r="6.4" fill="none" stroke="#F8766D" stroke-width="1.7"/><circle cx="511.21" cy="206.33" r="6.3" fill="#619CFF"/><circle cx="443.03" cy="484.71" r="6.3" fill="#F8766D"/><circle cx="440.12" cy="442.69" r="6.3" fill="#F8766D"/><circle cx="286.1" cy="356.76" r="6.3" fill="#00BA38"/><circle cx="560.21" cy="479.78" r="6.4" fill="none" stroke="#F8766D" stroke-width="1.7"/><circle cx="398.11" cy="432.23" r="6.3" fill="#F8766D"/><circle cx="563.77" cy="559.48" r="6.4" fill="none" stroke="#F8766D" stroke-width="1.7"/><circle cx="513.6" cy="428.13" r="6.3" fill="#F8766D"/><circle cx="474.3" cy="524.17" r="6.4" fill="none" stroke="#F8766D" stroke-width="1.7"/><circle cx="439.43" cy="506.43" r="6.3" fill="#F8766D"/><circle cx="578.29" cy="531.96" r="6.4" fill="none" stroke="#F8766D" stroke-width="1.7"/><circle cx="432.89" cy="485.15" r="6.3" fill="#F8766D"/><circle cx="584.3" cy="442.25" r="6.4" fill="none" stroke="#F8766D" stroke-width="1.7"/><circle cx="476.79" cy="437.63" r="6.3" fill="#F8766D"/><circle cx="255.72" cy="374.19" r="6.3" fill="#00BA38"/><circle cx="712.3" cy="151.24" r="6.4" fill="none" stroke="#619CFF" stroke-width="1.7"/><circle cx="246.62" cy="387.25" r="6.3" fill="#00BA38"/><circle cx="279.55" cy="372.9" r="6.3" fill="#00BA38"/><circle cx="752.32" cy="149.6" r="6.4" fill="none" stroke="#619CFF" stroke-width="1.7"/><circle cx="256.99" cy="362.61" r="6.3" fill="#00BA38"/><circle cx="494.2" cy="412.83" r="6.3" fill="#F8766D"/><circle cx="479.58" cy="229.46" r="6.3" fill="#619CFF"/><circle cx="638.94" cy="555.17" r="6.4" fill="none" stroke="#F8766D" stroke-width="1.7"/><circle cx="582" cy="532.04" r="6.4" fill="none" stroke="#F8766D" stroke-width="1.7"/><circle cx="501.78" cy="422.2" r="6.3" fill="#F8766D"/><circle cx="499.33" cy="409.06" r="6.3" fill="#F8766D"/><circle cx="483.24" cy="226.14" r="6.3" fill="#619CFF"/><circle cx="246.06" cy="314.98" r="6.4" fill="none" stroke="#00BA38" stroke-width="1.7"/><circle cx="459.18" cy="511.95" r="6.4" fill="none" stroke="#F8766D" stroke-width="1.7"/><circle cx="478.39" cy="402.48" r="6.3" fill="#F8766D"/><circle cx="558.79" cy="449.6" r="6.4" fill="none" stroke="#F8766D" stroke-width="1.7"/><circle cx="234.5" cy="311.18" r="6.4" fill="none" stroke="#00BA38" stroke-width="1.7"/><circle cx="303.42" cy="339.89" r="6.3" fill="#00BA38"/><circle cx="198.16" cy="306.75" r="6.4" fill="none" stroke="#00BA38" stroke-width="1.7"/><circle cx="488.58" cy="437.32" r="6.3" fill="#F8766D"/><circle cx="450.41" cy="443.55" r="6.3" fill="#F8766D"/><circle cx="548.91" cy="558.29" r="6.4" fill="none" stroke="#F8766D" stroke-width="1.7"/><circle cx="474.99" cy="415.78" r="6.3" fill="#F8766D"/><circle cx="627.32" cy="119.6" r="6.4" fill="none" stroke="#619CFF" stroke-width="1.7"/><circle cx="530.91" cy="431.82" r="6.3" fill="#F8766D"/><circle cx="422.35" cy="563.01" r="6.4" fill="none" stroke="#F8766D" stroke-width="1.7"/><circle cx="272.57" cy="319.03" r="6.4" fill="none" stroke="#00BA38" stroke-width="1.7"/><circle cx="262.89" cy="323.11" r="6.4" fill="none" stroke="#00BA38" stroke-width="1.7"/><circle cx="484.99" cy="230.01" r="6.3" fill="#619CFF"/><circle cx="281.64" cy="365.83" r="6.3" fill="#00BA38"/><circle cx="623.48" cy="163.37" r="6.4" fill="none" stroke="#619CFF" stroke-width="1.7"/><circle cx="590.13" cy="479.41" r="6.4" fill="none" stroke="#F8766D" stroke-width="1.7"/><circle cx="494.53" cy="468.91" r="6.3" fill="#F8766D"/><circle cx="290.98" cy="270.23" r="6.4" fill="none" stroke="#00BA38" stroke-width="1.7"/><circle cx="632.89" cy="469.56" r="6.4" fill="none" stroke="#F8766D" stroke-width="1.7"/><circle cx="258.05" cy="365.74" r="6.3" fill="#00BA38"/><circle cx="474.67" cy="416.87" r="6.3" fill="#F8766D"/><circle cx="586.99" cy="515.7" r="6.4" fill="none" stroke="#F8766D" stroke-width="1.7"/><circle cx="271.86" cy="416.95" r="6.3" fill="#00BA38"/><circle cx="586.54" cy="580.72" r="6.4" fill="none" stroke="#F8766D" stroke-width="1.7"/><circle cx="555.72" cy="564.09" r="6.4" fill="none" stroke="#F8766D" stroke-width="1.7"/><circle cx="268.24" cy="316.53" r="6.4" fill="none" stroke="#00BA38" stroke-width="1.7"/><circle cx="261.47" cy="313.95" r="6.4" fill="none" stroke="#00BA38" stroke-width="1.7"/><circle cx="332.16" cy="358.48" r="6.3" fill="#00BA38"/><circle cx="631.55" cy="145.33" r="6.4" fill="none" stroke="#619CFF" stroke-width="1.7"/><circle cx="405.36" cy="471.32" r="6.3" fill="#F8766D"/><circle cx="498.89" cy="227.84" r="6.3" fill="#619CFF"/><circle cx="310.02" cy="320.56" r="6.4" fill="none" stroke="#00BA38" stroke-width="1.7"/><circle cx="594.84" cy="564.64" r="6.4" fill="none" stroke="#F8766D" stroke-width="1.7"/><circle cx="409.12" cy="480.11" r="6.3" fill="#F8766D"/><circle cx="581.33" cy="500.46" r="6.4" fill="none" stroke="#F8766D" stroke-width="1.7"/><circle cx="299.02" cy="365.73" r="6.3" fill="#00BA38"/><circle cx="436.08" cy="472.92" r="6.3" fill="#F8766D"/><circle cx="266.06" cy="317.12" r="6.4" fill="none" stroke="#00BA38" stroke-width="1.7"/><circle cx="398.87" cy="508.74" r="6.3" fill="#F8766D"/><circle cx="276.9" cy="377.88" r="6.3" fill="#00BA38"/>
<line x1="252.38" y1="314.43" x2="661.52" y2="136.56" stroke="#666666" stroke-width="2.6"/>
<line x1="661.52" y1="136.56" x2="553.81" y2="511.86" stroke="#666666" stroke-width="2.6"/>
<line x1="553.81" y1="511.86" x2="252.38" y2="314.43" stroke="#666666" stroke-width="2.6"/>
<line x1="272.6" y1="365.14" x2="512.27" y2="230.39" stroke="#666666" stroke-width="2.6"/>
<line x1="512.27" y1="230.39" x2="443.53" y2="457.52" stroke="#666666" stroke-width="2.6"/>
<line x1="443.53" y1="457.52" x2="272.6" y2="365.14" stroke="#666666" stroke-width="2.6"/>
<circle cx="553.81" cy="511.86" r="10.6" fill="#999999" stroke="#000" stroke-width="1.3"/>
<circle cx="443.53" cy="457.52" r="10.6" fill="#999999" stroke="#000" stroke-width="1.3"/>
<circle cx="252.38" cy="314.43" r="10.6" fill="#999999" stroke="#000" stroke-width="1.3"/>
<circle cx="272.6" cy="365.14" r="10.6" fill="#999999" stroke="#000" stroke-width="1.3"/>
<circle cx="661.52" cy="136.56" r="10.6" fill="#999999" stroke="#000" stroke-width="1.3"/>
<circle cx="512.27" cy="230.39" r="10.6" fill="#999999" stroke="#000" stroke-width="1.3"/>
</g>
<rect x="160.5" y="56.6" width="630.1" height="607" fill="none" stroke="#B3B3B3" stroke-width="1.6"/>
<line x1="234" y1="663.6" x2="234" y2="678.6" stroke="#B3B3B3" stroke-width="1.4"/>
<line x1="417.8" y1="663.6" x2="417.8" y2="678.6" stroke="#B3B3B3" stroke-width="1.4"/>
<line x1="601.6" y1="663.6" x2="601.6" y2="678.6" stroke="#B3B3B3" stroke-width="1.4"/>
<line x1="785.4" y1="663.6" x2="785.4" y2="678.6" stroke="#B3B3B3" stroke-width="1.4"/>
<line x1="145.5" y1="519.1" x2="160.5" y2="519.1" stroke="#B3B3B3" stroke-width="1.4"/>
<line x1="145.5" y1="374.2" x2="160.5" y2="374.2" stroke="#B3B3B3" stroke-width="1.4"/>
<line x1="145.5" y1="229.3" x2="160.5" y2="229.3" stroke="#B3B3B3" stroke-width="1.4"/>
<line x1="145.5" y1="84.4" x2="160.5" y2="84.4" stroke="#B3B3B3" stroke-width="1.4"/>
<text transform="translate(234 711.5) scale(1 1.04)" font-size="36.5" fill="#4D4D4D" text-anchor="middle">-50</text>
<text transform="translate(417.8 711.5) scale(1 1.04)" font-size="36.5" fill="#4D4D4D" text-anchor="middle">0</text>
<text transform="translate(601.6 711.5) scale(1 1.04)" font-size="36.5" fill="#4D4D4D" text-anchor="middle">50</text>
<text transform="translate(785.4 711.5) scale(1 1.04)" font-size="36.5" fill="#4D4D4D" text-anchor="middle">100</text>
<text transform="translate(139.62 532.58) scale(1 1.04)" font-size="36.5" fill="#4D4D4D" text-anchor="end">-40</text>
<text transform="translate(139.62 387.68) scale(1 1.04)" font-size="36.5" fill="#4D4D4D" text-anchor="end">0</text>
<text transform="translate(139.62 242.78) scale(1 1.04)" font-size="36.5" fill="#4D4D4D" text-anchor="end">40</text>
<text transform="translate(139.62 97.88) scale(1 1.04)" font-size="36.5" fill="#4D4D4D" text-anchor="end">80</text>
<text transform="translate(475.55 760.8) scale(1 1.04)" font-size="47.3" fill="#000" text-anchor="middle">PC1 (6.738%)</text>
<text transform="translate(69.3 360.1) rotate(-90) scale(1 1.04)" font-size="46.5" fill="#000" text-anchor="middle">PC2 (4.356%)</text>
<text transform="translate(835.9 203.9) scale(1 1.04)" font-size="28.7" fill="#000" text-anchor="start">type</text>
<circle cx="857.2" cy="243.2" r="6.6" fill="#000"/>
<circle cx="857.2" cy="288" r="6" fill="none" stroke="#000" stroke-width="1.4"/>
<text transform="translate(895 251.6) scale(1 1.04)" font-size="23.1" fill="#000" text-anchor="start">Original</text>
<text transform="translate(895 296) scale(1 1.04)" font-size="23.1" fill="#000" text-anchor="start">PC123 Adjusted</text>
<text transform="translate(835.9 390.4) scale(1 1.04)" font-size="28.7" fill="#000" text-anchor="start">tissuetype</text>
<circle cx="857.2" cy="429.7" r="7" fill="#F8766D"/>
<text transform="translate(895 437.3) scale(1 1.04)" font-size="23.1" fill="#000" text-anchor="start">RHZ</text>
<circle cx="857.2" cy="474" r="7" fill="#00BA38"/>
<text transform="translate(895 482) scale(1 1.04)" font-size="23.1" fill="#000" text-anchor="start">Root</text>
<circle cx="857.2" cy="518.8" r="7" fill="#619CFF"/>
<text transform="translate(895 526.3) scale(1 1.04)" font-size="23.1" fill="#000" text-anchor="start">Soil</text>
<line x1="1263" y1="512.01" x2="1477.8" y2="512.01" stroke="#EBEBEB" stroke-width="1"/>
<line x1="1263" y1="404.84" x2="1477.8" y2="404.84" stroke="#EBEBEB" stroke-width="1"/>
<line x1="1263" y1="297.66" x2="1477.8" y2="297.66" stroke="#EBEBEB" stroke-width="1"/>
<line x1="1263" y1="190.49" x2="1477.8" y2="190.49" stroke="#EBEBEB" stroke-width="1"/>
<line x1="1263" y1="565.6" x2="1477.8" y2="565.6" stroke="#EBEBEB" stroke-width="1.8"/>
<line x1="1263" y1="458.43" x2="1477.8" y2="458.43" stroke="#EBEBEB" stroke-width="1.8"/>
<line x1="1263" y1="351.25" x2="1477.8" y2="351.25" stroke="#EBEBEB" stroke-width="1.8"/>
<line x1="1263" y1="244.08" x2="1477.8" y2="244.08" stroke="#EBEBEB" stroke-width="1.8"/>
<line x1="1263" y1="136.9" x2="1477.8" y2="136.9" stroke="#EBEBEB" stroke-width="1.8"/>
<line x1="1321.58" y1="117" x2="1321.58" y2="586" stroke="#EBEBEB" stroke-width="1.8"/>
<line x1="1419.22" y1="117" x2="1419.22" y2="586" stroke="#EBEBEB" stroke-width="1.8"/>
<rect x="1277.18" y="136.9" width="88.8" height="357.96" fill="#999999"/>
<rect x="1277.18" y="494.86" width="88.8" height="7.29" fill="#3D3DC4"/>
<rect x="1277.18" y="502.15" width="88.8" height="35.75" fill="#FFA500"/>
<rect x="1277.18" y="537.91" width="88.8" height="27.69" fill="#A020F0"/>
<line x1="1321.58" y1="586" x2="1321.58" y2="600" stroke="#333333" stroke-width="1.8"/>
<rect x="1374.82" y="136.9" width="88.8" height="359.89" fill="#999999"/>
<rect x="1374.82" y="496.79" width="88.8" height="7.07" fill="#3D3DC4"/>
<rect x="1374.82" y="503.87" width="88.8" height="35.15" fill="#FFA500"/>
<rect x="1374.82" y="539.02" width="88.8" height="26.58" fill="#A020F0"/>
<line x1="1419.22" y1="586" x2="1419.22" y2="600" stroke="#333333" stroke-width="1.8"/>
<rect x="1263" y="117.0" width="214.8" height="469" fill="none" stroke="#8F8F8F" stroke-width="1.8"/>
<rect x="1263" y="61.5" width="214.8" height="53" fill="#7F7F7F" stroke="#333333" stroke-width="1.5"/>
<text transform="translate(1370.4 101.1) scale(1 1.04)" font-size="34" fill="#FFFFFF" text-anchor="middle">Root</text>
<text transform="translate(1338.58 624) rotate(-45) scale(1 1.04)" font-size="34" fill="#4D4D4D" text-anchor="end">Original</text>
<text transform="translate(1436.22 624) rotate(-45) scale(1 1.04)" font-size="34" fill="#4D4D4D" text-anchor="end">PC123 Adjusted</text>
<line x1="1493.4" y1="512.01" x2="1708.8" y2="512.01" stroke="#EBEBEB" stroke-width="1"/>
<line x1="1493.4" y1="404.84" x2="1708.8" y2="404.84" stroke="#EBEBEB" stroke-width="1"/>
<line x1="1493.4" y1="297.66" x2="1708.8" y2="297.66" stroke="#EBEBEB" stroke-width="1"/>
<line x1="1493.4" y1="190.49" x2="1708.8" y2="190.49" stroke="#EBEBEB" stroke-width="1"/>
<line x1="1493.4" y1="565.6" x2="1708.8" y2="565.6" stroke="#EBEBEB" stroke-width="1.8"/>
<line x1="1493.4" y1="458.43" x2="1708.8" y2="458.43" stroke="#EBEBEB" stroke-width="1.8"/>
<line x1="1493.4" y1="351.25" x2="1708.8" y2="351.25" stroke="#EBEBEB" stroke-width="1.8"/>
<line x1="1493.4" y1="244.08" x2="1708.8" y2="244.08" stroke="#EBEBEB" stroke-width="1.8"/>
<line x1="1493.4" y1="136.9" x2="1708.8" y2="136.9" stroke="#EBEBEB" stroke-width="1.8"/>
<line x1="1552.15" y1="117" x2="1552.15" y2="586" stroke="#EBEBEB" stroke-width="1.8"/>
<line x1="1650.05" y1="117" x2="1650.05" y2="586" stroke="#EBEBEB" stroke-width="1.8"/>
<rect x="1507.75" y="136.9" width="88.8" height="359.68" fill="#999999"/>
<rect x="1507.75" y="496.58" width="88.8" height="15.43" fill="#3D3DC4"/>
<rect x="1507.75" y="512.01" width="88.8" height="32.58" fill="#FFA500"/>
<rect x="1507.75" y="544.59" width="88.8" height="21.01" fill="#A020F0"/>
<line x1="1552.15" y1="586" x2="1552.15" y2="600" stroke="#333333" stroke-width="1.8"/>
<rect x="1605.65" y="136.9" width="88.8" height="348.1" fill="#999999"/>
<rect x="1605.65" y="485" width="88.8" height="17.15" fill="#3D3DC4"/>
<rect x="1605.65" y="502.15" width="88.8" height="39.87" fill="#FFA500"/>
<rect x="1605.65" y="542.02" width="88.8" height="23.58" fill="#A020F0"/>
<line x1="1650.05" y1="586" x2="1650.05" y2="600" stroke="#333333" stroke-width="1.8"/>
<rect x="1493.4" y="117.0" width="215.4" height="469" fill="none" stroke="#8F8F8F" stroke-width="1.8"/>
<rect x="1493.4" y="61.5" width="215.4" height="53" fill="#7F7F7F" stroke="#333333" stroke-width="1.5"/>
<text transform="translate(1601.1 101.1) scale(1 1.04)" font-size="34" fill="#FFFFFF" text-anchor="middle">RHZ</text>
<text transform="translate(1569.15 624) rotate(-45) scale(1 1.04)" font-size="34" fill="#4D4D4D" text-anchor="end">Original</text>
<text transform="translate(1667.05 624) rotate(-45) scale(1 1.04)" font-size="34" fill="#4D4D4D" text-anchor="end">PC123 Adjusted</text>
<line x1="1723.9" y1="512.01" x2="1939.6" y2="512.01" stroke="#EBEBEB" stroke-width="1"/>
<line x1="1723.9" y1="404.84" x2="1939.6" y2="404.84" stroke="#EBEBEB" stroke-width="1"/>
<line x1="1723.9" y1="297.66" x2="1939.6" y2="297.66" stroke="#EBEBEB" stroke-width="1"/>
<line x1="1723.9" y1="190.49" x2="1939.6" y2="190.49" stroke="#EBEBEB" stroke-width="1"/>
<line x1="1723.9" y1="565.6" x2="1939.6" y2="565.6" stroke="#EBEBEB" stroke-width="1.8"/>
<line x1="1723.9" y1="458.43" x2="1939.6" y2="458.43" stroke="#EBEBEB" stroke-width="1.8"/>
<line x1="1723.9" y1="351.25" x2="1939.6" y2="351.25" stroke="#EBEBEB" stroke-width="1.8"/>
<line x1="1723.9" y1="244.08" x2="1939.6" y2="244.08" stroke="#EBEBEB" stroke-width="1.8"/>
<line x1="1723.9" y1="136.9" x2="1939.6" y2="136.9" stroke="#EBEBEB" stroke-width="1.8"/>
<line x1="1782.73" y1="117" x2="1782.73" y2="586" stroke="#EBEBEB" stroke-width="1.8"/>
<line x1="1880.77" y1="117" x2="1880.77" y2="586" stroke="#EBEBEB" stroke-width="1.8"/>
<rect x="1738.33" y="136.9" width="88.8" height="368.68" fill="#999999"/>
<rect x="1738.33" y="505.58" width="88.8" height="4.72" fill="#3D3DC4"/>
<rect x="1738.33" y="510.3" width="88.8" height="34.51" fill="#FFA500"/>
<rect x="1738.33" y="544.81" width="88.8" height="20.79" fill="#A020F0"/>
<line x1="1782.73" y1="586" x2="1782.73" y2="600" stroke="#333333" stroke-width="1.8"/>
<rect x="1836.37" y="136.9" width="88.8" height="361.82" fill="#999999"/>
<rect x="1836.37" y="498.72" width="88.8" height="6" fill="#3D3DC4"/>
<rect x="1836.37" y="504.72" width="88.8" height="37.73" fill="#FFA500"/>
<rect x="1836.37" y="542.45" width="88.8" height="23.15" fill="#A020F0"/>
<line x1="1880.77" y1="586" x2="1880.77" y2="600" stroke="#333333" stroke-width="1.8"/>
<rect x="1723.9" y="117.0" width="215.7" height="469" fill="none" stroke="#8F8F8F" stroke-width="1.8"/>
<rect x="1723.9" y="61.5" width="215.7" height="53" fill="#7F7F7F" stroke="#333333" stroke-width="1.5"/>
<text transform="translate(1831.75 101.1) scale(1 1.04)" font-size="34" fill="#FFFFFF" text-anchor="middle">Soil</text>
<text transform="translate(1799.73 624) rotate(-45) scale(1 1.04)" font-size="34" fill="#4D4D4D" text-anchor="end">Original</text>
<text transform="translate(1897.77 624) rotate(-45) scale(1 1.04)" font-size="34" fill="#4D4D4D" text-anchor="end">PC123 Adjusted</text>
<line x1="1248" y1="565.6" x2="1263" y2="565.6" stroke="#333333" stroke-width="1.8"/>
<line x1="1248" y1="458.43" x2="1263" y2="458.43" stroke="#333333" stroke-width="1.8"/>
<line x1="1248" y1="351.25" x2="1263" y2="351.25" stroke="#333333" stroke-width="1.8"/>
<line x1="1248" y1="244.08" x2="1263" y2="244.08" stroke="#333333" stroke-width="1.8"/>
<line x1="1248" y1="136.9" x2="1263" y2="136.9" stroke="#333333" stroke-width="1.8"/>
<text transform="translate(1242.48 578.01) scale(1 1.04)" font-size="33.6" fill="#4D4D4D" text-anchor="end">0</text>
<text transform="translate(1242.48 470.83) scale(1 1.04)" font-size="33.6" fill="#4D4D4D" text-anchor="end">25</text>
<text transform="translate(1242.48 363.66) scale(1 1.04)" font-size="33.6" fill="#4D4D4D" text-anchor="end">50</text>
<text transform="translate(1242.48 256.48) scale(1 1.04)" font-size="33.6" fill="#4D4D4D" text-anchor="end">75</text>
<text transform="translate(1242.48 149.31) scale(1 1.04)" font-size="33.6" fill="#4D4D4D" text-anchor="end">100</text>
<text transform="translate(1169.9 352.2) rotate(-90) scale(1 1.04)" font-size="44.3" fill="#000" text-anchor="middle">Variance Explained (%)</text>
<rect x="1983.1" y="288.1" width="37.8" height="38.3" fill="#999999"/>
<text transform="translate(2037.5 315.2) scale(1 1.04)" font-size="21" fill="#000" text-anchor="start">Unexplained</text>
<rect x="1983.1" y="330.2" width="37.8" height="38.3" fill="#3D3DC4"/>
<text transform="translate(2037.5 357.2) scale(1 1.04)" font-size="21" fill="#000" text-anchor="start">Treatment</text>
<rect x="1983.1" y="372.3" width="37.8" height="38.3" fill="#FFA500"/>
<text transform="translate(2037.5 399.2) scale(1 1.04)" font-size="21" fill="#000" text-anchor="start">Genotype</text>
<rect x="1983.1" y="414.4" width="37.8" height="38.3" fill="#A020F0"/>
<text transform="translate(2037.5 441.2) scale(1 1.04)" font-size="21" fill="#000" text-anchor="start">Interaction</text>
<line x1="217.5" y1="838.8" x2="217.5" y2="1366.6" stroke="#E3E3E3" stroke-width="0.8"/>
<line x1="370.3" y1="838.8" x2="370.3" y2="1366.6" stroke="#E3E3E3" stroke-width="0.8"/>
<line x1="523.1" y1="838.8" x2="523.1" y2="1366.6" stroke="#E3E3E3" stroke-width="0.8"/>
<line x1="675.9" y1="838.8" x2="675.9" y2="1366.6" stroke="#E3E3E3" stroke-width="0.8"/>
<line x1="175.2" y1="1318.9" x2="704.4" y2="1318.9" stroke="#E3E3E3" stroke-width="0.8"/>
<line x1="175.2" y1="1217.9" x2="704.4" y2="1217.9" stroke="#E3E3E3" stroke-width="0.8"/>
<line x1="175.2" y1="1116.9" x2="704.4" y2="1116.9" stroke="#E3E3E3" stroke-width="0.8"/>
<line x1="175.2" y1="1015.9" x2="704.4" y2="1015.9" stroke="#E3E3E3" stroke-width="0.8"/>
<line x1="175.2" y1="914.9" x2="704.4" y2="914.9" stroke="#E3E3E3" stroke-width="0.8"/>
<line x1="293.9" y1="838.8" x2="293.9" y2="1366.6" stroke="#D6D6D6" stroke-width="1.0"/>
<line x1="446.7" y1="838.8" x2="446.7" y2="1366.6" stroke="#D6D6D6" stroke-width="1.0"/>
<line x1="599.5" y1="838.8" x2="599.5" y2="1366.6" stroke="#D6D6D6" stroke-width="1.0"/>
<line x1="175.2" y1="1268.4" x2="704.4" y2="1268.4" stroke="#DEDEDE" stroke-width="1.5"/>
<line x1="175.2" y1="1167.4" x2="704.4" y2="1167.4" stroke="#DEDEDE" stroke-width="1.5"/>
<line x1="175.2" y1="1066.4" x2="704.4" y2="1066.4" stroke="#DEDEDE" stroke-width="1.5"/>
<line x1="175.2" y1="965.4" x2="704.4" y2="965.4" stroke="#DEDEDE" stroke-width="1.5"/>
<line x1="175.2" y1="864.4" x2="704.4" y2="864.4" stroke="#DEDEDE" stroke-width="1.5"/>
<line x1="293.9" y1="1366.6" x2="293.9" y2="1381.6" stroke="#B3B3B3" stroke-width="1.4"/>
<line x1="446.7" y1="1366.6" x2="446.7" y2="1381.6" stroke="#B3B3B3" stroke-width="1.4"/>
<line x1="599.5" y1="1366.6" x2="599.5" y2="1381.6" stroke="#B3B3B3" stroke-width="1.4"/>
<line x1="160.5" y1="1268.4" x2="175.2" y2="1268.4" stroke="#B3B3B3" stroke-width="1.4"/>
<line x1="160.5" y1="1167.4" x2="175.2" y2="1167.4" stroke="#B3B3B3" stroke-width="1.4"/>
<line x1="160.5" y1="1066.4" x2="175.2" y2="1066.4" stroke="#B3B3B3" stroke-width="1.4"/>
<line x1="160.5" y1="965.4" x2="175.2" y2="965.4" stroke="#B3B3B3" stroke-width="1.4"/>
<line x1="160.5" y1="864.4" x2="175.2" y2="864.4" stroke="#B3B3B3" stroke-width="1.4"/>
<text transform="translate(293.9 1414) scale(1 1.04)" font-size="34.8" fill="#4D4D4D" text-anchor="middle">50000</text>
<text transform="translate(446.7 1414) scale(1 1.04)" font-size="34.8" fill="#4D4D4D" text-anchor="middle">100000</text>
<text transform="translate(599.5 1414) scale(1 1.04)" font-size="34.8" fill="#4D4D4D" text-anchor="middle">150000</text>
<text transform="translate(155.94 1282.75) scale(1 1.04)" font-size="34.8" fill="#4D4D4D" text-anchor="end">-10000</text>
<text transform="translate(155.94 1181.75) scale(1 1.04)" font-size="34.8" fill="#4D4D4D" text-anchor="end">-5000</text>
<text transform="translate(155.94 1080.75) scale(1 1.04)" font-size="34.8" fill="#4D4D4D" text-anchor="end">0</text>
<text transform="translate(155.94 979.75) scale(1 1.04)" font-size="34.8" fill="#4D4D4D" text-anchor="end">5000</text>
<text transform="translate(155.94 878.75) scale(1 1.04)" font-size="34.8" fill="#4D4D4D" text-anchor="end">10000</text>
<text transform="translate(440 1460.8) scale(1 1.04)" font-size="44.2" fill="#000" text-anchor="middle">Fresh Weight (kg/hec)</text>
<text transform="translate(33.8 1108.6) rotate(-90) scale(1 1.04)" font-size="47.5" fill="#000" text-anchor="middle">&#916; Observed</text>
<g fill="#B3B3B3"><circle cx="348.61" cy="961.67" r="6"/><circle cx="293.89" cy="967.22" r="6"/><circle cx="278.61" cy="976.39" r="6"/><circle cx="323.06" cy="977.78" r="6"/><circle cx="324.44" cy="975" r="6"/><circle cx="380" cy="976.39" r="6"/><circle cx="398.61" cy="980" r="6"/><circle cx="444.44" cy="976.94" r="6"/><circle cx="475.28" cy="970.28" r="6"/><circle cx="598.06" cy="984.72" r="6"/><circle cx="198.06" cy="992.22" r="6"/><circle cx="282.22" cy="992.22" r="6"/><circle cx="294.72" cy="994.44" r="6"/><circle cx="299.44" cy="987.5" r="6"/><circle cx="307.78" cy="988.89" r="6"/><circle cx="310.56" cy="994.44" r="6"/><circle cx="361.94" cy="986.11" r="6"/><circle cx="364.72" cy="985.56" r="6"/><circle cx="409.72" cy="988.89" r="6"/><circle cx="450.83" cy="990.28" r="6"/><circle cx="461.11" cy="987.5" r="6"/><circle cx="563.89" cy="997.22" r="6"/><circle cx="626.11" cy="997.78" r="6"/><circle cx="236.11" cy="999.44" r="6"/><circle cx="316.11" cy="995.83" r="6"/><circle cx="327.22" cy="997.22" r="6"/><circle cx="335.56" cy="997.78" r="6"/><circle cx="310.56" cy="1002.78" r="6"/><circle cx="328.61" cy="1002.78" r="6"/><circle cx="355.56" cy="997.78" r="6"/><circle cx="348.06" cy="1005.56" r="6"/><circle cx="407.78" cy="1000.83" r="6"/><circle cx="387.78" cy="1007.5" r="6"/><circle cx="473.89" cy="1006.39" r="6"/><circle cx="489.17" cy="1007.5" r="6"/><circle cx="499.44" cy="1011.67" r="6"/><circle cx="611.94" cy="1008.33" r="6"/><circle cx="236.94" cy="1011.11" r="6"/><circle cx="297.22" cy="1011.11" r="6"/><circle cx="309.72" cy="1012.5" r="6"/><circle cx="346.67" cy="1012.5" r="6"/><circle cx="428.61" cy="1009.72" r="6"/><circle cx="426.67" cy="1013.89" r="6"/><circle cx="412.5" cy="1013.33" r="6"/><circle cx="400.83" cy="1016.11" r="6"/><circle cx="448.06" cy="1016.67" r="6"/><circle cx="550.83" cy="1020" r="6"/><circle cx="227.22" cy="1016.67" r="6"/><circle cx="231.39" cy="1020.83" r="6"/><circle cx="300" cy="1022.78" r="6"/><circle cx="334.17" cy="1018.06" r="6"/><circle cx="341.11" cy="1017.22" r="6"/><circle cx="350" cy="1016.67" r="6"/><circle cx="360.56" cy="1018.06" r="6"/><circle cx="363.33" cy="1016.67" r="6"/><circle cx="374.44" cy="1016.67" r="6"/><circle cx="377.22" cy="1023.61" r="6"/><circle cx="486.94" cy="1020" r="6"/><circle cx="495.28" cy="1022.78" r="6"/><circle cx="562.78" cy="1025" r="6"/><circle cx="460.56" cy="1022.22" r="6"/><circle cx="357.78" cy="1026.39" r="6"/><circle cx="330" cy="1029.17" r="6"/><circle cx="316.11" cy="1031.11" r="6"/><circle cx="306.39" cy="1033.33" r="6"/><circle cx="298.06" cy="1036.11" r="6"/><circle cx="303.61" cy="1038.33" r="6"/><circle cx="323.06" cy="1036.11" r="6"/><circle cx="368.89" cy="1034.72" r="6"/><circle cx="377.22" cy="1038.89" r="6"/><circle cx="386.11" cy="1036.11" r="6"/><circle cx="391.11" cy="1036.67" r="6"/><circle cx="439.72" cy="1027.78" r="6"/><circle cx="450.83" cy="1029.17" r="6"/><circle cx="467.5" cy="1026.39" r="6"/><circle cx="482.78" cy="1032.78" r="6"/><circle cx="496.67" cy="1030.56" r="6"/><circle cx="502.22" cy="1030.56" r="6"/><circle cx="511.94" cy="1031.94" r="6"/><circle cx="534.17" cy="1033.33" r="6"/><circle cx="561.94" cy="1034.72" r="6"/><circle cx="635.56" cy="1034.17" r="6"/><circle cx="655.56" cy="1039.72" r="6"/><circle cx="234.17" cy="1034.72" r="6"/><circle cx="246.67" cy="1038.33" r="6"/><circle cx="283.33" cy="1041.11" r="6"/><circle cx="268.89" cy="1045.83" r="6"/><circle cx="272.22" cy="1050.56" r="6"/><circle cx="343.89" cy="1044.44" r="6"/><circle cx="405" cy="1044.44" r="6"/><circle cx="427.22" cy="1036.11" r="6"/><circle cx="432.78" cy="1040.28" r="6"/><circle cx="468.89" cy="1038.89" r="6"/><circle cx="488.33" cy="1040.28" r="6"/><circle cx="559.17" cy="1041.11" r="6"/><circle cx="450" cy="1045.83" r="6"/><circle cx="425.83" cy="1047.22" r="6"/><circle cx="463.33" cy="1048.61" r="6"/><circle cx="477.22" cy="1051.39" r="6"/><circle cx="285.56" cy="1051.39" r="6"/><circle cx="291.11" cy="1050" r="6"/><circle cx="296.67" cy="1049.44" r="6"/><circle cx="305" cy="1055" r="6"/><circle cx="286.94" cy="1058.33" r="6"/><circle cx="293.89" cy="1061.11" r="6"/><circle cx="302.22" cy="1059.72" r="6"/><circle cx="313.33" cy="1062.5" r="6"/><circle cx="330" cy="1058.89" r="6"/><circle cx="341.11" cy="1055" r="6"/><circle cx="346.67" cy="1059.72" r="6"/><circle cx="357.78" cy="1057.78" r="6"/><circle cx="364.72" cy="1054.17" r="6"/><circle cx="371.67" cy="1052.22" r="6"/><circle cx="384.17" cy="1055.56" r="6"/><circle cx="386.94" cy="1048.61" r="6"/><circle cx="405" cy="1054.17" r="6"/><circle cx="418.89" cy="1052.78" r="6"/><circle cx="427.22" cy="1056.94" r="6"/><circle cx="440.56" cy="1054.44" r="6"/><circle cx="457.78" cy="1051.39" r="6"/><circle cx="482.78" cy="1055.56" r="6"/><circle cx="505.56" cy="1050.83" r="6"/><circle cx="531.39" cy="1056.94" r="6"/><circle cx="552.78" cy="1057.78" r="6"/><circle cx="644.44" cy="1050.83" r="6"/><circle cx="288.33" cy="1069.44" r="6"/><circle cx="307.78" cy="1069.44" r="6"/><circle cx="379.44" cy="1069.44" r="6"/><circle cx="398.06" cy="1065.28" r="6"/><circle cx="402.22" cy="1062.5" r="6"/><circle cx="411.94" cy="1063.89" r="6"/><circle cx="417.5" cy="1066.67" r="6"/><circle cx="432.78" cy="1069.44" r="6"/><circle cx="442.5" cy="1065.28" r="6"/><circle cx="446.11" cy="1070.83" r="6"/><circle cx="456.39" cy="1071.67" r="6"/><circle cx="470.28" cy="1066.67" r="6"/><circle cx="485.56" cy="1065.28" r="6"/><circle cx="491.11" cy="1066.67" r="6"/><circle cx="527.22" cy="1068.06" r="6"/><circle cx="552.22" cy="1070" r="6"/><circle cx="564.72" cy="1066.67" r="6"/><circle cx="573.06" cy="1072.22" r="6"/><circle cx="591.11" cy="1066.67" r="6"/><circle cx="626.39" cy="1068.89" r="6"/><circle cx="668.33" cy="1068.89" r="6"/><circle cx="349.44" cy="1072.22" r="6"/><circle cx="346.67" cy="1077.78" r="6"/><circle cx="368.89" cy="1077.78" r="6"/><circle cx="393.89" cy="1076.39" r="6"/><circle cx="407.78" cy="1077.78" r="6"/><circle cx="413.33" cy="1080.56" r="6"/><circle cx="486.94" cy="1072.22" r="6"/><circle cx="492.5" cy="1075" r="6"/><circle cx="488.33" cy="1080.56" r="6"/><circle cx="251.67" cy="1083.33" r="6"/><circle cx="274.44" cy="1084.72" r="6"/><circle cx="285.56" cy="1084.72" r="6"/><circle cx="313.33" cy="1086.11" r="6"/><circle cx="321.67" cy="1083.33" r="6"/><circle cx="331.39" cy="1081.94" r="6"/><circle cx="341.11" cy="1082.78" r="6"/><circle cx="346.67" cy="1086.11" r="6"/><circle cx="363.33" cy="1086.11" r="6"/><circle cx="375.83" cy="1087.5" r="6"/><circle cx="380" cy="1087.5" r="6"/><circle cx="391.11" cy="1086.11" r="6"/><circle cx="413.33" cy="1086.11" r="6"/><circle cx="423.06" cy="1086.11" r="6"/><circle cx="430" cy="1084.72" r="6"/><circle cx="442.5" cy="1083.33" r="6"/><circle cx="449.44" cy="1083.89" r="6"/><circle cx="464.72" cy="1085.56" r="6"/><circle cx="470.28" cy="1081.94" r="6"/><circle cx="598.06" cy="1077.78" r="6"/><circle cx="642.5" cy="1083.33" r="6"/><circle cx="671.67" cy="1087.5" r="6"/><circle cx="218.33" cy="1090.28" r="6"/><circle cx="250.83" cy="1091.67" r="6"/><circle cx="318.89" cy="1090.28" r="6"/><circle cx="341.11" cy="1090.28" r="6"/><circle cx="363.33" cy="1094.44" r="6"/><circle cx="388.33" cy="1093.89" r="6"/><circle cx="402.22" cy="1095.83" r="6"/><circle cx="413.33" cy="1093.06" r="6"/><circle cx="421.67" cy="1091.67" r="6"/><circle cx="427.22" cy="1094.44" r="6"/><circle cx="475" cy="1095.83" r="6"/><circle cx="502.22" cy="1091.67" r="6"/><circle cx="507.78" cy="1088.33" r="6"/><circle cx="527.22" cy="1089.44" r="6"/><circle cx="552.22" cy="1084.72" r="6"/><circle cx="556.39" cy="1092.22" r="6"/><circle cx="564.17" cy="1087.5" r="6"/><circle cx="582.78" cy="1096.67" r="6"/><circle cx="589.72" cy="1093.06" r="6"/><circle cx="598.06" cy="1090.28" r="6"/><circle cx="607.22" cy="1090.28" r="6"/><circle cx="253.61" cy="1101.39" r="6"/><circle cx="265.28" cy="1098.06" r="6"/><circle cx="316.11" cy="1101.39" r="6"/><circle cx="327.22" cy="1100.56" r="6"/><circle cx="346.11" cy="1098.61" r="6"/><circle cx="377.22" cy="1104.17" r="6"/><circle cx="393.89" cy="1105.56" r="6"/><circle cx="403.61" cy="1107.78" r="6"/><circle cx="418.89" cy="1106.94" r="6"/><circle cx="427.22" cy="1108.33" r="6"/><circle cx="486.94" cy="1109.72" r="6"/><circle cx="493.89" cy="1101.39" r="6"/><circle cx="516.11" cy="1101.39" r="6"/><circle cx="521.67" cy="1110.56" r="6"/><circle cx="534.17" cy="1100" r="6"/><circle cx="545.28" cy="1098.06" r="6"/><circle cx="271.67" cy="1110.28" r="6"/><circle cx="294.44" cy="1109.17" r="6"/><circle cx="306.39" cy="1113.89" r="6"/><circle cx="310.56" cy="1111.67" r="6"/><circle cx="321.67" cy="1116.67" r="6"/><circle cx="328.61" cy="1116.67" r="6"/><circle cx="346.67" cy="1111.11" r="6"/><circle cx="356.39" cy="1105" r="6"/><circle cx="418.89" cy="1113.89" r="6"/><circle cx="438.33" cy="1112.5" r="6"/><circle cx="457.78" cy="1116.67" r="6"/><circle cx="468.89" cy="1116.67" r="6"/><circle cx="476.67" cy="1113.89" r="6"/><circle cx="625.83" cy="1120.83" r="6"/><circle cx="680.83" cy="1121.39" r="6"/><circle cx="294.72" cy="1122.78" r="6"/><circle cx="318.89" cy="1126.39" r="6"/><circle cx="325.83" cy="1126.39" r="6"/><circle cx="339.72" cy="1122.22" r="6"/><circle cx="374.44" cy="1120.83" r="6"/><circle cx="379.44" cy="1126.39" r="6"/><circle cx="424.44" cy="1120.83" r="6"/><circle cx="437.78" cy="1122.22" r="6"/><circle cx="446.67" cy="1129.17" r="6"/><circle cx="457.78" cy="1126.39" r="6"/><circle cx="460.56" cy="1133.33" r="6"/><circle cx="474.44" cy="1122.78" r="6"/><circle cx="521.67" cy="1120.83" r="6"/><circle cx="407.78" cy="1129.72" r="6"/><circle cx="286.94" cy="1134.72" r="6"/><circle cx="285.56" cy="1141.67" r="6"/><circle cx="274.44" cy="1143.06" r="6"/><circle cx="348.61" cy="1135.28" r="6"/><circle cx="322.22" cy="1144.44" r="6"/><circle cx="334.72" cy="1148.06" r="6"/><circle cx="393.33" cy="1142.22" r="6"/><circle cx="384.72" cy="1147.22" r="6"/><circle cx="380" cy="1156.94" r="6"/><circle cx="439.72" cy="1144.44" r="6"/><circle cx="451.39" cy="1149.17" r="6"/><circle cx="475.28" cy="1145.83" r="6"/><circle cx="550.83" cy="1143.61" r="6"/><circle cx="251.39" cy="1159.17" r="6"/><circle cx="318.89" cy="1161.11" r="6"/><circle cx="493.06" cy="1159.17" r="6"/><circle cx="536.11" cy="1161.11" r="6"/><circle cx="300.83" cy="1168.89" r="6"/><circle cx="373.61" cy="1168.89" r="6"/><circle cx="383.61" cy="1170.83" r="6"/><circle cx="425.83" cy="1175.83" r="6"/><circle cx="310.65" cy="997.95" r="6"/><circle cx="313.34" cy="999.32" r="6"/><circle cx="346.59" cy="1004.96" r="6"/><circle cx="349.22" cy="1011.79" r="6"/><circle cx="341.5" cy="1013.55" r="6"/><circle cx="351.97" cy="1016.96" r="6"/><circle cx="362.01" cy="1018.91" r="6"/><circle cx="493.75" cy="1022.42" r="6"/><circle cx="303.54" cy="1032.58" r="6"/><circle cx="295.75" cy="1034.26" r="6"/><circle cx="427.78" cy="1045.51" r="6"/><circle cx="285.44" cy="1055.13" r="6"/><circle cx="294.7" cy="1051.75" r="6"/><circle cx="296.99" cy="1047.71" r="6"/><circle cx="302.36" cy="1058.65" r="6"/><circle cx="287.07" cy="1055.35" r="6"/><circle cx="294.85" cy="1063.26" r="6"/><circle cx="303.1" cy="1062.97" r="6"/><circle cx="383.36" cy="1048.83" r="6"/><circle cx="404.68" cy="1050.76" r="6"/><circle cx="428.32" cy="1059.69" r="6"/><circle cx="412.67" cy="1062.02" r="6"/><circle cx="448.75" cy="1070.91" r="6"/><circle cx="485.64" cy="1067.25" r="6"/><circle cx="343.93" cy="1080.26" r="6"/><circle cx="414.76" cy="1082.79" r="6"/><circle cx="484.55" cy="1074.57" r="6"/><circle cx="490.1" cy="1071.75" r="6"/><circle cx="343.87" cy="1085.59" r="6"/><circle cx="349.6" cy="1085.89" r="6"/><circle cx="411.58" cy="1082.28" r="6"/><circle cx="424.19" cy="1087.82" r="6"/><circle cx="432.61" cy="1083.03" r="6"/><circle cx="316.67" cy="1091.36" r="6"/><circle cx="343.48" cy="1093.88" r="6"/><circle cx="410.62" cy="1092.92" r="6"/><circle cx="424.74" cy="1091.07" r="6"/><circle cx="346.81" cy="1094.91" r="6"/><circle cx="428.57" cy="1111.59" r="6"/><circle cx="324.21" cy="1119.67" r="6"/><circle cx="329.86" cy="1114.69" r="6"/></g>
<g fill="#4D4D4D"><circle cx="300.28" cy="938.1" r="6"/><circle cx="301.75" cy="955.79" r="6"/><circle cx="385.3" cy="925.32" r="6"/><circle cx="405.45" cy="903.2" r="6"/><circle cx="428.05" cy="950.38" r="6"/><circle cx="451.15" cy="949.4" r="6"/><circle cx="459.5" cy="943.99" r="6"/><circle cx="488.5" cy="936.13" r="6"/><circle cx="543.54" cy="946.45" r="6"/><circle cx="207.88" cy="1218.22" r="6"/><circle cx="225.08" cy="1179.89" r="6"/><circle cx="270.79" cy="1183.33" r="6"/><circle cx="276.19" cy="1199.55" r="6"/><circle cx="303.22" cy="1189.72" r="6"/><circle cx="342.54" cy="1217.73" r="6"/><circle cx="352.86" cy="1213.8" r="6"/><circle cx="385.3" cy="1181.86" r="6"/><circle cx="424.12" cy="1195.12" r="6"/><circle cx="450.66" cy="1244.27" r="6"/><circle cx="406.92" cy="1261.96" r="6"/><circle cx="363.67" cy="1302.75" r="6"/></g>
<rect x="175.2" y="838.8" width="529.2" height="527.8" fill="none" stroke="#B3B3B3" stroke-width="1.6"/>
<line x1="175.2" y1="956.4" x2="895" y2="956.4" stroke="#228B22" stroke-width="2.6" stroke-dasharray="10.5 10.5"/>
<line x1="175.2" y1="1176.6" x2="895" y2="1176.6" stroke="#228B22" stroke-width="2.6" stroke-dasharray="10.5 10.5"/>
<path d="M726.2,863 C726.32,867.88 726.25,883.93 726.9,892.3 C727.55,900.67 728.48,906.65 730.1,913.2 C731.72,919.75 734.63,925.92 736.6,931.6 C738.57,937.28 740.58,943.17 741.9,947.3 C743.22,951.43 744.07,954.88 744.5,956.4" fill="none" stroke="#4D4D4D" stroke-width="2.2"/>
<path d="M744.5,956.4 C745.8,958.37 746.63,963.62 752.3,968.2 C757.97,972.78 768.9,977.8 778.5,983.9 C788.1,990 799,997.38 809.9,1004.8 C820.8,1012.22 833.43,1021.42 843.9,1028.4 C854.37,1035.38 865.73,1041.03 872.7,1046.7 C879.67,1052.37 883.32,1058.05 885.7,1062.4 C888.08,1066.75 887.87,1069.1 887,1072.8 C886.13,1076.5 885.5,1080.67 880.5,1084.6 C875.5,1088.53 866.15,1091.83 857,1096.4 C847.85,1100.97 836.5,1106.33 825.6,1112 C814.7,1117.67 801.2,1124.72 791.6,1130.4 C782,1136.08 774.55,1140.87 768,1146.1 C761.45,1151.33 756,1156.7 752.3,1161.8 C748.6,1166.9 746.88,1174.22 745.8,1176.7" fill="none" stroke="#B3B3B3" stroke-width="2.2"/>
<path d="M745.8,1176.7 C744.27,1179.45 739,1186.1 736.6,1193.2 C734.2,1200.3 732.7,1210.58 731.4,1219.3 C730.1,1228.02 729.45,1236.78 728.8,1245.5 C728.15,1254.22 727.72,1262.88 727.5,1271.6 C727.28,1280.32 727.72,1286.02 727.5,1297.8 C727.28,1309.58 726.42,1334.88 726.2,1342.3" fill="none" stroke="#4D4D4D" stroke-width="2.2"/>
<line x1="1285" y1="840.3" x2="1285" y2="1386.2" stroke="#E3E3E3" stroke-width="0.8"/>
<line x1="1462.2" y1="840.3" x2="1462.2" y2="1386.2" stroke="#E3E3E3" stroke-width="0.8"/>
<line x1="1639.4" y1="840.3" x2="1639.4" y2="1386.2" stroke="#E3E3E3" stroke-width="0.8"/>
<line x1="1150.4" y1="1350" x2="1714.4" y2="1350" stroke="#E3E3E3" stroke-width="0.8"/>
<line x1="1150.4" y1="1233.2" x2="1714.4" y2="1233.2" stroke="#E3E3E3" stroke-width="0.8"/>
<line x1="1150.4" y1="1116.4" x2="1714.4" y2="1116.4" stroke="#E3E3E3" stroke-width="0.8"/>
<line x1="1150.4" y1="999.6" x2="1714.4" y2="999.6" stroke="#E3E3E3" stroke-width="0.8"/>
<line x1="1150.4" y1="882.8" x2="1714.4" y2="882.8" stroke="#E3E3E3" stroke-width="0.8"/>
<line x1="1196.4" y1="840.3" x2="1196.4" y2="1386.2" stroke="#D6D6D6" stroke-width="1.0"/>
<line x1="1373.6" y1="840.3" x2="1373.6" y2="1386.2" stroke="#D6D6D6" stroke-width="1.0"/>
<line x1="1550.8" y1="840.3" x2="1550.8" y2="1386.2" stroke="#D6D6D6" stroke-width="1.0"/>
<line x1="1150.4" y1="1291.6" x2="1714.4" y2="1291.6" stroke="#DEDEDE" stroke-width="1.5"/>
<line x1="1150.4" y1="1174.8" x2="1714.4" y2="1174.8" stroke="#DEDEDE" stroke-width="1.5"/>
<line x1="1150.4" y1="1058" x2="1714.4" y2="1058" stroke="#DEDEDE" stroke-width="1.5"/>
<line x1="1150.4" y1="941.2" x2="1714.4" y2="941.2" stroke="#DEDEDE" stroke-width="1.5"/>
<line x1="1196.4" y1="1386.2" x2="1196.4" y2="1401.2" stroke="#B3B3B3" stroke-width="1.4"/>
<line x1="1373.6" y1="1386.2" x2="1373.6" y2="1401.2" stroke="#B3B3B3" stroke-width="1.4"/>
<line x1="1550.8" y1="1386.2" x2="1550.8" y2="1401.2" stroke="#B3B3B3" stroke-width="1.4"/>
<line x1="1134.9" y1="1291.6" x2="1150.4" y2="1291.6" stroke="#B3B3B3" stroke-width="1.4"/>
<line x1="1134.9" y1="1174.8" x2="1150.4" y2="1174.8" stroke="#B3B3B3" stroke-width="1.4"/>
<line x1="1134.9" y1="1058" x2="1150.4" y2="1058" stroke="#B3B3B3" stroke-width="1.4"/>
<line x1="1134.9" y1="941.2" x2="1150.4" y2="941.2" stroke="#B3B3B3" stroke-width="1.4"/>
<text transform="translate(1196.4 1435) scale(1 1.04)" font-size="35.8" fill="#4D4D4D" text-anchor="middle">100</text>
<text transform="translate(1373.6 1435) scale(1 1.04)" font-size="35.8" fill="#4D4D4D" text-anchor="middle">200</text>
<text transform="translate(1550.8 1435) scale(1 1.04)" font-size="35.8" fill="#4D4D4D" text-anchor="middle">300</text>
<text transform="translate(1130.19 1306.32) scale(1 1.04)" font-size="35.8" fill="#4D4D4D" text-anchor="end">-20</text>
<text transform="translate(1130.19 1189.52) scale(1 1.04)" font-size="35.8" fill="#4D4D4D" text-anchor="end">-10</text>
<text transform="translate(1130.19 1072.72) scale(1 1.04)" font-size="35.8" fill="#4D4D4D" text-anchor="end">0</text>
<text transform="translate(1130.19 955.92) scale(1 1.04)" font-size="35.8" fill="#4D4D4D" text-anchor="end">10</text>
<text transform="translate(1432.4 1483.3) scale(1 1.04)" font-size="46.9" fill="#000" text-anchor="middle">Plant Height (cm)</text>
<text transform="translate(1060.9 1115) rotate(-90) scale(1 1.04)" font-size="47.6" fill="#000" text-anchor="middle">&#916; Observed</text>
<g fill="#B3B3B3"><circle cx="1348.54" cy="968.72" r="6"/><circle cx="1349.45" cy="976.33" r="6"/><circle cx="1357.06" cy="983.95" r="6"/><circle cx="1360.11" cy="983.95" r="6"/><circle cx="1416.44" cy="974.2" r="6"/><circle cx="1426.49" cy="978.47" r="6"/><circle cx="1430.15" cy="990.65" r="6"/><circle cx="1436.85" cy="968.11" r="6"/><circle cx="1447.81" cy="982.42" r="6"/><circle cx="1472.78" cy="976.33" r="6"/><circle cx="1476.43" cy="985.47" r="6"/><circle cx="1494.09" cy="991.56" r="6"/><circle cx="1501.1" cy="983.95" r="6"/><circle cx="1522.11" cy="983.34" r="6"/><circle cx="1529.11" cy="971.77" r="6"/><circle cx="1536.11" cy="985.47" r="6"/><circle cx="1543.73" cy="988.21" r="6"/><circle cx="1571.74" cy="990.65" r="6"/><circle cx="1607.37" cy="968.72" r="6"/><circle cx="1618.33" cy="983.03" r="6"/><circle cx="1327.22" cy="984.86" r="6"/><circle cx="1281.55" cy="980.9" r="6"/><circle cx="1238.92" cy="987.9" r="6"/><circle cx="1249.88" cy="1000.69" r="6"/><circle cx="1264.19" cy="1003.74" r="6"/><circle cx="1271.19" cy="1001.61" r="6"/><circle cx="1274.85" cy="1011.35" r="6"/><circle cx="1292.2" cy="1006.78" r="6"/><circle cx="1323.87" cy="1005.26" r="6"/><circle cx="1348.54" cy="996.13" r="6"/><circle cx="1356.46" cy="1000.69" r="6"/><circle cx="1369.85" cy="1002.83" r="6"/><circle cx="1380.51" cy="1008.31" r="6"/><circle cx="1394.52" cy="1009.83" r="6"/><circle cx="1405.79" cy="1014.4" r="6"/><circle cx="1451.46" cy="1000.69" r="6"/><circle cx="1472.78" cy="999.17" r="6"/><circle cx="1468.21" cy="1010.74" r="6"/><circle cx="1477.34" cy="1008.31" r="6"/><circle cx="1490.44" cy="1012.87" r="6"/><circle cx="1497.75" cy="1002.83" r="6"/><circle cx="1501.71" cy="1011.35" r="6"/><circle cx="1515.41" cy="1015.92" r="6"/><circle cx="1522.11" cy="1008.31" r="6"/><circle cx="1536.11" cy="1012.87" r="6"/><circle cx="1546.77" cy="1008.31" r="6"/><circle cx="1558.04" cy="1006.78" r="6"/><circle cx="1568.7" cy="1003.74" r="6"/><circle cx="1579.35" cy="999.17" r="6"/><circle cx="1217.6" cy="1013.79" r="6"/><circle cx="1228.26" cy="1015.92" r="6"/><circle cx="1249.88" cy="1015.01" r="6"/><circle cx="1210.29" cy="1029.62" r="6"/><circle cx="1242.87" cy="1032.06" r="6"/><circle cx="1260.23" cy="1024.14" r="6"/><circle cx="1263.28" cy="1032.67" r="6"/><circle cx="1274.24" cy="1025.97" r="6"/><circle cx="1299.21" cy="1023.53" r="6"/><circle cx="1298.6" cy="1034.19" r="6"/><circle cx="1288.55" cy="1038.76" r="6"/><circle cx="1256.58" cy="1041.19" r="6"/><circle cx="1227.65" cy="1040.28" r="6"/><circle cx="1338.79" cy="1025.97" r="6"/><circle cx="1341.23" cy="1017.44" r="6"/><circle cx="1366.81" cy="1027.19" r="6"/><circle cx="1367.42" cy="1014.4" r="6"/><circle cx="1380.51" cy="1015.92" r="6"/><circle cx="1408.22" cy="1023.53" r="6"/><circle cx="1410.35" cy="1035.1" r="6"/><circle cx="1417.36" cy="1032.67" r="6"/><circle cx="1455.42" cy="1018.96" r="6"/><circle cx="1458.47" cy="1030.23" r="6"/><circle cx="1476.43" cy="1018.96" r="6"/><circle cx="1504.75" cy="1034.19" r="6"/><circle cx="1519.06" cy="1029.62" r="6"/><circle cx="1533.07" cy="1023.53" r="6"/><circle cx="1550.43" cy="1032.06" r="6"/><circle cx="1553.78" cy="1020.49" r="6"/><circle cx="1561.08" cy="1028.1" r="6"/><circle cx="1568.7" cy="1018.05" r="6"/><circle cx="1593.36" cy="1023.53" r="6"/><circle cx="1607.37" cy="1041.19" r="6"/><circle cx="1628.68" cy="1030.54" r="6"/><circle cx="1688.98" cy="1029.62" r="6"/><circle cx="1536.11" cy="1040.58" r="6"/><circle cx="1456.03" cy="1040.28" r="6"/><circle cx="1446.89" cy="1047.89" r="6"/><circle cx="1420.4" cy="1043.33" r="6"/><circle cx="1426.49" cy="1049.42" r="6"/><circle cx="1346.41" cy="1041.19" r="6"/><circle cx="1355.54" cy="1038.76" r="6"/><circle cx="1366.2" cy="1042.72" r="6"/><circle cx="1363.15" cy="1050.94" r="6"/><circle cx="1174.97" cy="1056.42" r="6"/><circle cx="1210.29" cy="1053.98" r="6"/><circle cx="1213.95" cy="1051.55" r="6"/><circle cx="1228.56" cy="1046.37" r="6"/><circle cx="1240.74" cy="1044.24" r="6"/><circle cx="1227.65" cy="1060.07" r="6"/><circle cx="1236.78" cy="1060.07" r="6"/><circle cx="1256.58" cy="1058.55" r="6"/><circle cx="1268.76" cy="1060.68" r="6"/><circle cx="1277.89" cy="1063.12" r="6"/><circle cx="1287.03" cy="1066.16" r="6"/><circle cx="1299.21" cy="1057.03" r="6"/><circle cx="1302.25" cy="1049.42" r="6"/><circle cx="1320.52" cy="1058.55" r="6"/><circle cx="1328.14" cy="1064.64" r="6"/><circle cx="1315.96" cy="1066.77" r="6"/><circle cx="1344.88" cy="1057.03" r="6"/><circle cx="1373.81" cy="1059.46" r="6"/><circle cx="1387.52" cy="1047.89" r="6"/><circle cx="1393.61" cy="1053.98" r="6"/><circle cx="1402.74" cy="1049.42" r="6"/><circle cx="1408.83" cy="1058.55" r="6"/><circle cx="1414.92" cy="1066.16" r="6"/><circle cx="1430.15" cy="1067.69" r="6"/><circle cx="1437.76" cy="1061.6" r="6"/><circle cx="1445.37" cy="1058.55" r="6"/><circle cx="1456.03" cy="1053.98" r="6"/><circle cx="1469.73" cy="1057.03" r="6"/><circle cx="1477.34" cy="1053.98" r="6"/><circle cx="1483.43" cy="1050.94" r="6"/><circle cx="1491.05" cy="1063.12" r="6"/><circle cx="1501.71" cy="1057.03" r="6"/><circle cx="1509.32" cy="1050.94" r="6"/><circle cx="1518.45" cy="1058.55" r="6"/><circle cx="1526.07" cy="1051.55" r="6"/><circle cx="1539.77" cy="1068.29" r="6"/><circle cx="1554.38" cy="1063.12" r="6"/><circle cx="1561.08" cy="1046.37" r="6"/><circle cx="1569.61" cy="1060.07" r="6"/><circle cx="1579.35" cy="1043.33" r="6"/><circle cx="1583.92" cy="1053.98" r="6"/><circle cx="1597.02" cy="1052.76" r="6"/><circle cx="1607.37" cy="1066.16" r="6"/><circle cx="1632.03" cy="1063.12" r="6"/><circle cx="1646.35" cy="1045.76" r="6"/><circle cx="1671.32" cy="1058.55" r="6"/><circle cx="1688.98" cy="1064.03" r="6"/><circle cx="1217.6" cy="1072.25" r="6"/><circle cx="1219.43" cy="1078.34" r="6"/><circle cx="1225.52" cy="1073.78" r="6"/><circle cx="1250.49" cy="1070.73" r="6"/><circle cx="1255.05" cy="1078.34" r="6"/><circle cx="1265.71" cy="1072.25" r="6"/><circle cx="1273.33" cy="1075.3" r="6"/><circle cx="1280.94" cy="1078.34" r="6"/><circle cx="1293.12" cy="1073.78" r="6"/><circle cx="1299.21" cy="1072.25" r="6"/><circle cx="1340.32" cy="1070.73" r="6"/><circle cx="1349.45" cy="1073.78" r="6"/><circle cx="1360.11" cy="1076.82" r="6"/><circle cx="1369.24" cy="1078.34" r="6"/><circle cx="1376.86" cy="1075.3" r="6"/><circle cx="1384.47" cy="1076.82" r="6"/><circle cx="1379.9" cy="1085.96" r="6"/><circle cx="1402.74" cy="1075.3" r="6"/><circle cx="1405.18" cy="1082.91" r="6"/><circle cx="1419.49" cy="1079.87" r="6"/><circle cx="1430.15" cy="1085.96" r="6"/><circle cx="1440.8" cy="1081.39" r="6"/><circle cx="1449.94" cy="1076.82" r="6"/><circle cx="1457.55" cy="1073.78" r="6"/><circle cx="1462.12" cy="1084.43" r="6"/><circle cx="1472.78" cy="1078.34" r="6"/><circle cx="1480.39" cy="1084.43" r="6"/><circle cx="1488" cy="1075.3" r="6"/><circle cx="1494.09" cy="1085.96" r="6"/><circle cx="1503.23" cy="1078.34" r="6"/><circle cx="1512.36" cy="1076.82" r="6"/><circle cx="1515.41" cy="1089" r="6"/><circle cx="1533.07" cy="1087.48" r="6"/><circle cx="1545.86" cy="1084.43" r="6"/><circle cx="1556.52" cy="1079.87" r="6"/><circle cx="1576.31" cy="1082" r="6"/><circle cx="1588.49" cy="1078.34" r="6"/><circle cx="1597.02" cy="1071.64" r="6"/><circle cx="1618.33" cy="1078.34" r="6"/><circle cx="1632.64" cy="1082.91" r="6"/><circle cx="1639.65" cy="1080.78" r="6"/><circle cx="1220.65" cy="1087.48" r="6"/><circle cx="1253.53" cy="1087.48" r="6"/><circle cx="1264.19" cy="1087.48" r="6"/><circle cx="1277.89" cy="1087.48" r="6"/><circle cx="1285.51" cy="1082.91" r="6"/><circle cx="1296.16" cy="1084.43" r="6"/><circle cx="1316.87" cy="1088.09" r="6"/><circle cx="1370.77" cy="1092.05" r="6"/><circle cx="1488.92" cy="1089" r="6"/><circle cx="1504.75" cy="1089" r="6"/><circle cx="1231.61" cy="1094.48" r="6"/><circle cx="1220.65" cy="1104.84" r="6"/><circle cx="1274.85" cy="1098.14" r="6"/><circle cx="1296.16" cy="1107.27" r="6"/><circle cx="1309.87" cy="1103.31" r="6"/><circle cx="1334.23" cy="1101.79" r="6"/><circle cx="1349.45" cy="1095.09" r="6"/><circle cx="1352.5" cy="1104.23" r="6"/><circle cx="1376.86" cy="1105.75" r="6"/><circle cx="1380.51" cy="1113.36" r="6"/><circle cx="1391.47" cy="1102.1" r="6"/><circle cx="1402.13" cy="1107.88" r="6"/><circle cx="1411.88" cy="1095.09" r="6"/><circle cx="1420.4" cy="1095.09" r="6"/><circle cx="1437.15" cy="1097.22" r="6"/><circle cx="1486.48" cy="1098.14" r="6"/><circle cx="1551.04" cy="1096" r="6"/><circle cx="1545.25" cy="1108.79" r="6"/><circle cx="1565.04" cy="1101.18" r="6"/><circle cx="1565.04" cy="1108.79" r="6"/><circle cx="1575.7" cy="1101.79" r="6"/><circle cx="1593.36" cy="1104.23" r="6"/><circle cx="1632.03" cy="1095.7" r="6"/><circle cx="1252.92" cy="1120.37" r="6"/><circle cx="1268.76" cy="1110.32" r="6"/><circle cx="1288.55" cy="1117.32" r="6"/><circle cx="1309.87" cy="1123.41" r="6"/><circle cx="1360.11" cy="1117.32" r="6"/><circle cx="1366.81" cy="1116.41" r="6"/><circle cx="1405.79" cy="1124.63" r="6"/><circle cx="1497.75" cy="1117.32" r="6"/><circle cx="1508.71" cy="1119.45" r="6"/><circle cx="1547.38" cy="1117.32" r="6"/><circle cx="1561.08" cy="1125.54" r="6"/><circle cx="1571.74" cy="1120.97" r="6"/><circle cx="1593.36" cy="1124.93" r="6"/><circle cx="1271.19" cy="1127.98" r="6"/><circle cx="1281.55" cy="1130.11" r="6"/><circle cx="1341.23" cy="1134.98" r="6"/><circle cx="1366.5" cy="1134.98" r="6"/><circle cx="1383.86" cy="1134.37" r="6"/><circle cx="1486.48" cy="1138.64" r="6"/><circle cx="1540.68" cy="1145.33" r="6"/><circle cx="1551.34" cy="1142.9" r="6"/><circle cx="1597.02" cy="1146.25" r="6"/><circle cx="1271.19" cy="1148.99" r="6"/><circle cx="1378.48" cy="1006.59" r="6"/><circle cx="1470.89" cy="1007.26" r="6"/><circle cx="1478.2" cy="1010.26" r="6"/><circle cx="1566.04" cy="999.95" r="6"/><circle cx="1365.5" cy="1015.74" r="6"/><circle cx="1554.31" cy="1017.5" r="6"/><circle cx="1286.45" cy="1067.61" r="6"/><circle cx="1455.37" cy="1055.12" r="6"/><circle cx="1229.5" cy="1075.34" r="6"/><circle cx="1254.13" cy="1075.68" r="6"/><circle cx="1272.01" cy="1075.39" r="6"/><circle cx="1284.27" cy="1080.69" r="6"/><circle cx="1291.57" cy="1077.39" r="6"/><circle cx="1369" cy="1080" r="6"/><circle cx="1376.55" cy="1082.58" r="6"/><circle cx="1427.6" cy="1089.23" r="6"/><circle cx="1481.92" cy="1087.41" r="6"/><circle cx="1489.23" cy="1074.5" r="6"/><circle cx="1494.23" cy="1086.75" r="6"/><circle cx="1267.28" cy="1086.95" r="6"/><circle cx="1281.24" cy="1088.45" r="6"/><circle cx="1288.31" cy="1082.89" r="6"/><circle cx="1490.56" cy="1087.63" r="6"/><circle cx="1504.94" cy="1086.58" r="6"/><circle cx="1373.45" cy="1101.82" r="6"/></g>
<g fill="#4D4D4D"><circle cx="1235.38" cy="949.23" r="6"/><circle cx="1288.21" cy="938.46" r="6"/><circle cx="1291.79" cy="959.49" r="6"/><circle cx="1298.97" cy="954.36" r="6"/><circle cx="1387.69" cy="896.41" r="6"/><circle cx="1387.69" cy="910.26" r="6"/><circle cx="1430.26" cy="953.85" r="6"/><circle cx="1256.41" cy="1165.64" r="6"/><circle cx="1260" cy="1201.54" r="6"/><circle cx="1291.79" cy="1157.44" r="6"/><circle cx="1337.95" cy="1185.64" r="6"/><circle cx="1441.03" cy="1157.44" r="6"/><circle cx="1490.26" cy="1158.46" r="6"/><circle cx="1501.03" cy="1149.74" r="6"/><circle cx="1561.03" cy="1162.05" r="6"/><circle cx="1486.67" cy="1329.23" r="6"/></g>
<rect x="1150.4" y="840.3" width="564" height="545.9" fill="none" stroke="#B3B3B3" stroke-width="1.6"/>
<line x1="1150.4" y1="966.5" x2="1918" y2="966.5" stroke="#228B22" stroke-width="2.6" stroke-dasharray="10.5 10.5"/>
<line x1="1150.4" y1="1149.6" x2="1918" y2="1149.6" stroke="#228B22" stroke-width="2.6" stroke-dasharray="10.5 10.5"/>
<path d="M1737.5,864.4 C1737.8,868.53 1738.78,882 1739.3,889.2 C1739.82,896.4 1740.6,901.05 1740.6,907.6 C1740.6,914.15 1738.95,922.4 1739.3,928.5 C1739.65,934.6 1741.05,939.4 1742.7,944.2 C1744.35,949 1747.23,953.6 1749.2,957.3 C1751.17,961 1753.62,964.88 1754.5,966.4" fill="none" stroke="#4D4D4D" stroke-width="2.2"/>
<path d="M1754.5,966.4 C1756.68,968.37 1762.82,973.83 1767.6,978.2 C1772.38,982.57 1777.98,988.68 1783.2,992.6 C1788.42,996.52 1794.32,998.87 1798.9,1001.7 C1803.48,1004.53 1808.17,1006.55 1810.7,1009.6 C1813.23,1012.65 1813,1016.08 1814.1,1020 C1815.2,1023.92 1814.15,1029.17 1817.3,1033.1 C1820.45,1037.03 1824.72,1040.33 1833,1043.6 C1841.28,1046.87 1856.98,1049.87 1867,1052.7 C1877.02,1055.53 1886.13,1057.77 1893.1,1060.6 C1900.07,1063.43 1907.05,1066.87 1908.8,1069.7 C1910.55,1072.53 1910.57,1074.77 1903.6,1077.6 C1896.63,1080.43 1879.65,1083.87 1867,1086.7 C1854.35,1089.53 1839.05,1091.98 1827.7,1094.6 C1816.35,1097.22 1806.75,1099.35 1798.9,1102.4 C1791.05,1105.45 1786.27,1108.75 1780.6,1112.9 C1774.93,1117.05 1769.03,1122.72 1764.9,1127.3 C1760.77,1131.88 1757.75,1136.7 1755.8,1140.4 C1753.85,1144.1 1753.63,1147.98 1753.2,1149.5" fill="none" stroke="#B3B3B3" stroke-width="2.2"/>
<path d="M1753.2,1149.5 C1752.1,1151.9 1748.57,1159.32 1746.6,1163.9 C1744.63,1168.48 1742.62,1172.63 1741.4,1177 C1740.18,1181.37 1739.82,1181.38 1739.3,1190.1 C1738.78,1198.82 1738.6,1216.22 1738.3,1229.3 C1738,1242.38 1737.5,1255.52 1737.5,1268.6 C1737.5,1281.68 1738.3,1292.33 1738.3,1307.8 C1738.3,1323.27 1737.63,1352.47 1737.5,1361.4" fill="none" stroke="#4D4D4D" stroke-width="2.2"/>
<line x1="219.6" y1="1907" x2="514.4" y2="1907" stroke="#EBEBEB" stroke-width="1"/>
<line x1="219.6" y1="1805.8" x2="514.4" y2="1805.8" stroke="#EBEBEB" stroke-width="1"/>
<line x1="219.6" y1="1704.6" x2="514.4" y2="1704.6" stroke="#EBEBEB" stroke-width="1"/>
<line x1="219.6" y1="1603.4" x2="514.4" y2="1603.4" stroke="#EBEBEB" stroke-width="1"/>
<line x1="219.6" y1="1957.6" x2="514.4" y2="1957.6" stroke="#EBEBEB" stroke-width="1.8"/>
<line x1="219.6" y1="1856.4" x2="514.4" y2="1856.4" stroke="#EBEBEB" stroke-width="1.8"/>
<line x1="219.6" y1="1755.2" x2="514.4" y2="1755.2" stroke="#EBEBEB" stroke-width="1.8"/>
<line x1="219.6" y1="1654" x2="514.4" y2="1654" stroke="#EBEBEB" stroke-width="1.8"/>
<line x1="219.6" y1="1552.8" x2="514.4" y2="1552.8" stroke="#EBEBEB" stroke-width="1.8"/>
<line x1="300" y1="1534.1" x2="300" y2="1977.5" stroke="#EBEBEB" stroke-width="1.8"/>
<line x1="434" y1="1534.1" x2="434" y2="1977.5" stroke="#EBEBEB" stroke-width="1.8"/>
<rect x="239.7" y="1552.8" width="120.6" height="300.77" fill="#999999"/>
<rect x="239.7" y="1853.57" width="120.6" height="14.98" fill="#3D3DC4"/>
<rect x="239.7" y="1868.54" width="120.6" height="89.06" fill="#FFA500"/>
<line x1="300" y1="1977.5" x2="300" y2="1990.5" stroke="#333333" stroke-width="1.8"/>
<rect x="373.7" y="1552.8" width="120.6" height="287.41" fill="#999999"/>
<rect x="373.7" y="1840.21" width="120.6" height="16.6" fill="#3D3DC4"/>
<rect x="373.7" y="1856.8" width="120.6" height="100.8" fill="#FFA500"/>
<line x1="434" y1="1977.5" x2="434" y2="1990.5" stroke="#333333" stroke-width="1.8"/>
<rect x="219.6" y="1534.1" width="294.8" height="443.4" fill="none" stroke="#8F8F8F" stroke-width="1.8"/>
<line x1="206" y1="1957.6" x2="219.6" y2="1957.6" stroke="#333333" stroke-width="1.8"/>
<line x1="206" y1="1856.4" x2="219.6" y2="1856.4" stroke="#333333" stroke-width="1.8"/>
<line x1="206" y1="1755.2" x2="219.6" y2="1755.2" stroke="#333333" stroke-width="1.8"/>
<line x1="206" y1="1654" x2="219.6" y2="1654" stroke="#333333" stroke-width="1.8"/>
<line x1="206" y1="1552.8" x2="219.6" y2="1552.8" stroke="#333333" stroke-width="1.8"/>
<text transform="translate(200.33 1969.64) scale(1 1.04)" font-size="32.6" fill="#4D4D4D" text-anchor="end">0</text>
<text transform="translate(200.33 1868.44) scale(1 1.04)" font-size="32.6" fill="#4D4D4D" text-anchor="end">25</text>
<text transform="translate(200.33 1767.24) scale(1 1.04)" font-size="32.6" fill="#4D4D4D" text-anchor="end">50</text>
<text transform="translate(200.33 1666.04) scale(1 1.04)" font-size="32.6" fill="#4D4D4D" text-anchor="end">75</text>
<text transform="translate(200.33 1564.84) scale(1 1.04)" font-size="32.6" fill="#4D4D4D" text-anchor="end">100</text>
<text transform="translate(130.7 1755.9) rotate(-90) scale(1 1.04)" font-size="42.5" fill="#000" text-anchor="middle">Variance Explained (%)</text>
<text transform="translate(323 2020) rotate(-45) scale(1 1.04)" font-size="33" fill="#4D4D4D" text-anchor="end">&#948;<tspan font-size="21" dx="5" dy="-15">15</tspan><tspan dy="15"> N (%) Original</tspan></text>
<text transform="translate(457 2020) rotate(-45) scale(1 1.04)" font-size="33" fill="#4D4D4D" text-anchor="end">&#948;<tspan font-size="21" dx="5" dy="-15">15</tspan><tspan dy="15"> N (%) PC123 Adjusted</tspan></text>
<rect x="556.2" y="1694.9" width="37.4" height="36.5" fill="#999999"/>
<text transform="translate(609 1721.3) scale(1 1.04)" font-size="21" fill="#000" text-anchor="start">Unexplained</text>
<rect x="556.2" y="1735.4" width="37.4" height="36.5" fill="#3D3DC4"/>
<text transform="translate(609 1761.8) scale(1 1.04)" font-size="21" fill="#000" text-anchor="start">Treatment</text>
<rect x="556.2" y="1775.9" width="37.4" height="36.5" fill="#FFA500"/>
<text transform="translate(609 1802.3) scale(1 1.04)" font-size="21" fill="#000" text-anchor="start">Genotype</text>
<rect x="556.2" y="1816.4" width="37.4" height="36.5" fill="#A020F0"/>
<text transform="translate(609 1842.8) scale(1 1.04)" font-size="21" fill="#000" text-anchor="start">Interaction</text>
<line x1="901.95" y1="1586" x2="901.95" y2="2061" stroke="#E3E3E3" stroke-width="0.8"/>
<line x1="1093.05" y1="1586" x2="1093.05" y2="2061" stroke="#E3E3E3" stroke-width="0.8"/>
<line x1="1284.15" y1="1586" x2="1284.15" y2="2061" stroke="#E3E3E3" stroke-width="0.8"/>
<line x1="877.6" y1="2028.05" x2="1423" y2="2028.05" stroke="#E3E3E3" stroke-width="0.8"/>
<line x1="877.6" y1="1903.35" x2="1423" y2="1903.35" stroke="#E3E3E3" stroke-width="0.8"/>
<line x1="877.6" y1="1778.65" x2="1423" y2="1778.65" stroke="#E3E3E3" stroke-width="0.8"/>
<line x1="877.6" y1="1653.95" x2="1423" y2="1653.95" stroke="#E3E3E3" stroke-width="0.8"/>
<line x1="997.5" y1="1586" x2="997.5" y2="2061" stroke="#D6D6D6" stroke-width="1.0"/>
<line x1="1188.6" y1="1586" x2="1188.6" y2="2061" stroke="#D6D6D6" stroke-width="1.0"/>
<line x1="1379.7" y1="1586" x2="1379.7" y2="2061" stroke="#D6D6D6" stroke-width="1.0"/>
<line x1="877.6" y1="1965.7" x2="1423" y2="1965.7" stroke="#DEDEDE" stroke-width="1.3"/>
<line x1="877.6" y1="1841" x2="1423" y2="1841" stroke="#DEDEDE" stroke-width="1.3"/>
<line x1="877.6" y1="1716.3" x2="1423" y2="1716.3" stroke="#DEDEDE" stroke-width="1.3"/>
<line x1="877.6" y1="1591.6" x2="1423" y2="1591.6" stroke="#DEDEDE" stroke-width="1.3"/>
<rect x="877.6" y="1586" width="545.4" height="475" fill="none" stroke="#B3B3B3" stroke-width="1.4"/>
<line x1="997.5" y1="2061" x2="997.5" y2="2066" stroke="#B3B3B3" stroke-width="1.3"/>
<line x1="1188.6" y1="2061" x2="1188.6" y2="2066" stroke="#B3B3B3" stroke-width="1.3"/>
<line x1="1379.7" y1="2061" x2="1379.7" y2="2066" stroke="#B3B3B3" stroke-width="1.3"/>
<line x1="872.6" y1="1965.7" x2="877.6" y2="1965.7" stroke="#B3B3B3" stroke-width="1.3"/>
<line x1="872.6" y1="1841" x2="877.6" y2="1841" stroke="#B3B3B3" stroke-width="1.3"/>
<line x1="872.6" y1="1716.3" x2="877.6" y2="1716.3" stroke="#B3B3B3" stroke-width="1.3"/>
<line x1="872.6" y1="1591.6" x2="877.6" y2="1591.6" stroke="#B3B3B3" stroke-width="1.3"/>
<text transform="translate(997.5 2089) scale(1 1.04)" font-size="24.2" fill="#4D4D4D" text-anchor="middle">10</text>
<text transform="translate(1188.6 2089) scale(1 1.04)" font-size="24.2" fill="#4D4D4D" text-anchor="middle">20</text>
<text transform="translate(1379.7 2089) scale(1 1.04)" font-size="24.2" fill="#4D4D4D" text-anchor="middle">30</text>
<text transform="translate(868.41 1976.13) scale(1 1.04)" font-size="24.2" fill="#4D4D4D" text-anchor="end">150</text>
<text transform="translate(868.41 1851.43) scale(1 1.04)" font-size="24.2" fill="#4D4D4D" text-anchor="end">200</text>
<text transform="translate(868.41 1726.73) scale(1 1.04)" font-size="24.2" fill="#4D4D4D" text-anchor="end">250</text>
<text transform="translate(868.41 1602.03) scale(1 1.04)" font-size="24.2" fill="#4D4D4D" text-anchor="end">300</text>
<text transform="translate(1150.3 2120.8) scale(1 1.04)" font-size="31.8" fill="#000" text-anchor="middle">OTU Abundance</text>
<text transform="translate(817.2 1823.9) rotate(-90) scale(1 1.04)" font-size="31.5" fill="#000" text-anchor="middle">Plant Height (cm)</text>
<g fill="#000"><circle cx="1150.38" cy="1607.31" r="6"/><circle cx="959.28" cy="1646.97" r="6"/><circle cx="959.28" cy="1661.93" r="6"/><circle cx="940.17" cy="1736.5" r="6"/><circle cx="1093.05" cy="1746.48" r="6"/><circle cx="959.28" cy="1766.18" r="6"/><circle cx="921.06" cy="1791.12" r="6"/><circle cx="921.06" cy="1821.05" r="6"/><circle cx="940.17" cy="1850.98" r="6"/><circle cx="921.06" cy="1865.94" r="6"/><circle cx="1016.61" cy="1875.42" r="6"/><circle cx="1016.61" cy="1895.37" r="6"/><circle cx="1054.83" cy="1875.42" r="6"/><circle cx="1150.38" cy="1880.9" r="6"/><circle cx="1169.49" cy="1860.95" r="6"/><circle cx="1226.82" cy="1890.38" r="6"/><circle cx="1265.04" cy="1736.25" r="6"/><circle cx="1284.15" cy="1875.42" r="6"/><circle cx="1303.26" cy="1796.11" r="6"/><circle cx="1360.59" cy="1696.6" r="6"/><circle cx="1379.7" cy="1796.11" r="6"/><circle cx="1398.81" cy="1960.46" r="6"/><circle cx="901.95" cy="1955.72" r="6"/><circle cx="978.39" cy="1945.5" r="6"/><circle cx="1073.94" cy="1965.2" r="6"/><circle cx="921.06" cy="1995.13" r="6"/><circle cx="959.28" cy="2015.08" r="6"/><circle cx="959.28" cy="2039.77" r="6"/><circle cx="997.5" cy="2015.08" r="6"/><circle cx="1035.72" cy="2000.12" r="6"/><circle cx="1073.94" cy="2034.78" r="6"/><circle cx="1131.27" cy="1985.15" r="6"/><circle cx="1207.71" cy="1995.13" r="6"/><circle cx="1245.93" cy="1995.13" r="6"/><circle cx="1322.37" cy="2029.55" r="6"/></g>
<line x1="1719.85" y1="1586.6" x2="1719.85" y2="2060.9" stroke="#E3E3E3" stroke-width="0.8"/>
<line x1="1851.75" y1="1586.6" x2="1851.75" y2="2060.9" stroke="#E3E3E3" stroke-width="0.8"/>
<line x1="1983.65" y1="1586.6" x2="1983.65" y2="2060.9" stroke="#E3E3E3" stroke-width="0.8"/>
<line x1="2115.55" y1="1586.6" x2="2115.55" y2="2060.9" stroke="#E3E3E3" stroke-width="0.8"/>
<line x1="1587.3" y1="2003.6" x2="2138.2" y2="2003.6" stroke="#E3E3E3" stroke-width="0.8"/>
<line x1="1587.3" y1="1884.8" x2="2138.2" y2="1884.8" stroke="#E3E3E3" stroke-width="0.8"/>
<line x1="1587.3" y1="1766" x2="2138.2" y2="1766" stroke="#E3E3E3" stroke-width="0.8"/>
<line x1="1587.3" y1="1647.2" x2="2138.2" y2="1647.2" stroke="#E3E3E3" stroke-width="0.8"/>
<line x1="1653.9" y1="1586.6" x2="1653.9" y2="2060.9" stroke="#D6D6D6" stroke-width="1.0"/>
<line x1="1785.8" y1="1586.6" x2="1785.8" y2="2060.9" stroke="#D6D6D6" stroke-width="1.0"/>
<line x1="1917.7" y1="1586.6" x2="1917.7" y2="2060.9" stroke="#D6D6D6" stroke-width="1.0"/>
<line x1="2049.6" y1="1586.6" x2="2049.6" y2="2060.9" stroke="#D6D6D6" stroke-width="1.0"/>
<line x1="1587.3" y1="1944.2" x2="2138.2" y2="1944.2" stroke="#DEDEDE" stroke-width="1.3"/>
<line x1="1587.3" y1="1825.4" x2="2138.2" y2="1825.4" stroke="#DEDEDE" stroke-width="1.3"/>
<line x1="1587.3" y1="1706.6" x2="2138.2" y2="1706.6" stroke="#DEDEDE" stroke-width="1.3"/>
<line x1="1587.3" y1="1587.8" x2="2138.2" y2="1587.8" stroke="#DEDEDE" stroke-width="1.3"/>
<rect x="1587.3" y="1586.6" width="550.9" height="474.3" fill="none" stroke="#B3B3B3" stroke-width="1.4"/>
<line x1="1653.9" y1="2060.9" x2="1653.9" y2="2065.9" stroke="#B3B3B3" stroke-width="1.3"/>
<line x1="1785.8" y1="2060.9" x2="1785.8" y2="2065.9" stroke="#B3B3B3" stroke-width="1.3"/>
<line x1="1917.7" y1="2060.9" x2="1917.7" y2="2065.9" stroke="#B3B3B3" stroke-width="1.3"/>
<line x1="2049.6" y1="2060.9" x2="2049.6" y2="2065.9" stroke="#B3B3B3" stroke-width="1.3"/>
<line x1="1582.3" y1="1944.2" x2="1587.3" y2="1944.2" stroke="#B3B3B3" stroke-width="1.3"/>
<line x1="1582.3" y1="1825.4" x2="1587.3" y2="1825.4" stroke="#B3B3B3" stroke-width="1.3"/>
<line x1="1582.3" y1="1706.6" x2="1587.3" y2="1706.6" stroke="#B3B3B3" stroke-width="1.3"/>
<line x1="1582.3" y1="1587.8" x2="1587.3" y2="1587.8" stroke="#B3B3B3" stroke-width="1.3"/>
<text transform="translate(1653.9 2088.2) scale(1 1.04)" font-size="24.2" fill="#4D4D4D" text-anchor="middle">-0.5</text>
<text transform="translate(1785.8 2088.2) scale(1 1.04)" font-size="24.2" fill="#4D4D4D" text-anchor="middle">0.0</text>
<text transform="translate(1917.7 2088.2) scale(1 1.04)" font-size="24.2" fill="#4D4D4D" text-anchor="middle">0.5</text>
<text transform="translate(2049.6 2088.2) scale(1 1.04)" font-size="24.2" fill="#4D4D4D" text-anchor="middle">1.0</text>
<text transform="translate(1578.11 1953.13) scale(1 1.04)" font-size="24.2" fill="#4D4D4D" text-anchor="end">-20</text>
<text transform="translate(1578.11 1834.33) scale(1 1.04)" font-size="24.2" fill="#4D4D4D" text-anchor="end">0</text>
<text transform="translate(1578.11 1715.53) scale(1 1.04)" font-size="24.2" fill="#4D4D4D" text-anchor="end">20</text>
<text transform="translate(1578.11 1596.73) scale(1 1.04)" font-size="24.2" fill="#4D4D4D" text-anchor="end">40</text>
<text transform="translate(1862.75 2121.2) scale(1 1.04)" font-size="31.6" fill="#000" text-anchor="middle">Calibrated OTU Abundance</text>
<text transform="translate(1534 1823) rotate(-90) scale(1 1.04)" font-size="31.3" fill="#000" text-anchor="middle">Calibrated Plant Height</text>
<line x1="1676.85" y1="1586.6" x2="1676.85" y2="2060.9" stroke="#000" stroke-width="1.6" stroke-dasharray="6.5 6.5"/>
<line x1="1611.69" y1="1887.18" x2="1676.85" y2="1887.18" stroke="#E41A1C" stroke-width="1.7"/>
<line x1="1676.85" y1="1887.18" x2="2113.97" y2="1651.36" stroke="#0000CD" stroke-width="1.7"/>
<g fill="#BEBEBE"><circle cx="1676.85" cy="1862.23" r="6"/><circle cx="1611.69" cy="1930.54" r="6"/><circle cx="1641.77" cy="1999.44" r="6"/><circle cx="1618.81" cy="2039.83" r="6"/></g>
<g fill="#000"><circle cx="2001.06" cy="1607.4" r="6"/><circle cx="1681.34" cy="1647.2" r="6"/><circle cx="1718.27" cy="1641.26" r="6"/><circle cx="2113.97" cy="1653.14" r="6"/><circle cx="2020.05" cy="1679.87" r="6"/><circle cx="1834.6" cy="1697.69" r="6"/><circle cx="1869.42" cy="1703.04" r="6"/><circle cx="1789.76" cy="1735.71" r="6"/><circle cx="2002.64" cy="1749.37" r="6"/><circle cx="1719.59" cy="1789.76" r="6"/><circle cx="1690.83" cy="1813.22" r="6"/><circle cx="1737.52" cy="1828.96" r="6"/><circle cx="1748.34" cy="1829.86" r="6"/><circle cx="1855.71" cy="1825.99" r="6"/><circle cx="1867.58" cy="1822.07" r="6"/><circle cx="2019.26" cy="1822.07" r="6"/><circle cx="1725.65" cy="1865.79" r="6"/><circle cx="1795.03" cy="1875.89" r="6"/><circle cx="1720.11" cy="1884.21" r="6"/><circle cx="1677.91" cy="1902.32" r="6"/><circle cx="1817.72" cy="1906.18" r="6"/><circle cx="1702.18" cy="1947.76" r="6"/><circle cx="1685.82" cy="1954.3" r="6"/><circle cx="1737" cy="1953.11" r="6"/><circle cx="1708.24" cy="1967.96" r="6"/></g>
</svg></body></html>
